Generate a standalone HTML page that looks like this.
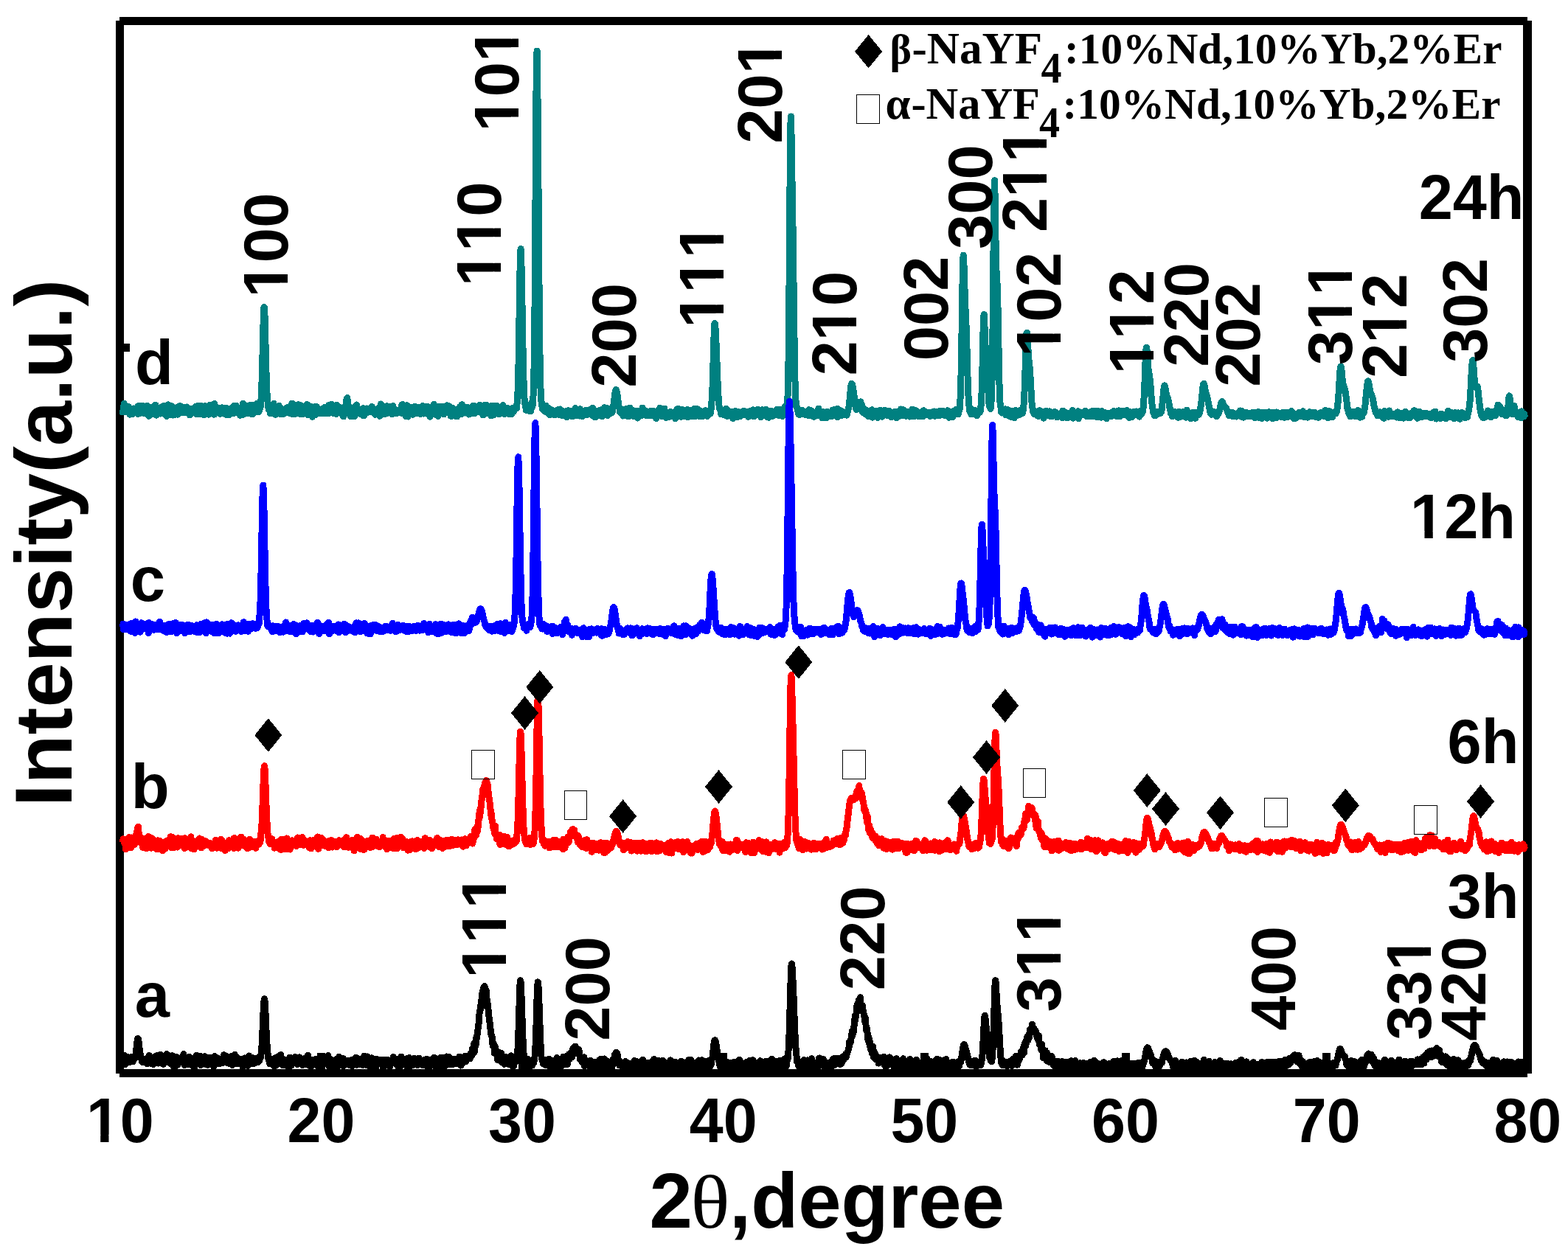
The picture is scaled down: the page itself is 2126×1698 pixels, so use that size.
<!DOCTYPE html>
<html lang="en"><head><meta charset="utf-8"><title>XRD patterns</title>
<style>
html,body{margin:0;padding:0;background:#fff;}
body{width:2126px;height:1698px;overflow:hidden;}
svg{display:block;}
text{font-kerning:none;font-variant-ligatures:none;}
.s{font-family:"Liberation Sans", Arial, Helvetica, sans-serif;font-weight:bold;fill:#000;}
.r{font-family:"Liberation Serif", "Times New Roman", Times, serif;font-weight:bold;fill:#000;}
.c{fill:none;stroke-width:9;stroke-linejoin:round;stroke-linecap:butt;}
</style></head><body>
<svg width="2126" height="1698" viewBox="0 0 2126 1698" role="img" aria-label="XRD patterns">
<rect width="2126" height="1698" fill="#fff"/>
<g id="axes" fill="#000" shape-rendering="crispEdges">
<rect x="157" y="28" width="11" height="1428"/>
<rect x="2065" y="28" width="12" height="1428"/>
<rect x="162" y="23" width="1909" height="11"/>
<rect x="162" y="1450" width="1909" height="11"/>
<rect x="162" y="466" width="14" height="11"/>
<rect x="430.1" y="1428" width="11" height="24"/>
<rect x="702.8" y="1428" width="11" height="24"/>
<rect x="975.4" y="1428" width="11" height="24"/>
<rect x="1248.1" y="1428" width="11" height="24"/>
<rect x="1520.7" y="1428" width="11" height="24"/>
<rect x="1793.4" y="1428" width="11" height="24"/>
</g>
<g id="curves" shape-rendering="crispEdges">
<polyline class="c" stroke="#008080" points="166.5,562.8 167.1,555.2 167.6,554.5 168.2,547.1 168.7,556.3 169.3,555.1 169.8,554.3 170.4,557.5 170.9,557.9 171.5,552.4 172.0,553.0 172.6,554.5 173.1,558.9 173.7,558.4 174.2,551.5 174.8,552.2 175.3,559.0 175.9,562.1 176.4,556.2 177.0,553.8 177.5,560.4 178.1,555.2 178.6,559.0 179.2,562.0 179.7,558.6 180.3,556.6 180.8,559.0 181.4,553.9 181.9,555.7 182.5,554.2 183.0,555.6 183.6,554.5 184.1,555.6 184.7,554.9 185.2,556.6 185.8,556.6 186.3,557.4 186.9,561.5 187.4,550.6 188.0,561.1 188.5,555.4 189.1,551.8 189.6,555.7 190.2,556.7 190.7,560.3 191.3,552.4 191.8,557.1 192.4,556.8 192.9,550.1 193.5,551.9 194.0,558.5 194.6,558.9 195.1,560.4 195.7,558.3 196.2,557.8 196.8,556.8 197.3,560.8 197.9,553.2 198.4,555.8 199.0,557.8 199.5,550.5 200.1,561.2 200.6,553.4 201.2,556.1 201.7,564.3 202.3,553.3 202.8,554.4 203.4,562.1 203.9,552.3 204.5,554.7 205.0,558.2 205.6,558.0 206.1,558.5 206.7,557.7 207.2,561.3 207.8,560.1 208.3,558.5 208.9,553.8 209.4,553.7 210.0,549.3 210.5,558.9 211.1,549.6 211.6,559.6 212.2,563.2 212.7,552.4 213.3,553.8 213.8,554.6 214.4,559.4 214.9,553.2 215.5,555.9 216.0,554.4 216.6,555.4 217.1,561.1 217.7,552.8 218.2,556.6 218.8,557.4 219.3,559.5 219.9,551.7 220.4,560.5 221.0,558.0 221.5,559.6 222.1,556.6 222.6,550.3 223.2,554.0 223.7,559.4 224.3,556.5 224.8,556.2 225.4,563.0 225.9,564.5 226.5,556.2 227.0,563.5 227.6,549.0 228.1,548.8 228.7,559.6 229.2,555.4 229.8,558.5 230.3,558.3 230.9,556.0 231.4,558.9 232.0,556.9 232.5,550.7 233.1,557.2 233.6,557.1 234.2,563.1 234.7,552.2 235.3,556.4 235.8,554.8 236.4,555.9 236.9,562.5 237.5,557.8 238.0,554.7 238.6,556.9 239.1,559.2 239.7,552.7 240.2,555.4 240.8,562.1 241.3,559.5 241.9,556.2 242.4,554.6 243.0,555.8 243.5,550.6 244.1,559.9 244.6,557.6 245.2,556.9 245.7,551.6 246.3,553.7 246.8,558.3 247.4,557.3 247.9,554.5 248.5,558.2 249.0,559.9 249.6,553.9 250.1,554.4 250.7,553.2 251.2,552.1 251.8,559.3 252.3,558.3 252.9,557.6 253.4,552.0 254.0,552.5 254.5,556.1 255.1,554.9 255.6,556.8 256.2,553.8 256.7,558.8 257.3,563.0 257.8,562.1 258.4,562.3 258.9,556.7 259.5,559.8 260.0,555.0 260.6,559.8 261.1,555.0 261.7,554.6 262.2,554.0 262.8,559.0 263.3,557.4 263.9,557.1 264.4,552.2 265.0,556.9 265.5,551.1 266.1,561.9 266.6,555.9 267.2,557.1 267.7,556.0 268.3,550.5 268.8,551.3 269.4,556.3 269.9,561.9 270.5,552.3 271.0,553.8 271.6,556.2 272.1,550.2 272.7,550.1 273.2,554.9 273.8,556.2 274.3,555.0 274.9,562.1 275.4,555.8 276.0,557.7 276.5,562.3 277.1,562.7 277.6,550.5 278.2,555.0 278.7,560.7 279.3,551.3 279.8,553.0 280.4,551.6 280.9,551.4 281.5,552.2 282.0,557.1 282.6,561.1 283.1,562.1 283.7,556.4 284.2,549.1 284.8,556.2 285.3,555.2 285.9,557.7 286.4,555.9 287.0,549.8 287.5,557.9 288.1,548.8 288.6,553.9 289.2,557.6 289.7,557.7 290.3,562.2 290.8,547.7 291.4,557.7 291.9,559.0 292.5,555.2 293.0,558.8 293.6,552.3 294.1,558.8 294.7,558.4 295.2,552.8 295.8,553.9 296.3,555.7 296.9,554.0 297.4,560.3 298.0,557.1 298.5,561.3 299.1,560.8 299.6,556.6 300.2,555.7 300.7,552.9 301.3,553.4 301.8,553.4 302.4,557.7 302.9,553.1 303.5,556.7 304.0,557.1 304.6,554.6 305.1,555.7 305.7,561.8 306.2,562.4 306.8,553.5 307.3,555.7 307.9,555.0 308.4,555.4 309.0,562.1 309.5,558.9 310.1,561.1 310.6,563.0 311.2,554.8 311.7,555.7 312.3,556.6 312.8,560.2 313.4,556.1 313.9,558.8 314.5,560.7 315.0,560.7 315.6,558.1 316.1,553.5 316.7,550.7 317.2,560.5 317.8,558.1 318.3,552.9 318.9,554.5 319.4,554.7 320.0,550.2 320.5,557.3 321.1,553.5 321.6,555.3 322.2,559.1 322.7,556.0 323.3,558.4 323.8,557.9 324.4,556.5 324.9,556.6 325.5,563.3 326.0,555.7 326.6,562.4 327.1,553.0 327.7,559.1 328.2,557.0 328.8,553.7 329.3,547.1 329.9,562.2 330.4,552.1 331.0,552.8 331.5,556.8 332.1,556.5 332.6,557.4 333.2,555.4 333.7,550.8 334.3,559.5 334.8,552.9 335.4,557.1 335.9,558.4 336.5,560.6 337.0,555.5 337.6,555.1 338.1,555.4 338.7,549.4 339.2,553.4 339.8,552.5 340.3,551.9 340.9,556.8 341.4,555.0 342.0,562.0 342.5,561.6 343.1,549.2 343.6,556.5 344.2,552.4 344.7,558.0 345.3,556.5 345.8,559.1 346.4,556.9 346.9,558.3 347.5,554.7 348.0,547.5 348.6,551.8 349.1,552.8 349.7,553.8 350.2,552.3 350.8,558.8 351.3,554.0 351.9,556.4 352.4,551.9 353.0,553.0 353.5,544.8 354.1,540.3 354.6,527.8 355.2,513.8 355.7,494.3 356.3,470.0 356.8,446.9 357.4,427.6 357.9,416.7 358.5,416.9 359.0,428.0 359.6,447.0 360.1,470.4 360.7,493.0 361.2,511.9 361.8,527.6 362.3,540.4 362.9,544.0 363.4,549.2 364.0,553.4 364.5,555.7 365.1,556.2 365.6,551.0 366.2,560.6 366.7,554.7 367.3,555.4 367.8,555.5 368.4,554.8 368.9,552.4 369.5,554.6 370.0,560.4 370.6,551.1 371.1,547.2 371.7,557.9 372.2,557.2 372.8,558.7 373.3,562.4 373.9,553.5 374.4,556.8 375.0,558.0 375.5,560.7 376.1,560.0 376.6,553.1 377.2,551.2 377.7,555.3 378.3,550.3 378.8,560.4 379.4,554.8 379.9,555.0 380.5,553.0 381.0,562.0 381.6,557.4 382.1,554.8 382.7,558.6 383.2,556.1 383.8,558.6 384.3,561.3 384.9,555.4 385.4,558.3 386.0,558.2 386.5,560.6 387.1,558.6 387.6,556.5 388.2,554.0 388.7,557.5 389.3,552.6 389.8,558.9 390.4,556.7 390.9,558.5 391.5,554.5 392.0,553.5 392.6,553.1 393.1,560.5 393.7,555.6 394.2,555.6 394.8,549.8 395.3,556.3 395.9,547.2 396.4,561.5 397.0,555.6 397.5,556.6 398.1,551.2 398.6,552.4 399.2,558.7 399.7,555.7 400.3,558.1 400.8,561.2 401.4,558.9 401.9,549.5 402.5,552.9 403.0,552.3 403.6,553.1 404.1,548.8 404.7,548.9 405.2,553.8 405.8,554.3 406.3,558.4 406.9,555.3 407.4,561.7 408.0,549.8 408.5,551.4 409.1,557.4 409.6,555.5 410.2,552.9 410.7,559.3 411.3,560.5 411.8,561.3 412.4,555.1 412.9,556.5 413.5,557.3 414.0,556.7 414.6,560.2 415.1,554.7 415.7,557.9 416.2,548.5 416.8,559.3 417.3,562.5 417.9,556.4 418.4,560.3 419.0,550.5 419.5,555.3 420.1,550.9 420.6,557.7 421.2,558.4 421.7,551.6 422.3,553.5 422.8,554.4 423.4,565.3 423.9,556.3 424.5,557.0 425.0,557.8 425.6,557.6 426.1,555.7 426.7,551.7 427.2,554.1 427.8,562.5 428.3,557.5 428.9,555.2 429.4,551.7 430.0,556.3 430.5,556.7 431.1,554.2 431.6,559.8 432.2,554.4 432.7,555.9 433.3,559.6 433.8,557.4 434.4,560.6 434.9,555.7 435.5,555.0 436.0,558.2 436.6,557.3 437.1,560.8 437.7,558.0 438.2,556.5 438.8,558.2 439.3,558.9 439.9,552.5 440.4,556.1 441.0,555.4 441.5,560.9 442.1,554.8 442.6,560.4 443.2,552.0 443.7,556.4 444.3,560.4 444.8,555.6 445.4,560.7 445.9,549.3 446.5,556.7 447.0,557.2 447.6,556.1 448.1,551.2 448.7,559.0 449.2,548.2 449.8,560.0 450.3,557.6 450.9,560.1 451.4,555.7 452.0,552.6 452.5,554.7 453.1,554.9 453.6,558.7 454.2,555.5 454.7,558.1 455.3,558.3 455.8,561.6 456.4,549.5 456.9,555.2 457.5,559.0 458.0,559.1 458.6,554.6 459.1,555.7 459.7,556.3 460.2,557.1 460.8,554.6 461.3,554.3 461.9,552.7 462.4,555.3 463.0,561.5 463.5,553.3 464.1,560.0 464.6,563.5 465.2,557.3 465.7,564.9 466.3,556.1 466.8,562.4 467.4,556.0 467.9,550.9 468.5,554.2 469.0,555.9 469.6,543.1 470.1,544.5 470.7,539.6 471.2,542.3 471.8,550.1 472.3,551.0 472.9,556.1 473.4,560.1 474.0,552.2 474.5,554.2 475.1,556.8 475.6,564.9 476.2,555.6 476.7,555.0 477.3,558.3 477.8,564.2 478.4,554.7 478.9,555.7 479.5,557.0 480.0,559.5 480.6,564.5 481.1,552.5 481.7,551.0 482.2,557.4 482.8,558.7 483.3,549.0 483.9,554.7 484.4,560.3 485.0,555.1 485.5,558.6 486.1,557.5 486.6,559.2 487.2,558.4 487.7,557.8 488.3,561.3 488.8,555.0 489.4,557.4 489.9,560.9 490.5,555.0 491.0,555.7 491.6,554.3 492.1,553.7 492.7,564.0 493.2,558.6 493.8,563.5 494.3,559.5 494.9,557.3 495.4,556.0 496.0,557.9 496.5,556.8 497.1,560.2 497.6,554.0 498.2,557.6 498.7,558.6 499.3,556.2 499.8,556.2 500.4,558.9 500.9,558.9 501.5,556.6 502.0,557.0 502.6,555.1 503.1,558.9 503.7,556.6 504.2,551.6 504.8,555.9 505.3,559.1 505.9,557.9 506.4,553.9 507.0,559.5 507.5,559.0 508.1,559.0 508.6,562.2 509.2,555.8 509.7,559.0 510.3,556.0 510.8,560.3 511.4,560.9 511.9,558.6 512.5,559.5 513.0,554.1 513.6,559.0 514.1,552.8 514.7,564.3 515.2,560.8 515.8,551.6 516.3,548.0 516.9,561.3 517.4,553.9 518.0,558.7 518.5,552.3 519.1,557.0 519.6,554.5 520.2,558.8 520.7,555.6 521.3,561.8 521.8,554.1 522.4,561.1 522.9,556.7 523.5,558.5 524.0,551.3 524.6,550.7 525.1,560.3 525.7,552.5 526.2,555.5 526.8,555.6 527.3,553.6 527.9,557.4 528.4,551.9 529.0,552.6 529.5,559.9 530.1,553.9 530.6,559.2 531.2,559.0 531.7,561.9 532.3,558.2 532.8,550.4 533.4,554.5 533.9,555.3 534.5,560.9 535.0,557.9 535.6,555.0 536.1,558.2 536.7,555.5 537.2,558.5 537.8,557.2 538.3,560.5 538.9,557.8 539.4,560.1 540.0,556.6 540.5,559.1 541.1,556.2 541.6,558.9 542.2,557.4 542.7,556.3 543.3,555.3 543.8,555.7 544.4,558.3 544.9,548.9 545.5,560.9 546.0,548.6 546.6,556.0 547.1,555.6 547.7,559.2 548.2,557.5 548.8,556.5 549.3,557.0 549.9,559.9 550.4,564.6 551.0,558.0 551.5,549.7 552.1,555.3 552.6,558.1 553.2,565.1 553.7,554.1 554.3,555.4 554.8,558.6 555.4,557.8 555.9,552.2 556.5,559.9 557.0,552.2 557.6,555.8 558.1,561.2 558.7,552.2 559.2,555.5 559.8,562.3 560.3,555.8 560.9,553.2 561.4,554.7 562.0,559.5 562.5,551.4 563.1,554.6 563.6,551.8 564.2,552.8 564.7,561.0 565.3,556.4 565.8,555.2 566.4,558.1 566.9,554.3 567.5,552.6 568.0,560.6 568.6,559.7 569.1,553.9 569.7,559.1 570.2,561.6 570.8,558.3 571.3,558.4 571.9,552.5 572.4,556.3 573.0,550.4 573.5,560.4 574.1,556.1 574.6,561.1 575.2,554.1 575.7,559.6 576.3,551.4 576.8,555.3 577.4,558.5 577.9,557.9 578.5,556.5 579.0,551.2 579.6,561.1 580.1,558.9 580.7,560.5 581.2,560.5 581.8,555.4 582.3,558.0 582.9,565.1 583.4,553.9 584.0,558.1 584.5,554.8 585.1,562.6 585.6,557.3 586.2,553.2 586.7,554.7 587.3,552.0 587.8,549.0 588.4,548.4 588.9,554.3 589.5,552.9 590.0,557.2 590.6,553.9 591.1,557.5 591.7,562.7 592.2,552.8 592.8,552.6 593.3,560.0 593.9,564.6 594.4,553.8 595.0,551.0 595.5,555.7 596.1,555.3 596.6,559.1 597.2,553.1 597.7,555.8 598.3,555.7 598.8,551.4 599.4,551.4 599.9,558.2 600.5,558.5 601.0,554.0 601.6,562.0 602.1,559.8 602.7,558.3 603.2,558.8 603.8,557.9 604.3,559.1 604.9,559.6 605.4,556.9 606.0,549.8 606.5,556.2 607.1,553.9 607.6,552.7 608.2,558.7 608.7,550.7 609.3,559.5 609.8,554.6 610.4,552.6 610.9,553.8 611.5,564.5 612.0,561.6 612.6,555.7 613.1,560.3 613.7,562.7 614.2,553.8 614.8,555.7 615.3,559.8 615.9,558.0 616.4,555.5 617.0,562.1 617.5,558.4 618.1,559.3 618.6,564.7 619.2,558.3 619.7,564.9 620.3,557.7 620.8,556.2 621.4,557.1 621.9,559.6 622.5,558.9 623.0,557.9 623.6,551.7 624.1,553.1 624.7,555.8 625.2,559.1 625.8,561.5 626.3,548.7 626.9,556.2 627.4,555.2 628.0,556.3 628.5,557.4 629.1,553.8 629.6,552.3 630.2,560.1 630.7,559.2 631.3,555.3 631.8,556.3 632.4,554.4 632.9,552.0 633.5,558.8 634.0,554.4 634.6,552.9 635.1,554.7 635.7,562.1 636.2,558.1 636.8,557.5 637.3,557.0 637.9,559.5 638.4,559.1 639.0,552.3 639.5,555.9 640.1,554.5 640.6,557.4 641.2,556.4 641.7,550.0 642.3,560.5 642.8,557.5 643.4,550.9 643.9,560.4 644.5,557.0 645.0,558.2 645.6,556.7 646.1,557.2 646.7,555.0 647.2,551.1 647.8,554.6 648.3,557.2 648.9,556.7 649.4,558.7 650.0,556.3 650.5,549.2 651.1,559.0 651.6,553.9 652.2,552.1 652.7,555.5 653.3,552.1 653.8,557.7 654.4,553.5 654.9,562.9 655.5,555.7 656.0,554.7 656.6,554.4 657.1,549.4 657.7,553.7 658.2,554.0 658.8,555.4 659.3,549.2 659.9,556.6 660.4,560.7 661.0,555.1 661.5,556.3 662.1,557.9 662.6,553.9 663.2,555.1 663.7,559.7 664.3,557.2 664.8,552.5 665.4,550.7 665.9,564.0 666.5,558.0 667.0,551.4 667.6,557.1 668.1,558.8 668.7,557.0 669.2,550.5 669.8,562.5 670.3,558.6 670.9,556.0 671.4,558.9 672.0,555.9 672.5,555.5 673.1,559.5 673.6,550.2 674.2,559.9 674.7,557.9 675.3,559.1 675.8,559.6 676.4,561.7 676.9,561.3 677.5,559.5 678.0,555.4 678.6,558.9 679.1,555.1 679.7,553.6 680.2,558.1 680.8,557.8 681.3,560.5 681.9,549.7 682.4,558.6 683.0,558.8 683.5,557.0 684.1,561.4 684.6,553.8 685.2,557.7 685.7,555.4 686.3,556.5 686.8,553.4 687.4,556.1 687.9,558.7 688.5,556.9 689.0,557.6 689.6,553.9 690.1,561.5 690.7,554.1 691.2,556.3 691.8,558.1 692.3,555.6 692.9,558.5 693.4,556.6 694.0,561.3 694.5,557.5 695.1,556.9 695.6,553.2 696.2,556.8 696.7,558.1 697.3,556.2 697.8,552.4 698.4,553.2 698.9,553.6 699.5,553.5 700.0,549.8 700.6,553.5 701.1,546.3 701.7,539.2 702.2,525.7 702.8,505.8 703.3,478.1 703.9,441.0 704.4,402.5 705.0,367.7 705.5,344.5 706.1,337.6 706.6,346.5 707.2,367.5 707.7,396.3 708.3,429.7 708.8,462.5 709.4,490.5 709.9,512.9 710.5,530.3 711.0,540.7 711.6,546.2 712.1,548.5 712.7,548.7 713.2,556.3 713.8,549.6 714.3,555.0 714.9,553.1 715.4,551.7 716.0,556.1 716.5,551.6 717.1,557.1 717.6,550.5 718.2,554.6 718.7,556.4 719.3,550.1 719.8,557.5 720.4,553.7 720.9,545.9 721.5,552.5 722.0,551.2 722.6,543.3 723.1,535.5 723.7,520.5 724.2,489.6 724.8,444.8 725.3,377.9 725.9,292.8 726.4,202.7 727.0,124.1 727.5,76.3 728.1,69.1 728.6,97.0 729.2,149.6 729.7,217.7 730.3,292.1 730.8,363.8 731.4,425.6 731.9,475.2 732.5,505.5 733.0,526.6 733.6,541.0 734.1,545.3 734.7,547.0 735.2,554.1 735.8,552.8 736.3,551.0 736.9,552.4 737.4,556.5 738.0,553.3 738.5,555.5 739.1,557.7 739.6,558.4 740.2,550.1 740.7,554.4 741.3,555.1 741.8,556.6 742.4,558.9 742.9,560.3 743.5,555.4 744.0,553.5 744.6,557.7 745.1,555.4 745.7,562.8 746.2,558.6 746.8,557.8 747.3,560.8 747.9,555.8 748.4,556.9 749.0,557.5 749.5,560.2 750.1,562.3 750.6,560.8 751.2,560.8 751.7,557.8 752.3,559.7 752.8,557.9 753.4,562.3 753.9,556.9 754.5,558.7 755.0,559.7 755.6,561.5 756.1,556.9 756.7,558.5 757.2,556.7 757.8,555.2 758.3,562.7 758.9,560.9 759.4,554.9 760.0,556.6 760.5,561.4 761.1,557.8 761.6,556.5 762.2,563.7 762.7,558.4 763.3,558.8 763.8,561.8 764.4,557.9 764.9,560.2 765.5,560.7 766.0,562.5 766.6,557.9 767.1,563.5 767.7,561.2 768.2,565.7 768.8,560.9 769.3,558.6 769.9,558.6 770.4,556.7 771.0,560.2 771.5,560.0 772.1,563.0 772.6,560.5 773.2,557.6 773.7,563.4 774.3,558.9 774.8,561.0 775.4,564.7 775.9,564.1 776.5,558.0 777.0,559.9 777.6,564.3 778.1,563.2 778.7,561.9 779.2,562.9 779.8,553.6 780.3,559.3 780.9,555.8 781.4,558.3 782.0,559.0 782.5,561.6 783.1,563.8 783.6,562.6 784.2,561.0 784.7,559.1 785.3,564.1 785.8,561.0 786.4,554.7 786.9,559.9 787.5,561.6 788.0,557.2 788.6,560.8 789.1,564.7 789.7,559.3 790.2,559.9 790.8,560.0 791.3,557.1 791.9,558.6 792.4,557.0 793.0,559.2 793.5,557.6 794.1,563.0 794.6,559.7 795.2,562.6 795.7,556.2 796.3,560.0 796.8,561.8 797.4,562.1 797.9,558.1 798.5,559.7 799.0,560.4 799.6,559.0 800.1,558.8 800.7,561.6 801.2,556.4 801.8,554.5 802.3,558.6 802.9,560.9 803.4,553.1 804.0,564.2 804.5,560.3 805.1,561.8 805.6,557.5 806.2,559.9 806.7,565.6 807.3,565.7 807.8,562.0 808.4,559.2 808.9,559.8 809.5,564.1 810.0,557.9 810.6,557.3 811.1,559.7 811.7,562.8 812.2,556.8 812.8,561.1 813.3,561.2 813.9,560.5 814.4,559.6 815.0,562.9 815.5,561.8 816.1,555.6 816.6,564.9 817.2,561.4 817.7,560.9 818.3,558.9 818.8,559.1 819.4,552.8 819.9,559.2 820.5,561.7 821.0,561.7 821.6,557.9 822.1,553.0 822.7,556.6 823.2,559.0 823.8,563.4 824.3,555.5 824.9,559.9 825.4,561.3 826.0,561.3 826.5,559.6 827.1,554.7 827.6,560.9 828.2,559.8 828.7,560.2 829.3,557.5 829.8,557.6 830.4,558.6 830.9,555.0 831.5,552.3 832.0,548.3 832.6,544.8 833.1,539.2 833.7,535.0 834.2,531.4 834.8,529.1 835.3,528.5 835.9,529.6 836.4,532.1 837.0,535.4 837.5,539.3 838.1,543.6 838.6,546.5 839.2,551.9 839.7,552.9 840.3,557.1 840.8,559.3 841.4,560.0 841.9,559.5 842.5,558.4 843.0,555.6 843.6,561.1 844.1,559.4 844.7,564.1 845.2,559.3 845.8,561.7 846.3,559.0 846.9,561.3 847.4,559.2 848.0,559.7 848.5,554.8 849.1,558.1 849.6,559.8 850.2,564.0 850.7,561.0 851.3,556.6 851.8,565.0 852.4,561.3 852.9,563.6 853.5,557.6 854.0,553.0 854.6,558.0 855.1,557.2 855.7,561.1 856.2,555.7 856.8,557.6 857.3,556.2 857.9,560.7 858.4,557.5 859.0,564.4 859.5,562.7 860.1,562.8 860.6,559.7 861.2,561.1 861.7,562.9 862.3,557.8 862.8,564.1 863.4,560.2 863.9,564.2 864.5,567.1 865.0,565.1 865.6,557.2 866.1,564.0 866.7,559.5 867.2,559.1 867.8,559.7 868.3,556.9 868.9,561.1 869.4,558.3 870.0,563.7 870.5,561.4 871.1,553.1 871.6,557.6 872.2,557.4 872.7,558.4 873.3,558.4 873.8,561.0 874.4,559.9 874.9,557.2 875.5,561.7 876.0,563.1 876.6,560.4 877.1,563.9 877.7,561.7 878.2,558.8 878.8,559.3 879.3,560.4 879.9,562.0 880.4,560.9 881.0,563.3 881.5,563.8 882.1,557.5 882.6,557.0 883.2,560.1 883.7,561.8 884.3,563.1 884.8,562.3 885.4,562.3 885.9,557.7 886.5,561.5 887.0,558.6 887.6,561.7 888.1,563.1 888.7,558.5 889.2,559.7 889.8,567.7 890.3,558.2 890.9,559.0 891.4,557.3 892.0,556.3 892.5,563.4 893.1,558.5 893.6,558.6 894.2,558.1 894.7,553.3 895.3,562.7 895.8,558.8 896.4,560.3 896.9,564.5 897.5,560.0 898.0,560.8 898.6,561.0 899.1,564.2 899.7,556.5 900.2,558.8 900.8,554.1 901.3,560.6 901.9,562.3 902.4,559.2 903.0,566.3 903.5,563.4 904.1,566.2 904.6,561.0 905.2,565.8 905.7,559.1 906.3,561.8 906.8,560.9 907.4,559.4 907.9,565.4 908.5,564.5 909.0,558.6 909.6,562.7 910.1,560.9 910.7,561.1 911.2,562.4 911.8,559.2 912.3,561.3 912.9,561.6 913.4,559.0 914.0,559.2 914.5,563.2 915.1,560.8 915.6,567.6 916.2,566.9 916.7,558.6 917.3,561.6 917.8,554.8 918.4,558.7 918.9,558.0 919.5,558.4 920.0,554.4 920.6,561.3 921.1,561.0 921.7,558.2 922.2,560.3 922.8,563.2 923.3,565.2 923.9,556.7 924.4,565.1 925.0,555.6 925.5,558.1 926.1,559.4 926.6,565.0 927.2,562.2 927.7,562.2 928.3,565.0 928.8,561.2 929.4,559.2 929.9,564.7 930.5,559.9 931.0,556.8 931.6,555.5 932.1,561.0 932.7,565.9 933.2,562.6 933.8,560.6 934.3,564.0 934.9,556.2 935.4,561.7 936.0,558.9 936.5,564.4 937.1,558.1 937.6,562.8 938.2,561.1 938.7,560.5 939.3,562.5 939.8,560.1 940.4,564.6 940.9,559.9 941.5,554.2 942.0,564.6 942.6,564.3 943.1,561.9 943.7,564.4 944.2,562.4 944.8,558.1 945.3,554.6 945.9,557.4 946.4,559.6 947.0,561.9 947.5,556.3 948.1,557.8 948.6,564.7 949.2,558.4 949.7,558.3 950.3,557.6 950.8,564.9 951.4,562.6 951.9,562.8 952.5,565.0 953.0,563.0 953.6,564.0 954.1,561.2 954.7,562.6 955.2,561.9 955.8,562.1 956.3,556.8 956.9,559.4 957.4,559.0 958.0,558.2 958.5,559.7 959.1,564.4 959.6,562.0 960.2,559.8 960.7,560.2 961.3,562.3 961.8,556.5 962.4,559.4 962.9,561.0 963.5,559.8 964.0,556.2 964.6,551.9 965.1,542.9 965.7,533.9 966.2,519.8 966.8,501.5 967.3,480.8 967.9,460.6 968.4,445.8 969.0,438.5 969.5,439.3 970.1,446.1 970.6,456.5 971.2,468.9 971.7,482.7 972.3,497.7 972.8,512.7 973.4,525.1 973.9,535.4 974.5,544.1 975.0,550.1 975.6,554.4 976.1,554.2 976.7,556.6 977.2,558.2 977.8,562.0 978.3,560.5 978.9,559.1 979.4,561.8 980.0,560.2 980.5,560.4 981.1,562.7 981.6,560.9 982.2,560.4 982.7,562.0 983.3,558.6 983.8,560.3 984.4,554.4 984.9,559.1 985.5,564.5 986.0,559.3 986.6,560.3 987.1,559.2 987.7,557.5 988.2,561.7 988.8,560.3 989.3,563.4 989.9,558.0 990.4,560.5 991.0,559.5 991.5,558.8 992.1,563.5 992.6,558.5 993.2,558.5 993.7,567.4 994.3,560.3 994.8,560.0 995.4,561.8 995.9,557.8 996.5,561.5 997.0,557.3 997.6,559.2 998.1,559.0 998.7,564.3 999.2,562.3 999.8,565.7 1000.3,565.2 1000.9,558.7 1001.4,562.1 1002.0,559.4 1002.5,558.9 1003.1,563.9 1003.6,564.6 1004.2,561.0 1004.7,561.5 1005.3,561.4 1005.8,561.5 1006.4,561.6 1006.9,557.8 1007.5,562.3 1008.0,558.7 1008.6,557.4 1009.1,560.2 1009.7,561.4 1010.2,562.9 1010.8,561.7 1011.3,561.4 1011.9,558.8 1012.4,561.7 1013.0,561.2 1013.5,561.4 1014.1,558.6 1014.6,565.3 1015.2,562.7 1015.7,562.5 1016.3,560.9 1016.8,559.9 1017.4,563.2 1017.9,557.0 1018.5,559.4 1019.0,559.8 1019.6,562.2 1020.1,559.8 1020.7,564.5 1021.2,555.8 1021.8,564.9 1022.3,561.5 1022.9,563.2 1023.4,559.2 1024.0,563.4 1024.5,559.7 1025.1,561.3 1025.6,556.6 1026.2,562.1 1026.7,560.9 1027.3,555.4 1027.8,560.3 1028.4,559.7 1028.9,562.8 1029.5,558.7 1030.0,561.1 1030.6,564.1 1031.1,558.2 1031.7,565.7 1032.2,561.2 1032.8,559.9 1033.3,556.8 1033.9,555.7 1034.4,563.2 1035.0,559.3 1035.5,558.9 1036.1,563.4 1036.6,562.4 1037.2,560.9 1037.7,556.5 1038.3,555.2 1038.8,563.1 1039.4,560.4 1039.9,559.8 1040.5,565.7 1041.0,559.3 1041.6,561.5 1042.1,566.3 1042.7,562.1 1043.2,559.0 1043.8,558.2 1044.3,563.8 1044.9,557.1 1045.4,562.7 1046.0,564.8 1046.5,560.1 1047.1,562.6 1047.6,560.6 1048.2,564.2 1048.7,561.1 1049.3,558.4 1049.8,561.3 1050.4,560.7 1050.9,558.6 1051.5,559.6 1052.0,556.9 1052.6,557.9 1053.1,561.9 1053.7,555.1 1054.2,560.8 1054.8,560.0 1055.3,558.4 1055.9,563.7 1056.4,561.7 1057.0,558.2 1057.5,560.2 1058.1,562.1 1058.6,555.3 1059.2,560.0 1059.7,558.6 1060.3,560.2 1060.8,564.5 1061.4,557.1 1061.9,557.7 1062.5,555.3 1063.0,558.6 1063.6,559.2 1064.1,551.6 1064.7,560.0 1065.2,559.5 1065.8,550.5 1066.3,551.3 1066.9,552.2 1067.4,546.6 1068.0,537.8 1068.5,516.9 1069.1,485.2 1069.6,432.8 1070.2,366.7 1070.7,290.2 1071.3,219.3 1071.8,171.2 1072.4,157.9 1072.9,175.4 1073.5,209.1 1074.0,245.5 1074.6,279.4 1075.1,313.7 1075.7,354.0 1076.2,398.8 1076.8,442.5 1077.3,479.5 1077.9,512.9 1078.4,531.3 1079.0,543.4 1079.5,549.7 1080.1,552.5 1080.6,552.0 1081.2,556.3 1081.7,557.4 1082.3,559.9 1082.8,562.0 1083.4,556.5 1083.9,562.7 1084.5,559.0 1085.0,560.5 1085.6,556.5 1086.1,560.3 1086.7,557.0 1087.2,561.4 1087.8,556.4 1088.3,559.9 1088.9,558.8 1089.4,560.9 1090.0,560.7 1090.5,560.5 1091.1,558.8 1091.6,562.5 1092.2,561.8 1092.7,558.2 1093.3,562.4 1093.8,558.7 1094.4,560.7 1094.9,560.2 1095.5,560.3 1096.0,562.7 1096.6,555.8 1097.1,564.0 1097.7,555.9 1098.2,564.0 1098.8,562.2 1099.3,556.8 1099.9,561.7 1100.4,559.9 1101.0,557.6 1101.5,564.0 1102.1,563.8 1102.6,561.9 1103.2,565.3 1103.7,561.3 1104.3,560.2 1104.8,564.4 1105.4,559.0 1105.9,563.1 1106.5,563.9 1107.0,561.6 1107.6,561.3 1108.1,562.3 1108.7,561.7 1109.2,559.2 1109.8,554.1 1110.3,559.7 1110.9,557.2 1111.4,563.6 1112.0,559.9 1112.5,561.7 1113.1,563.1 1113.6,563.8 1114.2,558.6 1114.7,566.8 1115.3,563.5 1115.8,562.8 1116.4,558.7 1116.9,566.5 1117.5,562.9 1118.0,564.1 1118.6,560.3 1119.1,566.2 1119.7,565.0 1120.2,560.9 1120.8,566.4 1121.3,558.3 1121.9,563.4 1122.4,562.8 1123.0,563.0 1123.5,559.3 1124.1,560.1 1124.6,563.6 1125.2,563.9 1125.7,560.9 1126.3,560.4 1126.8,559.7 1127.4,564.5 1127.9,560.6 1128.5,559.6 1129.0,556.0 1129.6,556.3 1130.1,558.0 1130.7,555.6 1131.2,559.8 1131.8,560.1 1132.3,558.2 1132.9,559.7 1133.4,560.6 1134.0,556.2 1134.5,562.7 1135.1,554.3 1135.6,565.9 1136.2,556.9 1136.7,560.9 1137.3,559.8 1137.8,561.8 1138.4,558.8 1138.9,562.2 1139.5,556.7 1140.0,562.7 1140.6,560.0 1141.1,561.7 1141.7,563.3 1142.2,557.7 1142.8,559.2 1143.3,558.8 1143.9,560.4 1144.4,561.0 1145.0,562.2 1145.5,561.0 1146.1,560.2 1146.6,561.5 1147.2,562.2 1147.7,561.8 1148.3,563.1 1148.8,558.5 1149.4,558.7 1149.9,555.5 1150.5,553.9 1151.0,551.5 1151.6,547.2 1152.1,540.7 1152.7,534.9 1153.2,528.9 1153.8,524.1 1154.3,521.1 1154.9,520.2 1155.4,521.2 1156.0,523.5 1156.5,526.6 1157.1,530.0 1157.6,534.1 1158.2,537.6 1158.7,542.0 1159.3,544.7 1159.8,547.8 1160.4,551.8 1160.9,555.4 1161.5,555.0 1162.0,554.2 1162.6,554.8 1163.1,554.1 1163.7,552.6 1164.2,550.4 1164.8,546.8 1165.3,545.6 1165.9,546.4 1166.4,547.2 1167.0,544.8 1167.5,552.5 1168.1,551.1 1168.6,549.4 1169.2,553.9 1169.7,559.4 1170.3,555.2 1170.8,556.4 1171.4,559.6 1171.9,554.5 1172.5,557.3 1173.0,557.4 1173.6,561.8 1174.1,555.9 1174.7,561.3 1175.2,559.3 1175.8,560.0 1176.3,559.3 1176.9,564.6 1177.4,558.6 1178.0,557.8 1178.5,561.7 1179.1,559.4 1179.6,562.2 1180.2,560.7 1180.7,561.0 1181.3,561.1 1181.8,556.6 1182.4,555.8 1182.9,566.1 1183.5,557.9 1184.0,562.3 1184.6,558.1 1185.1,560.7 1185.7,560.3 1186.2,564.7 1186.8,560.4 1187.3,557.1 1187.9,557.4 1188.4,561.7 1189.0,563.2 1189.5,566.1 1190.1,566.4 1190.6,557.4 1191.2,560.7 1191.7,557.9 1192.3,561.7 1192.8,563.0 1193.4,556.4 1193.9,563.2 1194.5,562.8 1195.0,560.4 1195.6,559.5 1196.1,565.2 1196.7,560.6 1197.2,558.3 1197.8,561.3 1198.3,563.6 1198.9,562.8 1199.4,556.1 1200.0,557.6 1200.5,560.0 1201.1,561.4 1201.6,561.4 1202.2,557.9 1202.7,563.3 1203.3,562.2 1203.8,557.1 1204.4,558.6 1204.9,560.8 1205.5,557.2 1206.0,561.1 1206.6,561.5 1207.1,559.9 1207.7,562.5 1208.2,565.6 1208.8,559.4 1209.3,562.3 1209.9,559.9 1210.4,564.9 1211.0,564.2 1211.5,561.1 1212.1,559.5 1212.6,563.0 1213.2,560.9 1213.7,558.0 1214.3,558.6 1214.8,560.7 1215.4,566.5 1215.9,563.8 1216.5,564.6 1217.0,563.5 1217.6,564.5 1218.1,564.9 1218.7,558.3 1219.2,562.6 1219.8,562.7 1220.3,562.3 1220.9,562.1 1221.4,554.9 1222.0,561.6 1222.5,557.7 1223.1,563.5 1223.6,559.8 1224.2,560.4 1224.7,561.0 1225.3,556.0 1225.8,560.7 1226.4,557.9 1226.9,563.5 1227.5,559.8 1228.0,558.3 1228.6,564.2 1229.1,560.3 1229.7,558.7 1230.2,560.8 1230.8,560.6 1231.3,561.7 1231.9,558.6 1232.4,563.7 1233.0,561.9 1233.5,565.1 1234.1,562.5 1234.6,558.7 1235.2,563.7 1235.7,560.5 1236.3,561.4 1236.8,555.0 1237.4,558.0 1237.9,564.5 1238.5,563.8 1239.0,556.8 1239.6,561.9 1240.1,562.0 1240.7,564.2 1241.2,558.4 1241.8,556.8 1242.3,561.9 1242.9,559.5 1243.4,559.7 1244.0,558.9 1244.5,564.2 1245.1,559.0 1245.6,563.5 1246.2,562.7 1246.7,559.5 1247.3,563.6 1247.8,564.3 1248.4,562.0 1248.9,560.6 1249.5,563.0 1250.0,559.3 1250.6,562.4 1251.1,564.9 1251.7,557.8 1252.2,556.7 1252.8,562.9 1253.3,559.0 1253.9,560.0 1254.4,561.5 1255.0,559.6 1255.5,561.5 1256.1,558.7 1256.6,559.8 1257.2,560.9 1257.7,562.5 1258.3,560.1 1258.8,562.0 1259.4,562.6 1259.9,562.4 1260.5,560.9 1261.0,564.3 1261.6,559.2 1262.1,563.7 1262.7,563.6 1263.2,563.3 1263.8,559.9 1264.3,563.5 1264.9,562.3 1265.4,558.4 1266.0,560.4 1266.5,557.9 1267.1,562.1 1267.6,564.5 1268.2,563.4 1268.7,558.7 1269.3,558.7 1269.8,560.7 1270.4,560.8 1270.9,562.9 1271.5,560.3 1272.0,563.9 1272.6,559.8 1273.1,563.6 1273.7,557.6 1274.2,559.8 1274.8,561.2 1275.3,563.1 1275.9,562.4 1276.4,559.0 1277.0,557.9 1277.5,561.0 1278.1,560.9 1278.6,560.1 1279.2,561.0 1279.7,557.8 1280.3,562.3 1280.8,563.4 1281.4,558.9 1281.9,559.0 1282.5,564.0 1283.0,563.6 1283.6,559.1 1284.1,559.3 1284.7,556.7 1285.2,562.1 1285.8,561.4 1286.3,561.0 1286.9,566.3 1287.4,560.4 1288.0,560.6 1288.5,561.4 1289.1,560.3 1289.6,563.4 1290.2,560.3 1290.7,561.0 1291.3,566.0 1291.8,559.2 1292.4,557.7 1292.9,560.9 1293.5,559.0 1294.0,558.9 1294.6,560.8 1295.1,562.1 1295.7,556.6 1296.2,559.5 1296.8,555.2 1297.3,561.5 1297.9,557.3 1298.4,560.3 1299.0,562.0 1299.5,560.5 1300.1,558.0 1300.6,552.8 1301.2,554.9 1301.7,545.8 1302.3,536.2 1302.8,517.4 1303.4,492.1 1303.9,459.8 1304.5,420.9 1305.0,385.1 1305.6,358.1 1306.1,346.1 1306.7,350.2 1307.2,365.7 1307.8,385.0 1308.3,402.5 1308.9,416.4 1309.4,427.5 1310.0,440.7 1310.5,457.6 1311.1,476.5 1311.6,497.5 1312.2,516.2 1312.7,531.9 1313.3,542.3 1313.8,549.2 1314.4,553.3 1314.9,557.9 1315.5,555.4 1316.0,558.7 1316.6,561.7 1317.1,556.2 1317.7,555.5 1318.2,561.0 1318.8,557.8 1319.3,558.0 1319.9,561.2 1320.4,560.5 1321.0,558.3 1321.5,559.1 1322.1,556.4 1322.6,558.5 1323.2,559.7 1323.7,561.1 1324.3,561.2 1324.8,563.7 1325.4,559.6 1325.9,561.8 1326.5,560.1 1327.0,557.5 1327.6,559.8 1328.1,559.4 1328.7,559.2 1329.2,557.4 1329.8,553.8 1330.3,546.7 1330.9,536.7 1331.4,520.3 1332.0,497.7 1332.5,471.5 1333.1,446.7 1333.6,430.3 1334.2,426.6 1334.7,435.0 1335.3,450.0 1335.8,464.6 1336.4,474.7 1336.9,480.0 1337.5,483.1 1338.0,489.5 1338.6,498.1 1339.1,511.2 1339.7,524.9 1340.2,535.4 1340.8,546.3 1341.3,549.7 1341.9,551.9 1342.4,552.0 1343.0,554.7 1343.5,552.4 1344.1,543.7 1344.6,530.9 1345.2,509.1 1345.7,473.0 1346.3,421.8 1346.8,361.6 1347.4,301.7 1347.9,259.0 1348.5,244.7 1349.0,261.1 1349.6,295.9 1350.1,332.4 1350.7,358.7 1351.2,371.9 1351.8,379.1 1352.3,390.0 1352.9,410.3 1353.4,438.7 1354.0,471.3 1354.5,501.9 1355.1,524.6 1355.6,538.6 1356.2,549.3 1356.7,549.9 1357.3,556.4 1357.8,559.4 1358.4,560.1 1358.9,557.7 1359.5,559.5 1360.0,559.7 1360.6,559.1 1361.1,557.7 1361.7,556.3 1362.2,558.3 1362.8,556.9 1363.3,554.9 1363.9,562.8 1364.4,556.4 1365.0,558.4 1365.5,558.4 1366.1,555.8 1366.6,560.7 1367.2,555.8 1367.7,564.2 1368.3,556.6 1368.8,558.1 1369.4,559.6 1369.9,559.7 1370.5,560.0 1371.0,562.8 1371.6,563.4 1372.1,566.0 1372.7,557.8 1373.2,563.3 1373.8,562.5 1374.3,560.2 1374.9,557.7 1375.4,566.7 1376.0,563.9 1376.5,556.6 1377.1,564.6 1377.6,562.1 1378.2,561.5 1378.7,562.8 1379.3,559.4 1379.8,560.5 1380.4,563.0 1380.9,558.1 1381.5,557.6 1382.0,556.9 1382.6,562.2 1383.1,558.2 1383.7,559.6 1384.2,559.2 1384.8,561.1 1385.3,560.4 1385.9,557.9 1386.4,560.5 1387.0,557.3 1387.5,554.1 1388.1,548.0 1388.6,539.7 1389.2,527.6 1389.7,512.0 1390.3,493.8 1390.8,475.5 1391.4,460.4 1391.9,451.9 1392.5,451.4 1393.0,457.5 1393.6,466.9 1394.1,476.4 1394.7,484.0 1395.2,489.8 1395.8,494.8 1396.3,500.9 1396.9,509.2 1397.4,518.2 1398.0,528.7 1398.5,535.5 1399.1,547.8 1399.6,551.4 1400.2,554.7 1400.7,558.4 1401.3,558.5 1401.8,558.3 1402.4,561.7 1402.9,560.4 1403.5,559.0 1404.0,562.1 1404.6,561.7 1405.1,561.6 1405.7,560.1 1406.2,563.4 1406.8,558.8 1407.3,563.0 1407.9,564.6 1408.4,558.8 1409.0,561.6 1409.5,556.8 1410.1,561.2 1410.6,557.0 1411.2,557.9 1411.7,561.7 1412.3,563.8 1412.8,562.4 1413.4,560.7 1413.9,559.3 1414.5,561.3 1415.0,567.1 1415.6,564.7 1416.1,558.0 1416.7,559.6 1417.2,557.8 1417.8,562.7 1418.3,560.6 1418.9,557.6 1419.4,560.9 1420.0,560.2 1420.5,558.8 1421.1,560.5 1421.6,563.5 1422.2,559.1 1422.7,560.5 1423.3,557.9 1423.8,560.4 1424.4,564.7 1424.9,562.7 1425.5,559.7 1426.0,559.9 1426.6,564.5 1427.1,561.1 1427.7,560.2 1428.2,564.2 1428.8,560.5 1429.3,559.7 1429.9,562.5 1430.4,558.4 1431.0,560.5 1431.5,559.7 1432.1,561.9 1432.6,561.3 1433.2,566.0 1433.7,563.3 1434.3,561.7 1434.8,563.0 1435.4,561.1 1435.9,562.3 1436.5,563.1 1437.0,562.8 1437.6,565.1 1438.1,563.1 1438.7,560.0 1439.2,562.4 1439.8,559.0 1440.3,566.6 1440.9,557.2 1441.4,561.4 1442.0,562.9 1442.5,559.5 1443.1,560.7 1443.6,564.2 1444.2,558.8 1444.7,563.9 1445.3,561.1 1445.8,560.8 1446.4,566.5 1446.9,563.6 1447.5,562.6 1448.0,561.1 1448.6,562.1 1449.1,561.3 1449.7,566.1 1450.2,562.2 1450.8,560.0 1451.3,560.5 1451.9,562.7 1452.4,559.1 1453.0,559.9 1453.5,557.9 1454.1,556.2 1454.6,567.2 1455.2,561.2 1455.7,566.1 1456.3,563.1 1456.8,562.5 1457.4,559.1 1457.9,561.7 1458.5,562.2 1459.0,559.6 1459.6,563.5 1460.1,564.8 1460.7,563.0 1461.2,562.3 1461.8,557.7 1462.3,567.6 1462.9,563.7 1463.4,559.0 1464.0,559.0 1464.5,560.2 1465.1,559.4 1465.6,561.9 1466.2,559.8 1466.7,562.1 1467.3,560.7 1467.8,561.2 1468.4,559.0 1468.9,562.3 1469.5,562.5 1470.0,559.9 1470.6,557.8 1471.1,562.0 1471.7,557.5 1472.2,559.9 1472.8,562.9 1473.3,564.8 1473.9,561.1 1474.4,562.6 1475.0,564.9 1475.5,559.2 1476.1,560.7 1476.6,562.5 1477.2,565.0 1477.7,558.9 1478.3,558.8 1478.8,564.1 1479.4,564.7 1479.9,560.3 1480.5,561.9 1481.0,564.1 1481.6,561.2 1482.1,557.1 1482.7,562.3 1483.2,564.0 1483.8,558.7 1484.3,564.9 1484.9,561.0 1485.4,557.4 1486.0,562.2 1486.5,558.0 1487.1,565.0 1487.6,562.9 1488.2,566.0 1488.7,557.7 1489.3,562.0 1489.8,565.2 1490.4,564.6 1490.9,563.3 1491.5,562.6 1492.0,563.3 1492.6,564.2 1493.1,566.1 1493.7,557.5 1494.2,559.3 1494.8,560.3 1495.3,562.2 1495.9,562.7 1496.4,560.9 1497.0,561.5 1497.5,563.6 1498.1,564.7 1498.6,559.8 1499.2,561.1 1499.7,561.9 1500.3,567.7 1500.8,560.1 1501.4,562.5 1501.9,561.8 1502.5,560.7 1503.0,564.0 1503.6,561.5 1504.1,560.5 1504.7,561.9 1505.2,562.4 1505.8,560.2 1506.3,559.9 1506.9,564.4 1507.4,560.3 1508.0,563.9 1508.5,561.3 1509.1,559.6 1509.6,558.9 1510.2,557.5 1510.7,563.3 1511.3,563.2 1511.8,560.6 1512.4,559.0 1512.9,560.2 1513.5,561.9 1514.0,564.6 1514.6,559.9 1515.1,557.4 1515.7,562.0 1516.2,560.6 1516.8,559.5 1517.3,556.9 1517.9,562.9 1518.4,564.9 1519.0,559.0 1519.5,557.8 1520.1,560.1 1520.6,560.7 1521.2,562.7 1521.7,561.6 1522.3,557.2 1522.8,562.0 1523.4,562.1 1523.9,560.0 1524.5,562.0 1525.0,558.0 1525.6,560.5 1526.1,558.0 1526.7,561.3 1527.2,563.2 1527.8,556.5 1528.3,561.4 1528.9,563.1 1529.4,561.9 1530.0,565.2 1530.5,561.1 1531.1,566.6 1531.6,561.6 1532.2,558.4 1532.7,561.0 1533.3,559.7 1533.8,564.3 1534.4,565.3 1534.9,565.5 1535.5,563.2 1536.0,561.0 1536.6,559.9 1537.1,558.6 1537.7,563.0 1538.2,558.3 1538.8,560.7 1539.3,561.8 1539.9,562.3 1540.4,557.9 1541.0,558.2 1541.5,558.4 1542.1,563.2 1542.6,558.5 1543.2,559.0 1543.7,562.4 1544.3,563.1 1544.8,565.1 1545.4,560.9 1545.9,562.7 1546.5,557.2 1547.0,561.7 1547.6,561.8 1548.1,561.4 1548.7,558.3 1549.2,559.3 1549.8,556.4 1550.3,549.8 1550.9,542.5 1551.4,531.9 1552.0,519.0 1552.5,504.5 1553.1,489.6 1553.6,477.9 1554.2,471.4 1554.7,471.1 1555.3,476.3 1555.8,484.5 1556.4,493.1 1556.9,499.9 1557.5,504.4 1558.0,506.8 1558.6,508.7 1559.1,513.7 1559.7,516.9 1560.2,526.5 1560.8,535.4 1561.3,540.7 1561.9,546.5 1562.4,553.0 1563.0,554.2 1563.5,558.2 1564.1,560.7 1564.6,557.7 1565.2,563.5 1565.7,560.9 1566.3,561.5 1566.8,563.8 1567.4,558.1 1567.9,558.4 1568.5,561.8 1569.0,561.9 1569.6,560.7 1570.1,560.9 1570.7,560.7 1571.2,559.3 1571.8,558.7 1572.3,559.6 1572.9,560.7 1573.4,560.5 1574.0,557.3 1574.5,559.0 1575.1,556.6 1575.6,550.8 1576.2,545.2 1576.7,539.8 1577.3,534.1 1577.8,528.4 1578.4,524.8 1578.9,522.9 1579.5,523.8 1580.0,526.4 1580.6,529.8 1581.1,533.1 1581.7,535.6 1582.2,537.1 1582.8,538.4 1583.3,539.1 1583.9,542.7 1584.4,543.9 1585.0,546.8 1585.5,550.2 1586.1,553.7 1586.6,556.5 1587.2,555.3 1587.7,561.3 1588.3,560.3 1588.8,560.7 1589.4,564.6 1589.9,561.9 1590.5,559.9 1591.0,559.7 1591.6,563.3 1592.1,561.8 1592.7,562.0 1593.2,558.7 1593.8,562.1 1594.3,560.2 1594.9,559.9 1595.4,564.9 1596.0,562.5 1596.5,561.1 1597.1,564.2 1597.6,566.4 1598.2,558.2 1598.7,564.1 1599.3,562.5 1599.8,561.7 1600.4,565.3 1600.9,564.0 1601.5,560.8 1602.0,565.0 1602.6,561.4 1603.1,561.9 1603.7,558.7 1604.2,562.0 1604.8,563.4 1605.3,561.1 1605.9,562.0 1606.4,565.0 1607.0,561.6 1607.5,560.4 1608.1,566.1 1608.6,560.2 1609.2,556.1 1609.7,558.8 1610.3,561.3 1610.8,559.0 1611.4,559.1 1611.9,560.7 1612.5,561.5 1613.0,561.3 1613.6,561.9 1614.1,564.5 1614.7,567.8 1615.2,564.8 1615.8,563.5 1616.3,560.2 1616.9,562.1 1617.4,559.3 1618.0,561.8 1618.5,559.3 1619.1,564.3 1619.6,566.6 1620.2,564.0 1620.7,567.2 1621.3,559.3 1621.8,563.6 1622.4,561.4 1622.9,562.0 1623.5,559.5 1624.0,561.3 1624.6,561.1 1625.1,559.9 1625.7,562.1 1626.2,560.6 1626.8,559.7 1627.3,555.7 1627.9,552.7 1628.4,548.4 1629.0,544.9 1629.5,539.2 1630.1,532.8 1630.6,527.1 1631.2,523.1 1631.7,520.7 1632.3,520.3 1632.8,521.9 1633.4,524.6 1633.9,527.7 1634.5,530.6 1635.0,533.0 1635.6,534.8 1636.1,535.9 1636.7,537.8 1637.2,540.4 1637.8,543.8 1638.3,545.6 1638.9,549.0 1639.4,552.1 1640.0,554.5 1640.5,555.2 1641.1,560.0 1641.6,559.5 1642.2,561.4 1642.7,562.3 1643.3,560.5 1643.8,559.6 1644.4,560.2 1644.9,560.6 1645.5,560.0 1646.0,561.1 1646.6,558.8 1647.1,560.8 1647.7,560.5 1648.2,562.2 1648.8,562.7 1649.3,565.0 1649.9,563.7 1650.4,562.7 1651.0,561.4 1651.5,561.2 1652.1,561.0 1652.6,559.4 1653.2,558.2 1653.7,555.6 1654.3,554.1 1654.8,550.7 1655.4,548.3 1655.9,546.0 1656.5,545.1 1657.0,544.6 1657.6,545.4 1658.1,546.9 1658.7,548.6 1659.2,550.1 1659.8,551.2 1660.3,551.6 1660.9,551.6 1661.4,552.6 1662.0,553.0 1662.5,553.0 1663.1,555.2 1663.6,555.8 1664.2,558.9 1664.7,559.4 1665.3,560.8 1665.8,559.5 1666.4,563.7 1666.9,560.7 1667.5,562.5 1668.0,561.6 1668.6,562.3 1669.1,559.5 1669.7,562.3 1670.2,563.1 1670.8,559.3 1671.3,564.6 1671.9,559.9 1672.4,560.9 1673.0,560.8 1673.5,565.0 1674.1,561.1 1674.6,561.3 1675.2,563.1 1675.7,562.7 1676.3,565.1 1676.8,561.3 1677.4,560.9 1677.9,560.4 1678.5,560.4 1679.0,564.0 1679.6,563.6 1680.1,561.5 1680.7,562.0 1681.2,557.0 1681.8,564.3 1682.3,563.4 1682.9,557.2 1683.4,561.0 1684.0,562.1 1684.5,565.8 1685.1,563.0 1685.6,565.4 1686.2,566.2 1686.7,564.1 1687.3,560.1 1687.8,559.2 1688.4,561.7 1688.9,564.3 1689.5,563.4 1690.0,559.3 1690.6,564.2 1691.1,560.2 1691.7,561.5 1692.2,564.9 1692.8,562.7 1693.3,561.1 1693.9,560.6 1694.4,562.6 1695.0,563.1 1695.5,562.1 1696.1,560.6 1696.6,563.6 1697.2,564.5 1697.7,559.7 1698.3,564.0 1698.8,561.0 1699.4,561.8 1699.9,564.8 1700.5,559.5 1701.0,562.2 1701.6,566.6 1702.1,566.0 1702.7,561.1 1703.2,559.9 1703.8,565.5 1704.3,563.1 1704.9,563.2 1705.4,558.8 1706.0,562.7 1706.5,558.8 1707.1,561.9 1707.6,566.9 1708.2,565.5 1708.7,566.3 1709.3,562.6 1709.8,563.4 1710.4,561.6 1710.9,567.4 1711.5,561.3 1712.0,559.1 1712.6,561.4 1713.1,565.1 1713.7,561.2 1714.2,563.0 1714.8,559.0 1715.3,560.9 1715.9,559.3 1716.4,559.7 1717.0,561.8 1717.5,563.9 1718.1,567.1 1718.6,563.8 1719.2,559.8 1719.7,559.8 1720.3,558.7 1720.8,562.1 1721.4,560.1 1721.9,561.9 1722.5,559.7 1723.0,566.2 1723.6,561.7 1724.1,564.2 1724.7,561.7 1725.2,567.9 1725.8,559.0 1726.3,563.8 1726.9,565.9 1727.4,562.5 1728.0,564.9 1728.5,562.5 1729.1,565.4 1729.6,562.6 1730.2,566.9 1730.7,558.9 1731.3,564.6 1731.8,561.5 1732.4,561.7 1732.9,564.1 1733.5,561.2 1734.0,561.1 1734.6,564.1 1735.1,560.0 1735.7,562.1 1736.2,565.2 1736.8,560.7 1737.3,565.7 1737.9,560.1 1738.4,563.3 1739.0,562.9 1739.5,559.3 1740.1,564.5 1740.6,559.2 1741.2,566.0 1741.7,566.4 1742.3,561.1 1742.8,562.8 1743.4,562.2 1743.9,559.1 1744.5,560.5 1745.0,562.4 1745.6,562.6 1746.1,565.6 1746.7,561.4 1747.2,561.2 1747.8,564.2 1748.3,564.5 1748.9,562.0 1749.4,563.1 1750.0,561.2 1750.5,562.2 1751.1,557.5 1751.6,558.3 1752.2,564.7 1752.7,561.1 1753.3,559.9 1753.8,563.9 1754.4,567.7 1754.9,565.2 1755.5,563.7 1756.0,562.7 1756.6,567.2 1757.1,567.0 1757.7,563.3 1758.2,561.9 1758.8,563.1 1759.3,564.1 1759.9,562.4 1760.4,561.6 1761.0,561.3 1761.5,559.2 1762.1,562.1 1762.6,563.4 1763.2,559.5 1763.7,560.6 1764.3,565.0 1764.8,560.6 1765.4,563.5 1765.9,559.9 1766.5,557.8 1767.0,563.4 1767.6,564.0 1768.1,563.1 1768.7,562.4 1769.2,566.0 1769.8,561.8 1770.3,560.6 1770.9,563.1 1771.4,565.0 1772.0,563.3 1772.5,565.0 1773.1,566.2 1773.6,560.6 1774.2,562.2 1774.7,561.8 1775.3,563.9 1775.8,558.6 1776.4,564.8 1776.9,559.1 1777.5,563.4 1778.0,561.6 1778.6,561.3 1779.1,563.8 1779.7,559.4 1780.2,563.8 1780.8,561.6 1781.3,559.1 1781.9,564.8 1782.4,559.5 1783.0,563.9 1783.5,561.4 1784.1,561.5 1784.6,565.7 1785.2,563.1 1785.7,561.9 1786.3,564.5 1786.8,561.3 1787.4,566.2 1787.9,560.9 1788.5,563.7 1789.0,561.0 1789.6,564.1 1790.1,560.3 1790.7,562.2 1791.2,564.1 1791.8,559.2 1792.3,561.9 1792.9,563.3 1793.4,561.1 1794.0,561.5 1794.5,563.9 1795.1,564.4 1795.6,558.5 1796.2,560.1 1796.7,556.4 1797.3,562.1 1797.8,563.6 1798.4,560.1 1798.9,559.2 1799.5,563.2 1800.0,560.8 1800.6,567.0 1801.1,565.6 1801.7,557.6 1802.2,563.7 1802.8,563.6 1803.3,563.7 1803.9,561.9 1804.4,558.6 1805.0,562.2 1805.5,560.7 1806.1,565.9 1806.6,563.1 1807.2,564.6 1807.7,559.5 1808.3,561.7 1808.8,561.1 1809.4,559.8 1809.9,560.5 1810.5,558.4 1811.0,560.9 1811.6,558.6 1812.1,558.9 1812.7,557.2 1813.2,553.4 1813.8,548.6 1814.3,543.9 1814.9,536.1 1815.4,526.3 1816.0,517.6 1816.5,507.6 1817.1,501.4 1817.6,497.4 1818.2,496.9 1818.7,499.8 1819.3,505.0 1819.8,510.9 1820.4,516.4 1820.9,520.5 1821.5,523.1 1822.0,524.8 1822.6,525.5 1823.1,526.7 1823.7,528.0 1824.2,531.8 1824.8,535.5 1825.3,540.2 1825.9,543.9 1826.4,549.6 1827.0,554.7 1827.5,556.4 1828.1,555.2 1828.6,560.7 1829.2,558.5 1829.7,562.1 1830.3,559.8 1830.8,564.9 1831.4,561.3 1831.9,564.1 1832.5,558.7 1833.0,561.5 1833.6,562.3 1834.1,558.7 1834.7,560.7 1835.2,560.8 1835.8,562.3 1836.3,562.2 1836.9,558.1 1837.4,564.9 1838.0,563.6 1838.5,560.7 1839.1,564.4 1839.6,561.5 1840.2,560.7 1840.7,559.0 1841.3,556.5 1841.8,562.7 1842.4,564.6 1842.9,563.4 1843.5,563.4 1844.0,566.1 1844.6,558.9 1845.1,563.4 1845.7,565.7 1846.2,561.6 1846.8,565.0 1847.3,560.9 1847.9,560.1 1848.4,557.6 1849.0,559.9 1849.5,558.4 1850.1,555.5 1850.6,551.7 1851.2,547.8 1851.7,541.9 1852.3,535.3 1852.8,530.3 1853.4,524.8 1853.9,520.8 1854.5,517.5 1855.0,516.9 1855.6,518.1 1856.1,520.8 1856.7,524.2 1857.2,527.6 1857.8,530.5 1858.3,532.7 1858.9,534.0 1859.4,535.2 1860.0,536.5 1860.5,537.9 1861.1,539.6 1861.6,542.3 1862.2,545.6 1862.7,549.1 1863.3,551.9 1863.8,553.8 1864.4,554.5 1864.9,558.5 1865.5,559.7 1866.0,560.4 1866.6,560.5 1867.1,559.5 1867.7,564.0 1868.2,560.7 1868.8,562.0 1869.3,561.2 1869.9,559.4 1870.4,563.8 1871.0,558.8 1871.5,562.3 1872.1,561.3 1872.6,562.4 1873.2,560.0 1873.7,564.8 1874.3,565.5 1874.8,564.1 1875.4,561.2 1875.9,559.2 1876.5,567.3 1877.0,557.7 1877.6,559.6 1878.1,563.3 1878.7,563.7 1879.2,559.7 1879.8,563.6 1880.3,559.1 1880.9,564.2 1881.4,563.5 1882.0,562.5 1882.5,565.2 1883.1,563.4 1883.6,557.0 1884.2,564.5 1884.7,563.3 1885.3,565.0 1885.8,562.1 1886.4,564.5 1886.9,561.9 1887.5,563.8 1888.0,564.9 1888.6,561.4 1889.1,561.3 1889.7,562.9 1890.2,564.7 1890.8,563.7 1891.3,563.2 1891.9,564.5 1892.4,563.7 1893.0,560.4 1893.5,566.1 1894.1,565.9 1894.6,565.4 1895.2,558.8 1895.7,565.8 1896.3,560.3 1896.8,562.9 1897.4,562.4 1897.9,566.8 1898.5,565.2 1899.0,562.8 1899.6,564.0 1900.1,561.4 1900.7,560.3 1901.2,564.4 1901.8,564.7 1902.3,563.0 1902.9,566.7 1903.4,567.2 1904.0,561.9 1904.5,563.6 1905.1,564.2 1905.6,558.4 1906.2,565.8 1906.7,565.4 1907.3,564.0 1907.8,563.0 1908.4,562.2 1908.9,566.4 1909.5,561.6 1910.0,564.1 1910.6,562.9 1911.1,566.2 1911.7,566.6 1912.2,563.4 1912.8,563.1 1913.3,560.2 1913.9,560.6 1914.4,563.9 1915.0,564.1 1915.5,563.1 1916.1,560.2 1916.6,560.7 1917.2,556.8 1917.7,562.5 1918.3,556.8 1918.8,558.2 1919.4,560.4 1919.9,565.0 1920.5,559.8 1921.0,564.1 1921.6,567.2 1922.1,564.3 1922.7,563.9 1923.2,559.7 1923.8,561.7 1924.3,558.5 1924.9,564.0 1925.4,563.8 1926.0,565.9 1926.5,562.7 1927.1,563.4 1927.6,560.5 1928.2,563.6 1928.7,565.5 1929.3,563.8 1929.8,564.6 1930.4,562.9 1930.9,563.9 1931.5,563.0 1932.0,560.7 1932.6,562.6 1933.1,564.6 1933.7,563.6 1934.2,562.5 1934.8,560.7 1935.3,564.1 1935.9,561.6 1936.4,562.3 1937.0,564.3 1937.5,565.4 1938.1,561.5 1938.6,561.9 1939.2,564.6 1939.7,562.2 1940.3,566.9 1940.8,565.2 1941.4,563.1 1941.9,560.3 1942.5,564.8 1943.0,563.3 1943.6,559.3 1944.1,560.7 1944.7,562.4 1945.2,564.4 1945.8,558.1 1946.3,562.5 1946.9,563.1 1947.4,568.1 1948.0,563.4 1948.5,563.3 1949.1,562.7 1949.6,563.5 1950.2,564.2 1950.7,562.2 1951.3,563.9 1951.8,567.2 1952.4,562.2 1952.9,564.2 1953.5,567.3 1954.0,561.0 1954.6,562.7 1955.1,561.2 1955.7,564.8 1956.2,565.4 1956.8,563.9 1957.3,562.7 1957.9,562.6 1958.4,563.3 1959.0,565.5 1959.5,563.8 1960.1,566.4 1960.6,567.6 1961.2,562.2 1961.7,566.9 1962.3,566.1 1962.8,562.8 1963.4,557.4 1963.9,560.6 1964.5,564.7 1965.0,558.4 1965.6,566.0 1966.1,560.8 1966.7,563.5 1967.2,561.2 1967.8,561.8 1968.3,563.3 1968.9,559.9 1969.4,562.2 1970.0,561.5 1970.5,564.5 1971.1,560.3 1971.6,567.7 1972.2,566.9 1972.7,559.8 1973.3,559.7 1973.8,561.5 1974.4,563.5 1974.9,564.2 1975.5,564.3 1976.0,564.7 1976.6,562.6 1977.1,559.9 1977.7,560.5 1978.2,561.8 1978.8,560.8 1979.3,568.4 1979.9,561.6 1980.4,565.6 1981.0,564.5 1981.5,560.7 1982.1,559.5 1982.6,561.9 1983.2,563.3 1983.7,561.8 1984.3,565.0 1984.8,561.1 1985.4,561.0 1985.9,563.0 1986.5,566.7 1987.0,564.0 1987.6,566.0 1988.1,561.3 1988.7,564.1 1989.2,562.6 1989.8,565.5 1990.3,560.1 1990.9,559.8 1991.4,556.4 1992.0,553.0 1992.5,550.5 1993.1,543.7 1993.6,534.1 1994.2,525.5 1994.7,514.0 1995.3,503.7 1995.8,495.5 1996.4,489.8 1996.9,488.6 1997.5,491.6 1998.0,497.8 1998.6,505.7 1999.1,513.5 1999.7,519.8 2000.2,523.7 2000.8,525.4 2001.3,525.2 2001.9,524.0 2002.4,524.2 2003.0,523.8 2003.5,526.0 2004.1,530.3 2004.6,535.8 2005.2,540.7 2005.7,546.6 2006.3,548.8 2006.8,554.8 2007.4,556.2 2007.9,559.5 2008.5,563.3 2009.0,562.5 2009.6,562.1 2010.1,565.3 2010.7,566.6 2011.2,564.2 2011.8,561.4 2012.3,566.4 2012.9,563.2 2013.4,561.0 2014.0,564.3 2014.5,561.5 2015.1,561.6 2015.6,560.2 2016.2,560.5 2016.7,564.4 2017.3,556.9 2017.8,564.2 2018.4,564.8 2018.9,564.5 2019.5,562.7 2020.0,560.0 2020.6,562.7 2021.1,564.3 2021.7,566.0 2022.2,563.0 2022.8,558.1 2023.3,561.0 2023.9,560.1 2024.4,564.2 2025.0,563.5 2025.5,562.9 2026.1,561.9 2026.6,557.9 2027.2,561.3 2027.7,563.9 2028.3,558.3 2028.8,557.5 2029.4,554.9 2029.9,555.5 2030.5,555.6 2031.0,549.0 2031.6,553.3 2032.1,549.7 2032.7,557.9 2033.2,552.8 2033.8,556.0 2034.3,552.3 2034.9,559.9 2035.4,558.5 2036.0,557.6 2036.5,561.8 2037.1,557.7 2037.6,556.6 2038.2,560.8 2038.7,556.5 2039.3,559.4 2039.8,557.3 2040.4,557.2 2040.9,563.6 2041.5,561.9 2042.0,563.5 2042.6,563.5 2043.1,561.8 2043.7,561.2 2044.2,557.2 2044.8,552.1 2045.3,546.0 2045.9,538.5 2046.4,536.9 2047.0,539.4 2047.5,545.8 2048.1,552.6 2048.6,557.8 2049.2,560.7 2049.7,561.5 2050.3,561.4 2050.8,558.6 2051.4,555.7 2051.9,553.7 2052.5,552.3 2053.0,550.1 2053.6,553.4 2054.1,556.0 2054.7,561.9 2055.2,560.1 2055.8,559.0 2056.3,561.1 2056.9,563.1 2057.4,564.3 2058.0,561.5 2058.5,565.7 2059.1,559.5 2059.6,563.6 2060.2,560.7 2060.7,562.1 2061.3,561.7 2061.8,565.7 2062.4,566.9 2062.9,557.9 2063.5,562.3 2064.0,563.9 2064.6,561.0 2065.1,562.8 2065.7,563.0 2066.2,565.0 2066.8,561.3 2067.3,565.1"/>
<polyline class="c" stroke="#0000ff" points="166.5,850.2 167.1,846.0 167.6,853.9 168.2,849.8 168.7,849.0 169.3,847.4 169.8,853.4 170.4,847.1 170.9,852.5 171.5,848.8 172.0,850.6 172.6,849.8 173.1,852.4 173.7,852.9 174.2,847.3 174.8,853.8 175.3,852.9 175.9,853.9 176.4,855.3 177.0,846.0 177.5,856.4 178.1,845.6 178.6,848.6 179.2,851.6 179.7,853.8 180.3,852.6 180.8,851.7 181.4,852.3 181.9,847.2 182.5,850.7 183.0,858.4 183.6,842.9 184.1,849.9 184.7,850.3 185.2,847.9 185.8,850.2 186.3,851.0 186.9,849.9 187.4,850.4 188.0,847.3 188.5,852.5 189.1,848.7 189.6,847.2 190.2,857.2 190.7,848.9 191.3,849.2 191.8,844.7 192.4,851.9 192.9,847.4 193.5,848.5 194.0,853.0 194.6,852.4 195.1,848.4 195.7,852.4 196.2,852.0 196.8,850.3 197.3,847.8 197.9,852.2 198.4,846.0 199.0,852.0 199.5,850.8 200.1,846.9 200.6,847.5 201.2,858.5 201.7,844.4 202.3,851.0 202.8,849.8 203.4,852.3 203.9,851.9 204.5,853.7 205.0,853.1 205.6,850.8 206.1,846.5 206.7,849.9 207.2,852.5 207.8,852.4 208.3,854.4 208.9,850.3 209.4,847.1 210.0,849.1 210.5,851.6 211.1,853.8 211.6,853.9 212.2,853.2 212.7,846.9 213.3,849.5 213.8,852.5 214.4,851.8 214.9,853.5 215.5,847.0 216.0,852.8 216.6,843.1 217.1,849.3 217.7,851.1 218.2,849.8 218.8,853.5 219.3,850.2 219.9,850.9 220.4,853.0 221.0,848.1 221.5,855.5 222.1,848.9 222.6,852.7 223.2,851.5 223.7,849.6 224.3,851.2 224.8,851.8 225.4,849.4 225.9,857.7 226.5,847.8 227.0,850.9 227.6,854.4 228.1,852.5 228.7,854.3 229.2,846.2 229.8,850.2 230.3,851.0 230.9,854.8 231.4,848.4 232.0,850.8 232.5,856.8 233.1,852.1 233.6,852.3 234.2,850.7 234.7,854.6 235.3,845.1 235.8,848.4 236.4,849.2 236.9,851.4 237.5,851.0 238.0,844.4 238.6,851.3 239.1,848.3 239.7,858.7 240.2,850.1 240.8,854.3 241.3,849.3 241.9,850.2 242.4,848.3 243.0,853.6 243.5,855.1 244.1,847.1 244.6,852.6 245.2,853.4 245.7,855.3 246.3,849.5 246.8,855.9 247.4,847.7 247.9,852.1 248.5,850.0 249.0,850.6 249.6,854.9 250.1,853.2 250.7,858.8 251.2,851.3 251.8,849.2 252.3,855.2 252.9,852.4 253.4,850.2 254.0,855.7 254.5,856.1 255.1,847.0 255.6,850.4 256.2,855.3 256.7,849.2 257.3,856.9 257.8,851.2 258.4,852.9 258.9,852.2 259.5,848.2 260.0,851.1 260.6,849.5 261.1,850.3 261.7,855.0 262.2,853.7 262.8,850.9 263.3,852.5 263.9,856.4 264.4,851.5 265.0,850.4 265.5,853.9 266.1,849.9 266.6,847.8 267.2,857.5 267.7,848.2 268.3,852.1 268.8,853.0 269.4,850.7 269.9,857.6 270.5,857.7 271.0,853.0 271.6,846.9 272.1,852.9 272.7,846.2 273.2,853.4 273.8,854.3 274.3,852.7 274.9,855.7 275.4,852.3 276.0,848.8 276.5,850.2 277.1,855.1 277.6,844.6 278.2,852.3 278.7,847.4 279.3,858.6 279.8,846.5 280.4,843.9 280.9,854.1 281.5,853.8 282.0,848.7 282.6,850.4 283.1,846.5 283.7,850.2 284.2,853.4 284.8,851.7 285.3,850.6 285.9,848.9 286.4,854.5 287.0,856.8 287.5,855.7 288.1,847.0 288.6,851.9 289.2,848.7 289.7,850.3 290.3,852.8 290.8,859.0 291.4,852.5 291.9,851.6 292.5,849.9 293.0,853.5 293.6,846.3 294.1,853.9 294.7,854.4 295.2,848.6 295.8,856.8 296.3,859.0 296.9,849.1 297.4,854.2 298.0,850.1 298.5,849.4 299.1,854.3 299.6,852.8 300.2,847.5 300.7,846.8 301.3,852.3 301.8,847.0 302.4,847.5 302.9,850.8 303.5,850.1 304.0,852.9 304.6,858.1 305.1,847.6 305.7,856.4 306.2,847.2 306.8,851.8 307.3,855.1 307.9,859.1 308.4,846.3 309.0,857.2 309.5,851.4 310.1,852.2 310.6,853.5 311.2,857.8 311.7,859.1 312.3,853.1 312.8,849.8 313.4,849.2 313.9,844.6 314.5,846.6 315.0,855.1 315.6,846.1 316.1,847.6 316.7,849.7 317.2,849.3 317.8,848.7 318.3,848.2 318.9,849.6 319.4,856.2 320.0,853.9 320.5,852.0 321.1,849.3 321.6,852.0 322.2,852.5 322.7,848.8 323.3,847.9 323.8,852.4 324.4,849.2 324.9,849.0 325.5,851.4 326.0,851.2 326.6,848.3 327.1,856.6 327.7,852.4 328.2,850.9 328.8,853.8 329.3,855.9 329.9,851.5 330.4,843.6 331.0,847.5 331.5,851.2 332.1,851.8 332.6,855.9 333.2,853.0 333.7,850.5 334.3,854.1 334.8,849.4 335.4,854.5 335.9,846.3 336.5,856.3 337.0,850.8 337.6,854.1 338.1,850.5 338.7,846.8 339.2,850.6 339.8,851.4 340.3,851.9 340.9,851.5 341.4,852.4 342.0,849.3 342.5,845.7 343.1,849.6 343.6,846.6 344.2,850.2 344.7,849.9 345.3,850.8 345.8,849.0 346.4,852.2 346.9,851.9 347.5,851.9 348.0,850.9 348.6,851.4 349.1,851.4 349.7,849.0 350.2,844.0 350.8,845.4 351.3,845.8 351.9,836.1 352.4,830.3 353.0,816.7 353.5,799.0 354.1,773.4 354.6,743.5 355.2,712.2 355.7,683.9 356.3,664.6 356.8,658.1 357.4,666.1 357.9,686.5 358.5,714.9 359.0,745.6 359.6,774.4 360.1,799.6 360.7,817.4 361.2,830.8 361.8,839.8 362.3,842.5 362.9,849.0 363.4,849.8 364.0,846.9 364.5,846.8 365.1,850.2 365.6,851.0 366.2,848.6 366.7,849.9 367.3,850.2 367.8,849.9 368.4,852.2 368.9,855.8 369.5,857.0 370.0,848.9 370.6,851.3 371.1,849.7 371.7,851.3 372.2,850.3 372.8,855.9 373.3,854.7 373.9,849.9 374.4,856.0 375.0,849.6 375.5,852.3 376.1,853.7 376.6,850.8 377.2,849.6 377.7,853.0 378.3,854.5 378.8,851.5 379.4,857.6 379.9,854.3 380.5,850.4 381.0,854.4 381.6,851.1 382.1,853.5 382.7,854.2 383.2,853.8 383.8,857.1 384.3,852.8 384.9,853.7 385.4,851.3 386.0,847.5 386.5,850.4 387.1,852.5 387.6,844.0 388.2,853.1 388.7,853.4 389.3,855.6 389.8,853.3 390.4,855.6 390.9,852.1 391.5,850.7 392.0,853.8 392.6,848.8 393.1,856.3 393.7,848.4 394.2,856.7 394.8,850.3 395.3,850.6 395.9,848.7 396.4,851.4 397.0,852.4 397.5,847.3 398.1,846.5 398.6,851.9 399.2,847.3 399.7,854.0 400.3,855.7 400.8,850.3 401.4,859.7 401.9,851.9 402.5,848.6 403.0,857.8 403.6,853.4 404.1,850.3 404.7,851.8 405.2,856.4 405.8,857.1 406.3,851.9 406.9,848.6 407.4,850.3 408.0,854.2 408.5,852.1 409.1,853.1 409.6,853.1 410.2,857.0 410.7,851.0 411.3,851.6 411.8,845.4 412.4,851.5 412.9,846.5 413.5,849.6 414.0,852.2 414.6,850.1 415.1,851.6 415.7,844.9 416.2,850.7 416.8,852.5 417.3,852.0 417.9,853.3 418.4,849.8 419.0,854.1 419.5,850.2 420.1,851.2 420.6,855.1 421.2,856.5 421.7,854.7 422.3,848.6 422.8,851.0 423.4,850.5 423.9,852.3 424.5,857.1 425.0,855.7 425.6,848.3 426.1,853.2 426.7,852.9 427.2,850.0 427.8,850.9 428.3,855.8 428.9,851.6 429.4,851.6 430.0,850.7 430.5,844.3 431.1,852.5 431.6,855.0 432.2,858.6 432.7,859.6 433.3,849.1 433.8,852.2 434.4,850.5 434.9,853.1 435.5,848.9 436.0,853.1 436.6,854.3 437.1,854.2 437.7,853.5 438.2,855.4 438.8,851.5 439.3,850.9 439.9,852.0 440.4,851.3 441.0,853.4 441.5,855.5 442.1,851.9 442.6,846.8 443.2,847.0 443.7,853.5 444.3,854.1 444.8,853.9 445.4,844.4 445.9,854.6 446.5,859.8 447.0,852.1 447.6,851.5 448.1,855.7 448.7,850.0 449.2,848.9 449.8,856.0 450.3,849.3 450.9,854.4 451.4,850.6 452.0,851.3 452.5,849.4 453.1,853.8 453.6,852.0 454.2,851.7 454.7,850.9 455.3,850.4 455.8,855.7 456.4,854.8 456.9,855.3 457.5,848.6 458.0,853.6 458.6,847.0 459.1,857.1 459.7,857.8 460.2,856.6 460.8,853.7 461.3,854.0 461.9,851.7 462.4,849.7 463.0,855.0 463.5,855.4 464.1,850.9 464.6,847.8 465.2,850.5 465.7,850.8 466.3,850.0 466.8,846.3 467.4,847.4 467.9,852.1 468.5,857.8 469.0,847.5 469.6,852.5 470.1,851.0 470.7,853.0 471.2,852.2 471.8,855.5 472.3,852.2 472.9,849.9 473.4,852.6 474.0,852.3 474.5,854.6 475.1,853.8 475.6,853.9 476.2,852.1 476.7,851.5 477.3,851.2 477.8,852.7 478.4,855.8 478.9,856.7 479.5,850.2 480.0,851.5 480.6,852.0 481.1,857.8 481.7,849.4 482.2,852.4 482.8,844.8 483.3,853.2 483.9,849.2 484.4,852.1 485.0,855.0 485.5,847.9 486.1,844.9 486.6,853.4 487.2,850.2 487.7,853.8 488.3,856.8 488.8,849.1 489.4,848.0 489.9,849.4 490.5,846.7 491.0,849.6 491.6,855.5 492.1,849.5 492.7,847.4 493.2,853.4 493.8,853.8 494.3,845.6 494.9,852.4 495.4,850.5 496.0,853.4 496.5,849.7 497.1,850.7 497.6,848.6 498.2,859.1 498.7,854.0 499.3,854.6 499.8,854.6 500.4,852.7 500.9,856.4 501.5,854.1 502.0,859.9 502.6,855.2 503.1,857.5 503.7,848.3 504.2,850.7 504.8,851.0 505.3,847.8 505.9,850.8 506.4,850.9 507.0,848.9 507.5,854.9 508.1,850.6 508.6,852.7 509.2,847.6 509.7,851.7 510.3,850.0 510.8,850.0 511.4,855.6 511.9,853.6 512.5,849.2 513.0,849.5 513.6,854.8 514.1,850.0 514.7,851.8 515.2,856.7 515.8,856.3 516.3,852.5 516.9,852.3 517.4,853.2 518.0,851.8 518.5,852.5 519.1,856.3 519.6,853.7 520.2,853.2 520.7,851.9 521.3,855.4 521.8,851.0 522.4,854.0 522.9,849.1 523.5,851.4 524.0,853.4 524.6,850.5 525.1,853.2 525.7,852.7 526.2,851.0 526.8,854.4 527.3,853.2 527.9,851.1 528.4,852.9 529.0,855.1 529.5,849.3 530.1,848.6 530.6,855.1 531.2,849.3 531.7,850.5 532.3,845.3 532.8,851.3 533.4,852.8 533.9,847.7 534.5,853.2 535.0,848.1 535.6,850.7 536.1,855.6 536.7,856.9 537.2,851.6 537.8,856.0 538.3,850.1 538.9,854.9 539.4,847.2 540.0,853.5 540.5,851.2 541.1,848.9 541.6,851.4 542.2,851.0 542.7,851.6 543.3,854.1 543.8,849.7 544.4,849.7 544.9,851.9 545.5,850.4 546.0,851.8 546.6,848.2 547.1,854.4 547.7,849.0 548.2,854.8 548.8,854.6 549.3,849.8 549.9,854.1 550.4,856.2 551.0,851.3 551.5,853.4 552.1,849.3 552.6,855.4 553.2,852.8 553.7,856.9 554.3,855.1 554.8,852.2 555.4,849.5 555.9,854.9 556.5,855.7 557.0,851.3 557.6,855.1 558.1,853.6 558.7,851.4 559.2,850.0 559.8,852.0 560.3,855.2 560.9,849.4 561.4,851.9 562.0,851.9 562.5,850.0 563.1,849.3 563.6,853.5 564.2,855.4 564.7,851.4 565.3,848.7 565.8,852.2 566.4,851.1 566.9,852.8 567.5,848.7 568.0,854.4 568.6,850.4 569.1,855.2 569.7,851.7 570.2,850.4 570.8,851.2 571.3,853.5 571.9,853.4 572.4,854.9 573.0,848.0 573.5,849.9 574.1,851.3 574.6,845.6 575.2,850.8 575.7,853.5 576.3,850.0 576.8,852.0 577.4,850.3 577.9,851.9 578.5,848.9 579.0,855.2 579.6,854.7 580.1,852.9 580.7,857.7 581.2,853.7 581.8,851.9 582.3,846.2 582.9,849.2 583.4,854.3 584.0,857.0 584.5,850.8 585.1,854.9 585.6,850.2 586.2,851.5 586.7,850.4 587.3,851.2 587.8,850.9 588.4,853.2 588.9,848.7 589.5,857.3 590.0,854.4 590.6,846.6 591.1,847.8 591.7,859.1 592.2,849.2 592.8,854.1 593.3,849.3 593.9,860.0 594.4,847.6 595.0,857.6 595.5,853.8 596.1,851.3 596.6,851.4 597.2,849.5 597.7,846.0 598.3,854.1 598.8,858.3 599.4,851.6 599.9,853.9 600.5,855.2 601.0,848.1 601.6,851.0 602.1,847.7 602.7,854.4 603.2,849.3 603.8,857.0 604.3,855.4 604.9,849.7 605.4,853.9 606.0,853.2 606.5,850.7 607.1,852.0 607.6,852.8 608.2,846.9 608.7,856.1 609.3,850.6 609.8,850.0 610.4,854.4 610.9,849.5 611.5,857.5 612.0,856.0 612.6,852.7 613.1,856.9 613.7,857.5 614.2,851.5 614.8,847.0 615.3,847.9 615.9,850.6 616.4,855.2 617.0,854.7 617.5,852.7 618.1,859.0 618.6,852.2 619.2,855.0 619.7,849.4 620.3,850.9 620.8,853.0 621.4,856.0 621.9,845.8 622.5,856.8 623.0,849.5 623.6,855.9 624.1,852.2 624.7,848.5 625.2,850.1 625.8,859.0 626.3,852.2 626.9,851.2 627.4,848.1 628.0,849.3 628.5,856.4 629.1,857.2 629.6,858.6 630.2,854.1 630.7,851.2 631.3,849.1 631.8,856.7 632.4,851.0 632.9,848.4 633.5,851.3 634.0,851.9 634.6,855.3 635.1,851.6 635.7,855.6 636.2,853.7 636.8,851.4 637.3,844.1 637.9,843.3 638.4,847.3 639.0,846.7 639.5,846.8 640.1,837.2 640.6,840.4 641.2,839.0 641.7,839.3 642.3,838.3 642.8,838.7 643.4,840.3 643.9,842.2 644.5,844.2 645.0,842.8 645.6,843.3 646.1,842.6 646.7,842.1 647.2,839.1 647.8,838.8 648.3,835.9 648.9,833.2 649.4,831.0 650.0,828.8 650.5,827.2 651.1,826.1 651.6,825.8 652.2,826.2 652.7,827.1 653.3,828.9 653.8,831.0 654.4,833.1 654.9,835.8 655.5,838.3 656.0,840.8 656.6,842.0 657.1,844.0 657.7,847.3 658.2,848.5 658.8,849.8 659.3,850.7 659.9,848.9 660.4,851.8 661.0,850.6 661.5,853.1 662.1,851.1 662.6,852.9 663.2,850.0 663.7,854.9 664.3,851.6 664.8,852.6 665.4,849.7 665.9,855.5 666.5,854.4 667.0,856.1 667.6,849.4 668.1,853.6 668.7,851.7 669.2,851.1 669.8,853.1 670.3,850.7 670.9,855.6 671.4,848.4 672.0,849.2 672.5,849.4 673.1,853.9 673.6,848.8 674.2,846.6 674.7,852.6 675.3,855.2 675.8,849.5 676.4,852.5 676.9,850.1 677.5,852.3 678.0,852.9 678.6,845.7 679.1,856.8 679.7,851.1 680.2,854.5 680.8,854.2 681.3,848.2 681.9,856.4 682.4,850.2 683.0,848.6 683.5,853.0 684.1,858.3 684.6,856.2 685.2,844.4 685.7,850.2 686.3,851.7 686.8,849.7 687.4,848.4 687.9,849.4 688.5,847.8 689.0,855.7 689.6,851.6 690.1,847.8 690.7,851.4 691.2,855.1 691.8,849.6 692.3,853.8 692.9,847.0 693.4,849.3 694.0,856.5 694.5,850.0 695.1,846.6 695.6,852.1 696.2,847.7 696.7,848.4 697.3,843.5 697.8,836.0 698.4,829.8 698.9,811.7 699.5,786.6 700.0,756.1 700.6,717.6 701.1,678.9 701.7,645.1 702.2,624.2 702.8,619.8 703.3,630.8 703.9,653.9 704.4,684.7 705.0,719.7 705.5,753.9 706.1,783.1 706.6,807.2 707.2,823.8 707.7,834.6 708.3,840.4 708.8,843.6 709.4,846.5 709.9,848.3 710.5,851.8 711.0,848.6 711.6,847.2 712.1,847.0 712.7,846.9 713.2,847.4 713.8,855.3 714.3,853.1 714.9,850.5 715.4,851.4 716.0,849.0 716.5,847.0 717.1,846.0 717.6,849.6 718.2,850.6 718.7,850.9 719.3,846.4 719.8,847.1 720.4,841.5 720.9,838.0 721.5,826.8 722.0,809.5 722.6,780.1 723.1,742.7 723.7,695.8 724.2,646.6 724.8,604.5 725.3,578.4 725.9,573.6 726.4,588.0 727.0,616.3 727.5,654.3 728.1,695.5 728.6,736.8 729.2,771.3 729.7,799.2 730.3,820.3 730.8,834.1 731.4,841.5 731.9,846.7 732.5,849.0 733.0,848.3 733.6,850.6 734.1,849.2 734.7,847.6 735.2,853.1 735.8,849.7 736.3,846.1 736.9,846.5 737.4,852.3 738.0,851.3 738.5,850.6 739.1,852.7 739.6,850.8 740.2,850.7 740.7,848.7 741.3,853.5 741.8,856.6 742.4,849.8 742.9,850.3 743.5,854.5 744.0,854.7 744.6,855.2 745.1,851.3 745.7,853.6 746.2,851.4 746.8,854.2 747.3,849.7 747.9,854.3 748.4,849.2 749.0,859.6 749.5,849.1 750.1,854.1 750.6,857.7 751.2,853.5 751.7,855.8 752.3,850.9 752.8,857.0 753.4,858.1 753.9,858.0 754.5,853.4 755.0,858.9 755.6,855.8 756.1,854.9 756.7,852.8 757.2,857.2 757.8,856.5 758.3,853.3 758.9,852.6 759.4,855.1 760.0,850.7 760.5,857.8 761.1,857.4 761.6,857.8 762.2,852.8 762.7,860.8 763.3,853.3 763.8,855.1 764.4,851.2 764.9,850.6 765.5,843.5 766.0,849.0 766.6,843.1 767.1,840.2 767.7,845.1 768.2,851.3 768.8,850.7 769.3,850.9 769.9,848.1 770.4,856.1 771.0,854.8 771.5,852.1 772.1,857.1 772.6,853.8 773.2,852.7 773.7,856.3 774.3,856.8 774.8,852.5 775.4,861.3 775.9,854.1 776.5,857.3 777.0,854.3 777.6,854.0 778.1,854.9 778.7,853.4 779.2,855.3 779.8,856.9 780.3,852.2 780.9,857.7 781.4,858.1 782.0,855.2 782.5,857.8 783.1,857.5 783.6,858.8 784.2,856.6 784.7,854.8 785.3,854.1 785.8,855.4 786.4,855.7 786.9,858.2 787.5,853.9 788.0,854.4 788.6,854.9 789.1,860.5 789.7,863.7 790.2,853.2 790.8,852.2 791.3,851.7 791.9,856.2 792.4,856.8 793.0,856.9 793.5,855.3 794.1,856.6 794.6,857.4 795.2,863.7 795.7,856.2 796.3,858.1 796.8,854.9 797.4,856.7 797.9,856.9 798.5,863.7 799.0,853.6 799.6,855.3 800.1,853.7 800.7,857.2 801.2,856.4 801.8,852.9 802.3,856.7 802.9,856.7 803.4,856.2 804.0,855.0 804.5,858.3 805.1,856.5 805.6,856.5 806.2,856.5 806.7,854.5 807.3,855.6 807.8,856.2 808.4,854.2 808.9,858.2 809.5,852.6 810.0,858.0 810.6,854.4 811.1,853.8 811.7,855.9 812.2,855.3 812.8,858.3 813.3,853.4 813.9,853.0 814.4,856.4 815.0,861.1 815.5,852.8 816.1,859.4 816.6,862.4 817.2,854.7 817.7,859.6 818.3,855.9 818.8,854.8 819.4,855.1 819.9,855.1 820.5,853.5 821.0,855.9 821.6,854.5 822.1,860.4 822.7,859.0 823.2,855.8 823.8,855.7 824.3,857.4 824.9,859.7 825.4,857.6 826.0,855.5 826.5,855.6 827.1,850.4 827.6,848.6 828.2,847.2 828.7,842.9 829.3,839.2 829.8,834.6 830.4,830.4 830.9,826.8 831.5,824.4 832.0,823.5 832.6,824.1 833.1,826.1 833.7,829.1 834.2,832.7 834.8,836.6 835.3,840.4 835.9,845.4 836.4,846.7 837.0,850.3 837.5,852.0 838.1,853.3 838.6,855.0 839.2,859.1 839.7,858.6 840.3,855.2 840.8,852.6 841.4,856.5 841.9,855.6 842.5,853.9 843.0,858.0 843.6,855.3 844.1,854.9 844.7,860.9 845.2,858.9 845.8,855.5 846.3,860.5 846.9,856.9 847.4,854.8 848.0,854.6 848.5,855.1 849.1,855.3 849.6,853.5 850.2,854.9 850.7,852.1 851.3,851.9 851.8,857.2 852.4,858.0 852.9,855.7 853.5,852.7 854.0,855.2 854.6,851.9 855.1,852.2 855.7,854.0 856.2,857.2 856.8,862.0 857.3,857.8 857.9,854.6 858.4,853.0 859.0,857.5 859.5,858.6 860.1,854.8 860.6,858.7 861.2,859.2 861.7,855.7 862.3,855.8 862.8,853.4 863.4,851.6 863.9,855.3 864.5,856.0 865.0,854.0 865.6,854.1 866.1,858.2 866.7,855.1 867.2,862.8 867.8,857.0 868.3,858.7 868.9,854.8 869.4,854.7 870.0,854.0 870.5,852.9 871.1,859.6 871.6,858.4 872.2,854.2 872.7,856.5 873.3,856.5 873.8,854.1 874.4,856.2 874.9,853.4 875.5,856.1 876.0,857.9 876.6,855.3 877.1,859.4 877.7,857.9 878.2,851.8 878.8,856.8 879.3,855.5 879.9,855.0 880.4,852.1 881.0,858.3 881.5,853.2 882.1,858.2 882.6,857.7 883.2,859.4 883.7,854.6 884.3,859.1 884.8,853.5 885.4,860.5 885.9,857.1 886.5,855.9 887.0,856.4 887.6,858.5 888.1,853.6 888.7,856.3 889.2,854.3 889.8,856.1 890.3,853.9 890.9,856.3 891.4,858.6 892.0,853.6 892.5,856.0 893.1,859.1 893.6,857.2 894.2,859.4 894.7,852.4 895.3,853.7 895.8,856.3 896.4,859.3 896.9,854.6 897.5,859.0 898.0,853.6 898.6,860.5 899.1,853.3 899.7,860.6 900.2,854.6 900.8,855.0 901.3,853.6 901.9,855.6 902.4,862.5 903.0,857.6 903.5,855.4 904.1,854.8 904.6,858.4 905.2,852.3 905.7,857.7 906.3,857.6 906.8,855.3 907.4,856.8 907.9,855.8 908.5,857.6 909.0,856.2 909.6,858.4 910.1,854.8 910.7,857.1 911.2,856.2 911.8,853.9 912.3,853.2 912.9,859.2 913.4,849.6 914.0,848.9 914.5,858.2 915.1,858.9 915.6,858.7 916.2,860.8 916.7,857.8 917.3,858.7 917.8,856.4 918.4,857.9 918.9,861.4 919.5,857.5 920.0,853.4 920.6,852.4 921.1,858.6 921.7,852.4 922.2,854.2 922.8,853.9 923.3,862.6 923.9,855.3 924.4,854.9 925.0,858.4 925.5,856.7 926.1,850.3 926.6,854.6 927.2,848.9 927.7,856.1 928.3,857.7 928.8,855.3 929.4,861.0 929.9,848.9 930.5,860.0 931.0,854.8 931.6,856.1 932.1,853.9 932.7,855.6 933.2,856.8 933.8,851.9 934.3,853.9 934.9,852.8 935.4,852.6 936.0,856.8 936.5,855.1 937.1,857.4 937.6,855.3 938.2,856.3 938.7,862.3 939.3,858.8 939.8,853.0 940.4,853.5 940.9,856.9 941.5,858.1 942.0,853.8 942.6,852.0 943.1,855.1 943.7,859.8 944.2,856.7 944.8,854.3 945.3,855.1 945.9,853.0 946.4,856.4 947.0,849.3 947.5,851.4 948.1,852.2 948.6,847.7 949.2,849.4 949.7,848.8 950.3,850.9 950.8,846.4 951.4,844.4 951.9,844.6 952.5,849.1 953.0,845.6 953.6,854.4 954.1,850.2 954.7,851.1 955.2,852.7 955.8,855.1 956.3,853.5 956.9,855.3 957.4,853.9 958.0,855.3 958.5,856.0 959.1,851.5 959.6,850.8 960.2,845.9 960.7,842.7 961.3,837.1 961.8,827.5 962.4,817.1 962.9,804.8 963.5,793.6 964.0,784.9 964.6,779.6 965.1,778.4 965.7,780.9 966.2,786.1 966.8,793.4 967.3,802.1 967.9,810.6 968.4,820.0 969.0,828.4 969.5,836.8 970.1,841.9 970.6,848.3 971.2,848.9 971.7,851.9 972.3,853.5 972.8,853.8 973.4,855.0 973.9,855.0 974.5,856.8 975.0,854.9 975.6,855.4 976.1,854.1 976.7,857.9 977.2,857.3 977.8,851.2 978.3,857.8 978.9,859.5 979.4,852.6 980.0,854.8 980.5,858.0 981.1,857.1 981.6,855.3 982.2,860.4 982.7,855.5 983.3,857.4 983.8,860.5 984.4,855.0 984.9,858.2 985.5,853.4 986.0,854.7 986.6,856.8 987.1,854.9 987.7,855.3 988.2,855.5 988.8,854.2 989.3,857.6 989.9,860.8 990.4,854.8 991.0,850.5 991.5,854.4 992.1,854.4 992.6,858.1 993.2,857.2 993.7,852.4 994.3,856.7 994.8,851.9 995.4,857.7 995.9,860.1 996.5,852.8 997.0,857.5 997.6,854.7 998.1,854.3 998.7,856.5 999.2,857.2 999.8,854.7 1000.3,854.3 1000.9,854.8 1001.4,857.6 1002.0,862.1 1002.5,858.6 1003.1,849.7 1003.6,856.5 1004.2,850.0 1004.7,859.5 1005.3,857.8 1005.8,859.1 1006.4,859.3 1006.9,856.8 1007.5,856.0 1008.0,860.3 1008.6,855.7 1009.1,858.2 1009.7,854.2 1010.2,854.4 1010.8,858.1 1011.3,855.5 1011.9,855.0 1012.4,857.9 1013.0,849.6 1013.5,852.5 1014.1,855.6 1014.6,860.2 1015.2,858.6 1015.7,857.7 1016.3,854.5 1016.8,857.5 1017.4,855.4 1017.9,851.8 1018.5,853.2 1019.0,861.9 1019.6,856.5 1020.1,856.3 1020.7,858.8 1021.2,858.9 1021.8,856.6 1022.3,856.2 1022.9,853.9 1023.4,862.6 1024.0,859.0 1024.5,857.0 1025.1,856.9 1025.6,854.1 1026.2,860.1 1026.7,863.6 1027.3,854.8 1027.8,857.0 1028.4,861.9 1028.9,856.3 1029.5,853.0 1030.0,851.0 1030.6,858.2 1031.1,855.7 1031.7,858.9 1032.2,853.7 1032.8,859.0 1033.3,856.2 1033.9,851.9 1034.4,857.7 1035.0,856.7 1035.5,852.8 1036.1,857.8 1036.6,854.6 1037.2,853.5 1037.7,854.3 1038.3,854.2 1038.8,856.5 1039.4,854.8 1039.9,853.9 1040.5,854.7 1041.0,856.6 1041.6,857.0 1042.1,854.2 1042.7,855.9 1043.2,853.6 1043.8,850.6 1044.3,855.8 1044.9,860.1 1045.4,855.9 1046.0,855.9 1046.5,852.5 1047.1,854.1 1047.6,858.4 1048.2,853.5 1048.7,854.6 1049.3,853.6 1049.8,861.7 1050.4,860.0 1050.9,859.0 1051.5,861.1 1052.0,857.5 1052.6,856.6 1053.1,857.2 1053.7,857.9 1054.2,859.2 1054.8,851.1 1055.3,849.7 1055.9,857.6 1056.4,854.5 1057.0,856.1 1057.5,856.4 1058.1,848.1 1058.6,854.6 1059.2,852.7 1059.7,852.1 1060.3,852.1 1060.8,860.6 1061.4,853.7 1061.9,850.8 1062.5,854.9 1063.0,853.5 1063.6,854.1 1064.1,849.3 1064.7,848.3 1065.2,840.4 1065.8,832.8 1066.3,814.2 1066.9,788.0 1067.4,749.3 1068.0,701.2 1068.5,648.2 1069.1,597.9 1069.6,560.7 1070.2,544.2 1070.7,548.4 1071.3,567.0 1071.8,592.3 1072.4,620.2 1072.9,649.9 1073.5,681.3 1074.0,716.0 1074.6,750.2 1075.1,779.9 1075.7,804.7 1076.2,824.8 1076.8,833.6 1077.3,840.3 1077.9,846.2 1078.4,849.1 1079.0,853.7 1079.5,855.0 1080.1,850.8 1080.6,853.3 1081.2,851.9 1081.7,852.7 1082.3,857.2 1082.8,852.1 1083.4,857.2 1083.9,854.4 1084.5,857.5 1085.0,853.0 1085.6,850.4 1086.1,860.5 1086.7,862.8 1087.2,860.9 1087.8,856.3 1088.3,856.7 1088.9,856.9 1089.4,856.6 1090.0,862.5 1090.5,858.3 1091.1,861.1 1091.6,857.2 1092.2,860.0 1092.7,854.5 1093.3,854.6 1093.8,854.1 1094.4,859.2 1094.9,861.2 1095.5,855.7 1096.0,857.1 1096.6,854.4 1097.1,854.5 1097.7,852.0 1098.2,859.9 1098.8,853.8 1099.3,853.1 1099.9,855.0 1100.4,854.7 1101.0,855.0 1101.5,854.0 1102.1,859.7 1102.6,856.0 1103.2,856.7 1103.7,855.6 1104.3,853.5 1104.8,855.9 1105.4,854.9 1105.9,857.1 1106.5,856.4 1107.0,853.8 1107.6,857.1 1108.1,854.4 1108.7,858.0 1109.2,853.7 1109.8,855.1 1110.3,855.1 1110.9,853.6 1111.4,855.7 1112.0,854.3 1112.5,854.7 1113.1,860.6 1113.6,857.1 1114.2,853.1 1114.7,856.8 1115.3,854.0 1115.8,852.2 1116.4,853.3 1116.9,858.7 1117.5,851.3 1118.0,853.5 1118.6,853.3 1119.1,854.3 1119.7,858.5 1120.2,855.6 1120.8,859.0 1121.3,854.3 1121.9,858.8 1122.4,855.2 1123.0,858.1 1123.5,855.2 1124.1,859.5 1124.6,861.0 1125.2,854.2 1125.7,854.6 1126.3,857.9 1126.8,856.9 1127.4,852.3 1127.9,855.0 1128.5,857.6 1129.0,861.0 1129.6,854.3 1130.1,853.4 1130.7,857.0 1131.2,855.4 1131.8,854.3 1132.3,855.1 1132.9,853.8 1133.4,857.4 1134.0,850.5 1134.5,855.2 1135.1,857.0 1135.6,856.2 1136.2,849.1 1136.7,854.6 1137.3,852.4 1137.8,859.8 1138.4,859.3 1138.9,856.3 1139.5,854.6 1140.0,857.3 1140.6,857.0 1141.1,851.4 1141.7,858.3 1142.2,855.2 1142.8,852.3 1143.3,856.1 1143.9,851.9 1144.4,853.9 1145.0,853.9 1145.5,852.1 1146.1,848.5 1146.6,844.3 1147.2,841.1 1147.7,835.7 1148.3,829.7 1148.8,822.4 1149.4,816.3 1149.9,810.7 1150.5,806.5 1151.0,804.0 1151.6,803.5 1152.1,804.7 1152.7,807.1 1153.2,810.4 1153.8,814.2 1154.3,818.6 1154.9,822.9 1155.4,827.2 1156.0,831.0 1156.5,833.4 1157.1,835.2 1157.6,836.6 1158.2,836.4 1158.7,835.3 1159.3,834.4 1159.8,832.7 1160.4,830.8 1160.9,829.4 1161.5,828.2 1162.0,827.6 1162.6,827.6 1163.1,828.1 1163.7,829.2 1164.2,830.9 1164.8,832.7 1165.3,834.9 1165.9,837.6 1166.4,840.0 1167.0,843.1 1167.5,844.3 1168.1,845.8 1168.6,849.6 1169.2,850.0 1169.7,851.0 1170.3,852.6 1170.8,855.5 1171.4,852.0 1171.9,850.8 1172.5,853.0 1173.0,853.1 1173.6,856.7 1174.1,854.4 1174.7,855.7 1175.2,854.9 1175.8,852.6 1176.3,857.8 1176.9,856.2 1177.4,859.0 1178.0,855.2 1178.5,852.3 1179.1,856.8 1179.6,859.1 1180.2,856.0 1180.7,852.6 1181.3,854.9 1181.8,859.1 1182.4,859.4 1182.9,853.2 1183.5,854.3 1184.0,849.7 1184.6,855.7 1185.1,856.0 1185.7,863.7 1186.2,855.9 1186.8,860.4 1187.3,856.5 1187.9,854.4 1188.4,858.2 1189.0,860.3 1189.5,852.8 1190.1,857.4 1190.6,859.0 1191.2,852.9 1191.7,856.8 1192.3,856.3 1192.8,857.7 1193.4,862.0 1193.9,854.5 1194.5,854.3 1195.0,858.3 1195.6,857.0 1196.1,856.4 1196.7,850.6 1197.2,856.7 1197.8,856.4 1198.3,855.8 1198.9,854.6 1199.4,855.0 1200.0,854.9 1200.5,859.9 1201.1,857.6 1201.6,858.4 1202.2,857.2 1202.7,858.2 1203.3,854.5 1203.8,860.4 1204.4,858.0 1204.9,859.6 1205.5,856.6 1206.0,857.6 1206.6,858.4 1207.1,856.6 1207.7,854.0 1208.2,857.3 1208.8,860.5 1209.3,858.4 1209.9,854.0 1210.4,857.8 1211.0,859.2 1211.5,857.7 1212.1,855.0 1212.6,853.2 1213.2,859.7 1213.7,857.6 1214.3,863.9 1214.8,858.3 1215.4,858.8 1215.9,855.0 1216.5,858.3 1217.0,861.6 1217.6,857.3 1218.1,856.1 1218.7,852.1 1219.2,856.7 1219.8,849.8 1220.3,858.2 1220.9,859.1 1221.4,853.5 1222.0,855.1 1222.5,855.7 1223.1,851.2 1223.6,852.8 1224.2,854.8 1224.7,853.0 1225.3,858.1 1225.8,858.0 1226.4,856.1 1226.9,858.0 1227.5,851.9 1228.0,856.4 1228.6,856.7 1229.1,856.6 1229.7,855.3 1230.2,856.3 1230.8,858.8 1231.3,855.4 1231.9,851.7 1232.4,855.5 1233.0,855.2 1233.5,852.8 1234.1,857.5 1234.6,859.0 1235.2,858.8 1235.7,857.5 1236.3,857.0 1236.8,852.4 1237.4,853.7 1237.9,858.6 1238.5,851.6 1239.0,854.6 1239.6,860.0 1240.1,853.0 1240.7,856.9 1241.2,859.4 1241.8,853.3 1242.3,850.7 1242.9,853.0 1243.4,857.2 1244.0,855.2 1244.5,860.0 1245.1,860.1 1245.6,853.4 1246.2,857.9 1246.7,856.5 1247.3,857.6 1247.8,855.0 1248.4,854.2 1248.9,855.5 1249.5,859.0 1250.0,856.5 1250.6,857.5 1251.1,857.8 1251.7,857.2 1252.2,855.6 1252.8,852.6 1253.3,856.7 1253.9,858.2 1254.4,857.1 1255.0,855.1 1255.5,860.0 1256.1,854.7 1256.6,858.8 1257.2,859.9 1257.7,858.8 1258.3,859.0 1258.8,857.5 1259.4,855.4 1259.9,852.6 1260.5,857.6 1261.0,857.9 1261.6,852.7 1262.1,862.4 1262.7,858.6 1263.2,858.3 1263.8,857.7 1264.3,857.0 1264.9,858.9 1265.4,858.2 1266.0,854.1 1266.5,856.7 1267.1,858.5 1267.6,856.1 1268.2,860.6 1268.7,858.8 1269.3,858.4 1269.8,858.3 1270.4,859.7 1270.9,849.7 1271.5,852.3 1272.0,855.5 1272.6,853.6 1273.1,854.7 1273.7,853.7 1274.2,850.3 1274.8,857.8 1275.3,859.2 1275.9,856.4 1276.4,853.2 1277.0,854.1 1277.5,860.2 1278.1,855.4 1278.6,859.9 1279.2,858.2 1279.7,859.9 1280.3,858.0 1280.8,856.9 1281.4,856.2 1281.9,854.5 1282.5,855.5 1283.0,857.0 1283.6,854.6 1284.1,858.9 1284.7,856.3 1285.2,858.0 1285.8,858.5 1286.3,851.9 1286.9,858.4 1287.4,856.5 1288.0,859.7 1288.5,856.4 1289.1,856.2 1289.6,853.2 1290.2,851.1 1290.7,856.5 1291.3,856.3 1291.8,855.3 1292.4,860.1 1292.9,855.9 1293.5,856.1 1294.0,860.5 1294.6,855.5 1295.1,854.2 1295.7,860.7 1296.2,857.3 1296.8,858.2 1297.3,853.2 1297.9,852.8 1298.4,850.9 1299.0,844.3 1299.5,838.5 1300.1,830.4 1300.6,821.8 1301.2,811.1 1301.7,801.8 1302.3,794.7 1302.8,791.1 1303.4,791.0 1303.9,793.8 1304.5,798.1 1305.0,803.0 1305.6,807.6 1306.1,812.2 1306.7,817.1 1307.2,823.6 1307.8,829.6 1308.3,835.3 1308.9,840.7 1309.4,844.1 1310.0,846.3 1310.5,850.5 1311.1,853.5 1311.6,855.5 1312.2,851.4 1312.7,852.3 1313.3,852.8 1313.8,857.5 1314.4,855.4 1314.9,855.2 1315.5,852.4 1316.0,856.8 1316.6,854.3 1317.1,853.2 1317.7,853.0 1318.2,853.6 1318.8,858.8 1319.3,854.1 1319.9,852.1 1320.4,855.0 1321.0,856.9 1321.5,851.6 1322.1,856.0 1322.6,849.0 1323.2,856.4 1323.7,855.8 1324.3,850.8 1324.8,853.5 1325.4,854.1 1325.9,854.0 1326.5,850.2 1327.0,843.7 1327.6,836.2 1328.1,821.5 1328.7,802.0 1329.2,779.1 1329.8,753.0 1330.3,730.2 1330.9,715.2 1331.4,711.5 1332.0,717.9 1332.5,730.0 1333.1,743.1 1333.6,753.9 1334.2,762.0 1334.7,768.5 1335.3,776.3 1335.8,787.9 1336.4,801.9 1336.9,815.4 1337.5,827.1 1338.0,837.7 1338.6,841.9 1339.1,849.0 1339.7,846.9 1340.2,847.0 1340.8,842.2 1341.3,837.7 1341.9,825.7 1342.4,802.0 1343.0,766.9 1343.5,721.9 1344.1,669.5 1344.6,620.8 1345.2,586.9 1345.7,576.5 1346.3,589.6 1346.8,616.5 1347.4,645.3 1347.9,667.4 1348.5,681.1 1349.0,691.2 1349.6,703.2 1350.1,722.7 1350.7,749.2 1351.2,775.7 1351.8,801.1 1352.3,822.5 1352.9,835.1 1353.4,842.7 1354.0,851.3 1354.5,850.2 1355.1,854.1 1355.6,853.7 1356.2,855.6 1356.7,857.0 1357.3,856.8 1357.8,853.7 1358.4,855.9 1358.9,853.9 1359.5,860.1 1360.0,856.1 1360.6,858.9 1361.1,849.0 1361.7,857.6 1362.2,855.8 1362.8,857.1 1363.3,852.4 1363.9,853.4 1364.4,854.6 1365.0,855.6 1365.5,855.0 1366.1,857.9 1366.6,857.6 1367.2,860.7 1367.7,852.7 1368.3,853.0 1368.8,858.4 1369.4,855.6 1369.9,853.5 1370.5,855.7 1371.0,856.8 1371.6,851.3 1372.1,858.3 1372.7,852.6 1373.2,858.3 1373.8,857.5 1374.3,852.2 1374.9,854.5 1375.4,855.0 1376.0,854.0 1376.5,852.8 1377.1,853.1 1377.6,856.7 1378.2,854.3 1378.7,851.5 1379.3,853.7 1379.8,853.6 1380.4,855.1 1380.9,855.9 1381.5,850.0 1382.0,853.9 1382.6,850.9 1383.1,849.9 1383.7,847.7 1384.2,843.1 1384.8,838.9 1385.3,834.7 1385.9,828.6 1386.4,822.1 1387.0,815.9 1387.5,809.9 1388.1,805.1 1388.6,802.0 1389.2,800.3 1389.7,800.3 1390.3,801.4 1390.8,803.3 1391.4,805.9 1391.9,808.8 1392.5,811.6 1393.0,815.9 1393.6,819.0 1394.1,821.6 1394.7,825.5 1395.2,828.3 1395.8,832.1 1396.3,833.4 1396.9,838.0 1397.4,836.9 1398.0,836.1 1398.5,839.0 1399.1,840.2 1399.6,843.2 1400.2,840.9 1400.7,837.9 1401.3,837.7 1401.8,847.1 1402.4,842.3 1402.9,842.7 1403.5,846.0 1404.0,848.1 1404.6,850.3 1405.1,852.2 1405.7,850.5 1406.2,846.7 1406.8,853.6 1407.3,847.1 1407.9,853.5 1408.4,857.2 1409.0,856.7 1409.5,848.6 1410.1,855.9 1410.6,853.9 1411.2,848.0 1411.7,854.3 1412.3,854.6 1412.8,852.5 1413.4,853.9 1413.9,859.2 1414.5,857.6 1415.0,858.6 1415.6,852.9 1416.1,859.6 1416.7,863.1 1417.2,858.7 1417.8,855.8 1418.3,854.7 1418.9,857.2 1419.4,853.3 1420.0,858.9 1420.5,856.1 1421.1,857.4 1421.6,856.1 1422.2,855.8 1422.7,853.2 1423.3,857.2 1423.8,851.0 1424.4,855.3 1424.9,855.7 1425.5,860.1 1426.0,860.0 1426.6,855.7 1427.1,859.0 1427.7,854.5 1428.2,853.9 1428.8,854.8 1429.3,857.6 1429.9,855.6 1430.4,850.9 1431.0,858.5 1431.5,856.9 1432.1,857.5 1432.6,857.1 1433.2,854.3 1433.7,858.3 1434.3,856.4 1434.8,856.9 1435.4,855.6 1435.9,861.0 1436.5,857.1 1437.0,861.0 1437.6,858.9 1438.1,852.5 1438.7,858.0 1439.2,859.1 1439.8,855.8 1440.3,852.9 1440.9,859.7 1441.4,856.6 1442.0,853.5 1442.5,859.3 1443.1,858.8 1443.6,863.3 1444.2,856.6 1444.7,858.1 1445.3,856.8 1445.8,859.8 1446.4,856.6 1446.9,854.7 1447.5,855.9 1448.0,855.5 1448.6,860.7 1449.1,859.7 1449.7,860.3 1450.2,853.9 1450.8,859.1 1451.3,856.8 1451.9,853.9 1452.4,861.7 1453.0,856.3 1453.5,859.3 1454.1,861.1 1454.6,852.5 1455.2,851.7 1455.7,859.5 1456.3,853.4 1456.8,859.3 1457.4,852.4 1457.9,853.6 1458.5,861.6 1459.0,860.7 1459.6,857.9 1460.1,858.7 1460.7,853.1 1461.2,855.7 1461.8,850.7 1462.3,861.9 1462.9,857.3 1463.4,851.1 1464.0,854.7 1464.5,861.9 1465.1,858.8 1465.6,858.9 1466.2,857.5 1466.7,854.6 1467.3,851.3 1467.8,858.1 1468.4,857.3 1468.9,859.4 1469.5,856.9 1470.0,855.7 1470.6,854.2 1471.1,854.5 1471.7,858.1 1472.2,863.1 1472.8,854.9 1473.3,859.3 1473.9,860.9 1474.4,854.6 1475.0,858.4 1475.5,857.8 1476.1,858.3 1476.6,859.1 1477.2,857.8 1477.7,857.8 1478.3,851.3 1478.8,858.2 1479.4,861.0 1479.9,859.7 1480.5,862.5 1481.0,864.1 1481.6,860.3 1482.1,853.3 1482.7,861.5 1483.2,861.3 1483.8,856.3 1484.3,855.0 1484.9,857.0 1485.4,861.4 1486.0,857.5 1486.5,859.6 1487.1,855.8 1487.6,854.0 1488.2,855.5 1488.7,857.0 1489.3,854.6 1489.8,854.2 1490.4,854.8 1490.9,859.1 1491.5,864.1 1492.0,860.9 1492.6,858.4 1493.1,851.7 1493.7,860.4 1494.2,855.4 1494.8,853.2 1495.3,852.4 1495.9,856.5 1496.4,852.7 1497.0,855.5 1497.5,860.6 1498.1,860.4 1498.6,855.7 1499.2,852.7 1499.7,854.7 1500.3,860.4 1500.8,859.3 1501.4,861.5 1501.9,853.1 1502.5,859.2 1503.0,861.9 1503.6,858.4 1504.1,856.4 1504.7,856.9 1505.2,854.9 1505.8,851.7 1506.3,860.7 1506.9,852.9 1507.4,857.9 1508.0,854.7 1508.5,853.2 1509.1,859.9 1509.6,854.0 1510.2,849.6 1510.7,858.2 1511.3,860.0 1511.8,860.2 1512.4,858.0 1512.9,860.2 1513.5,854.6 1514.0,858.1 1514.6,856.5 1515.1,851.9 1515.7,857.2 1516.2,857.3 1516.8,853.8 1517.3,850.6 1517.9,855.0 1518.4,855.9 1519.0,854.0 1519.5,856.8 1520.1,857.7 1520.6,859.2 1521.2,858.2 1521.7,860.0 1522.3,853.2 1522.8,860.0 1523.4,856.2 1523.9,851.5 1524.5,858.2 1525.0,856.5 1525.6,856.2 1526.1,862.3 1526.7,862.6 1527.2,861.8 1527.8,859.9 1528.3,856.6 1528.9,857.2 1529.4,849.6 1530.0,856.0 1530.5,854.0 1531.1,861.7 1531.6,850.8 1532.2,856.1 1532.7,855.6 1533.3,863.5 1533.8,853.5 1534.4,856.5 1534.9,854.0 1535.5,856.3 1536.0,854.4 1536.6,857.9 1537.1,853.6 1537.7,861.0 1538.2,858.0 1538.8,859.2 1539.3,858.4 1539.9,858.4 1540.4,857.4 1541.0,855.5 1541.5,857.0 1542.1,853.6 1542.6,858.1 1543.2,855.3 1543.7,854.2 1544.3,854.0 1544.8,852.2 1545.4,854.6 1545.9,849.8 1546.5,848.2 1547.0,844.3 1547.6,839.1 1548.1,832.7 1548.7,824.8 1549.2,818.2 1549.8,812.8 1550.3,808.9 1550.9,807.3 1551.4,808.2 1552.0,810.7 1552.5,814.1 1553.1,817.5 1553.6,820.6 1554.2,823.1 1554.7,824.7 1555.3,828.7 1555.8,831.0 1556.4,836.1 1556.9,838.1 1557.5,841.9 1558.0,843.5 1558.6,850.0 1559.1,851.3 1559.7,853.5 1560.2,852.8 1560.8,853.7 1561.3,854.1 1561.9,852.7 1562.4,854.9 1563.0,857.5 1563.5,857.5 1564.1,853.6 1564.6,856.2 1565.2,856.6 1565.7,853.7 1566.3,859.3 1566.8,857.9 1567.4,853.9 1567.9,859.5 1568.5,853.5 1569.0,857.9 1569.6,857.2 1570.1,852.6 1570.7,856.1 1571.2,856.0 1571.8,851.2 1572.3,850.6 1572.9,847.9 1573.4,844.2 1574.0,840.9 1574.5,835.6 1575.1,831.4 1575.6,826.8 1576.2,822.7 1576.7,820.4 1577.3,819.1 1577.8,819.4 1578.4,820.8 1578.9,822.8 1579.5,825.1 1580.0,827.4 1580.6,829.5 1581.1,831.7 1581.7,833.3 1582.2,836.0 1582.8,838.8 1583.3,839.8 1583.9,846.4 1584.4,846.9 1585.0,851.7 1585.5,851.4 1586.1,849.3 1586.6,853.5 1587.2,856.2 1587.7,853.5 1588.3,855.1 1588.8,855.8 1589.4,856.4 1589.9,856.9 1590.5,861.3 1591.0,856.6 1591.6,855.2 1592.1,856.8 1592.7,854.7 1593.2,857.2 1593.8,857.7 1594.3,856.9 1594.9,858.5 1595.4,857.3 1596.0,857.0 1596.5,860.4 1597.1,853.1 1597.6,856.0 1598.2,857.9 1598.7,857.8 1599.3,862.0 1599.8,862.9 1600.4,859.8 1600.9,855.0 1601.5,859.3 1602.0,854.3 1602.6,856.7 1603.1,855.0 1603.7,852.3 1604.2,853.2 1604.8,859.2 1605.3,858.6 1605.9,851.8 1606.4,856.4 1607.0,856.7 1607.5,858.3 1608.1,857.2 1608.6,857.9 1609.2,855.6 1609.7,860.0 1610.3,858.7 1610.8,852.2 1611.4,852.6 1611.9,857.3 1612.5,858.2 1613.0,855.3 1613.6,853.8 1614.1,857.9 1614.7,853.9 1615.2,856.5 1615.8,855.3 1616.3,856.7 1616.9,851.9 1617.4,855.7 1618.0,858.8 1618.5,856.6 1619.1,854.3 1619.6,861.6 1620.2,855.4 1620.7,853.4 1621.3,853.6 1621.8,854.3 1622.4,854.9 1622.9,850.9 1623.5,852.8 1624.0,853.1 1624.6,849.4 1625.1,848.7 1625.7,846.4 1626.2,843.2 1626.8,840.7 1627.3,838.4 1627.9,836.1 1628.4,834.6 1629.0,833.8 1629.5,833.5 1630.1,833.8 1630.6,834.6 1631.2,835.7 1631.7,836.9 1632.3,838.2 1632.8,839.7 1633.4,840.5 1633.9,842.5 1634.5,843.3 1635.0,845.4 1635.6,846.4 1636.1,849.3 1636.7,852.3 1637.2,853.1 1637.8,852.5 1638.3,851.0 1638.9,856.9 1639.4,855.0 1640.0,853.9 1640.5,855.0 1641.1,858.1 1641.6,859.9 1642.2,856.1 1642.7,855.3 1643.3,856.0 1643.8,855.8 1644.4,851.8 1644.9,852.5 1645.5,852.7 1646.0,854.5 1646.6,857.0 1647.1,851.5 1647.7,855.1 1648.2,856.4 1648.8,846.9 1649.3,850.3 1649.9,847.4 1650.4,849.5 1651.0,847.0 1651.5,843.0 1652.1,848.1 1652.6,840.3 1653.2,841.3 1653.7,844.0 1654.3,846.3 1654.8,840.1 1655.4,849.0 1655.9,846.4 1656.5,841.7 1657.0,839.8 1657.6,851.3 1658.1,845.8 1658.7,847.0 1659.2,849.4 1659.8,847.4 1660.3,853.7 1660.9,846.8 1661.4,851.5 1662.0,849.3 1662.5,851.2 1663.1,856.4 1663.6,852.5 1664.2,857.5 1664.7,853.3 1665.3,858.4 1665.8,850.2 1666.4,853.9 1666.9,859.6 1667.5,856.5 1668.0,855.0 1668.6,857.5 1669.1,855.2 1669.7,855.3 1670.2,855.9 1670.8,850.2 1671.3,855.7 1671.9,861.1 1672.4,857.2 1673.0,852.5 1673.5,859.8 1674.1,850.0 1674.6,852.2 1675.2,859.1 1675.7,857.5 1676.3,856.8 1676.8,858.7 1677.4,858.7 1677.9,854.9 1678.5,854.2 1679.0,853.3 1679.6,856.5 1680.1,859.3 1680.7,859.0 1681.2,853.0 1681.8,856.3 1682.3,860.7 1682.9,849.8 1683.4,856.9 1684.0,858.8 1684.5,858.6 1685.1,849.9 1685.6,858.5 1686.2,857.2 1686.7,855.0 1687.3,858.6 1687.8,858.8 1688.4,855.9 1688.9,854.9 1689.5,856.6 1690.0,862.1 1690.6,857.0 1691.1,854.4 1691.7,857.1 1692.2,854.6 1692.8,858.1 1693.3,861.6 1693.9,858.0 1694.4,857.3 1695.0,858.1 1695.5,854.5 1696.1,855.5 1696.6,854.7 1697.2,858.1 1697.7,857.2 1698.3,857.1 1698.8,863.9 1699.4,859.0 1699.9,861.1 1700.5,857.7 1701.0,851.4 1701.6,859.4 1702.1,852.0 1702.7,857.0 1703.2,850.6 1703.8,855.7 1704.3,857.1 1704.9,864.4 1705.4,856.1 1706.0,860.2 1706.5,856.4 1707.1,858.5 1707.6,854.5 1708.2,858.1 1708.7,854.9 1709.3,855.4 1709.8,856.6 1710.4,857.6 1710.9,861.4 1711.5,861.8 1712.0,854.7 1712.6,852.9 1713.1,858.4 1713.7,859.4 1714.2,856.6 1714.8,858.7 1715.3,858.9 1715.9,854.7 1716.4,852.5 1717.0,861.5 1717.5,861.0 1718.1,854.1 1718.6,857.8 1719.2,855.9 1719.7,856.7 1720.3,854.7 1720.8,852.4 1721.4,854.1 1721.9,860.8 1722.5,857.1 1723.0,853.8 1723.6,862.1 1724.1,854.3 1724.7,857.6 1725.2,851.6 1725.8,857.7 1726.3,859.3 1726.9,854.1 1727.4,856.6 1728.0,852.7 1728.5,858.3 1729.1,859.7 1729.6,857.8 1730.2,857.0 1730.7,859.5 1731.3,858.3 1731.8,861.1 1732.4,859.2 1732.9,861.4 1733.5,852.7 1734.0,856.9 1734.6,851.6 1735.1,856.1 1735.7,858.8 1736.2,859.2 1736.8,855.6 1737.3,857.7 1737.9,855.7 1738.4,857.0 1739.0,861.5 1739.5,860.1 1740.1,858.4 1740.6,860.1 1741.2,858.6 1741.7,853.1 1742.3,857.2 1742.8,858.7 1743.4,855.8 1743.9,858.6 1744.5,856.0 1745.0,861.7 1745.6,856.0 1746.1,861.6 1746.7,859.2 1747.2,855.5 1747.8,858.5 1748.3,859.4 1748.9,854.3 1749.4,858.3 1750.0,859.0 1750.5,854.1 1751.1,857.8 1751.6,856.7 1752.2,853.2 1752.7,857.4 1753.3,864.2 1753.8,855.6 1754.4,858.1 1754.9,852.9 1755.5,861.0 1756.0,857.5 1756.6,859.5 1757.1,857.4 1757.7,859.6 1758.2,856.2 1758.8,859.9 1759.3,859.5 1759.9,859.7 1760.4,854.3 1761.0,857.9 1761.5,857.0 1762.1,863.1 1762.6,860.8 1763.2,856.5 1763.7,855.8 1764.3,858.0 1764.8,854.9 1765.4,855.4 1765.9,855.9 1766.5,854.2 1767.0,862.5 1767.6,852.5 1768.1,855.6 1768.7,863.8 1769.2,856.8 1769.8,858.0 1770.3,859.2 1770.9,852.2 1771.4,857.0 1772.0,859.4 1772.5,851.0 1773.1,863.6 1773.6,861.7 1774.2,853.8 1774.7,856.2 1775.3,860.5 1775.8,856.1 1776.4,857.1 1776.9,859.4 1777.5,852.4 1778.0,860.0 1778.6,860.2 1779.1,858.5 1779.7,857.1 1780.2,860.8 1780.8,855.8 1781.3,858.3 1781.9,856.5 1782.4,852.1 1783.0,857.9 1783.5,857.1 1784.1,856.7 1784.6,857.7 1785.2,855.0 1785.7,854.1 1786.3,856.2 1786.8,858.2 1787.4,854.0 1787.9,858.9 1788.5,853.8 1789.0,855.4 1789.6,856.7 1790.1,854.1 1790.7,857.2 1791.2,852.3 1791.8,856.9 1792.3,853.9 1792.9,858.8 1793.4,854.3 1794.0,858.8 1794.5,855.0 1795.1,859.9 1795.6,856.6 1796.2,858.9 1796.7,857.5 1797.3,857.9 1797.8,857.4 1798.4,854.0 1798.9,857.9 1799.5,857.6 1800.0,856.1 1800.6,861.2 1801.1,855.2 1801.7,860.2 1802.2,854.1 1802.8,857.0 1803.3,853.0 1803.9,860.3 1804.4,858.3 1805.0,854.2 1805.5,860.2 1806.1,858.8 1806.6,857.0 1807.2,857.5 1807.7,854.5 1808.3,857.6 1808.8,850.5 1809.4,853.8 1809.9,850.4 1810.5,847.7 1811.0,843.7 1811.6,839.1 1812.1,833.7 1812.7,826.9 1813.2,820.1 1813.8,813.6 1814.3,808.4 1814.9,804.8 1815.4,804.1 1816.0,805.5 1816.5,808.4 1817.1,812.2 1817.6,815.9 1818.2,819.1 1818.7,821.7 1819.3,823.3 1819.8,825.1 1820.4,826.2 1820.9,828.6 1821.5,829.6 1822.0,835.2 1822.6,837.9 1823.1,839.9 1823.7,844.4 1824.2,846.6 1824.8,851.1 1825.3,852.8 1825.9,855.0 1826.4,854.1 1827.0,852.1 1827.5,856.9 1828.1,853.2 1828.6,862.6 1829.2,853.5 1829.7,857.5 1830.3,861.2 1830.8,856.0 1831.4,863.0 1831.9,857.9 1832.5,853.1 1833.0,857.1 1833.6,856.2 1834.1,857.9 1834.7,859.9 1835.2,855.5 1835.8,858.4 1836.3,853.7 1836.9,854.6 1837.4,856.2 1838.0,858.5 1838.5,853.0 1839.1,855.4 1839.6,858.9 1840.2,856.1 1840.7,854.9 1841.3,858.0 1841.8,855.8 1842.4,855.6 1842.9,856.0 1843.5,858.4 1844.0,857.0 1844.6,858.1 1845.1,854.5 1845.7,852.4 1846.2,850.0 1846.8,849.1 1847.3,846.3 1847.9,842.0 1848.4,840.1 1849.0,835.3 1849.5,830.5 1850.1,827.9 1850.6,825.2 1851.2,823.8 1851.7,823.6 1852.3,824.5 1852.8,826.1 1853.4,828.2 1853.9,830.3 1854.5,832.2 1855.0,833.5 1855.6,834.7 1856.1,835.5 1856.7,837.3 1857.2,839.9 1857.8,839.8 1858.3,843.0 1858.9,844.1 1859.4,846.8 1860.0,851.1 1860.5,850.5 1861.1,853.5 1861.6,851.3 1862.2,851.3 1862.7,854.7 1863.3,855.6 1863.8,858.2 1864.4,857.4 1864.9,852.1 1865.5,861.8 1866.0,856.3 1866.6,857.9 1867.1,859.0 1867.7,856.4 1868.2,857.9 1868.8,857.1 1869.3,858.1 1869.9,853.4 1870.4,849.2 1871.0,854.6 1871.5,854.9 1872.1,855.3 1872.6,857.5 1873.2,850.4 1873.7,851.5 1874.3,839.5 1874.8,841.1 1875.4,843.1 1875.9,842.7 1876.5,845.2 1877.0,842.0 1877.6,850.6 1878.1,847.4 1878.7,851.3 1879.2,852.2 1879.8,846.5 1880.3,849.3 1880.9,848.9 1881.4,848.0 1882.0,846.8 1882.5,849.8 1883.1,854.7 1883.6,853.5 1884.2,856.2 1884.7,857.7 1885.3,853.4 1885.8,854.9 1886.4,859.7 1886.9,857.7 1887.5,855.2 1888.0,854.7 1888.6,856.0 1889.1,852.6 1889.7,854.9 1890.2,853.7 1890.8,858.2 1891.3,859.1 1891.9,855.0 1892.4,862.3 1893.0,853.5 1893.5,855.5 1894.1,855.1 1894.6,857.9 1895.2,856.6 1895.7,858.9 1896.3,858.5 1896.8,858.6 1897.4,860.6 1897.9,856.9 1898.5,855.8 1899.0,856.5 1899.6,855.8 1900.1,853.6 1900.7,857.9 1901.2,853.8 1901.8,857.7 1902.3,857.9 1902.9,853.9 1903.4,856.3 1904.0,854.1 1904.5,859.2 1905.1,854.0 1905.6,857.8 1906.2,853.2 1906.7,855.2 1907.3,864.5 1907.8,856.0 1908.4,853.2 1908.9,854.7 1909.5,855.6 1910.0,855.5 1910.6,854.9 1911.1,859.5 1911.7,859.3 1912.2,856.6 1912.8,862.0 1913.3,857.2 1913.9,853.5 1914.4,856.9 1915.0,857.9 1915.5,859.2 1916.1,850.3 1916.6,855.5 1917.2,857.8 1917.7,859.4 1918.3,858.6 1918.8,861.5 1919.4,856.6 1919.9,860.1 1920.5,854.5 1921.0,859.7 1921.6,854.5 1922.1,859.7 1922.7,857.9 1923.2,853.9 1923.8,859.8 1924.3,855.0 1924.9,855.6 1925.4,855.6 1926.0,857.3 1926.5,862.5 1927.1,857.7 1927.6,860.5 1928.2,862.4 1928.7,855.6 1929.3,859.3 1929.8,858.8 1930.4,855.1 1930.9,855.3 1931.5,853.9 1932.0,858.2 1932.6,855.0 1933.1,856.4 1933.7,859.1 1934.2,857.3 1934.8,863.1 1935.3,859.0 1935.9,858.8 1936.4,851.2 1937.0,856.0 1937.5,856.8 1938.1,856.2 1938.6,859.8 1939.2,858.6 1939.7,851.1 1940.3,855.6 1940.8,858.1 1941.4,854.5 1941.9,855.5 1942.5,854.6 1943.0,859.4 1943.6,859.9 1944.1,859.8 1944.7,857.4 1945.2,852.9 1945.8,858.5 1946.3,861.0 1946.9,862.4 1947.4,856.7 1948.0,856.3 1948.5,856.6 1949.1,858.3 1949.6,855.5 1950.2,860.3 1950.7,860.4 1951.3,858.0 1951.8,852.4 1952.4,860.7 1952.9,858.7 1953.5,854.0 1954.0,862.7 1954.6,857.3 1955.1,857.1 1955.7,858.7 1956.2,854.0 1956.8,857.9 1957.3,857.6 1957.9,857.5 1958.4,854.6 1959.0,859.4 1959.5,860.3 1960.1,855.4 1960.6,857.7 1961.2,858.0 1961.7,857.8 1962.3,854.6 1962.8,855.5 1963.4,858.0 1963.9,856.2 1964.5,860.1 1965.0,857.3 1965.6,859.7 1966.1,856.9 1966.7,859.8 1967.2,861.5 1967.8,851.1 1968.3,860.8 1968.9,857.2 1969.4,858.2 1970.0,858.8 1970.5,853.1 1971.1,859.2 1971.6,852.5 1972.2,855.3 1972.7,853.3 1973.3,855.4 1973.8,862.2 1974.4,857.3 1974.9,859.1 1975.5,856.8 1976.0,855.4 1976.6,858.0 1977.1,861.3 1977.7,852.0 1978.2,860.7 1978.8,860.0 1979.3,852.7 1979.9,856.3 1980.4,860.4 1981.0,861.7 1981.5,861.3 1982.1,856.5 1982.6,860.2 1983.2,859.1 1983.7,854.4 1984.3,855.0 1984.8,852.6 1985.4,857.5 1985.9,854.2 1986.5,857.6 1987.0,852.9 1987.6,855.0 1988.1,852.9 1988.7,850.0 1989.2,848.1 1989.8,844.8 1990.3,838.3 1990.9,833.6 1991.4,826.5 1992.0,819.8 1992.5,813.9 1993.1,808.7 1993.6,806.0 1994.2,805.8 1994.7,808.0 1995.3,811.6 1995.8,816.1 1996.4,820.4 1996.9,823.9 1997.5,826.5 1998.0,827.9 1998.6,828.5 1999.1,828.6 1999.7,829.4 2000.2,829.5 2000.8,830.5 2001.3,834.0 2001.9,838.6 2002.4,842.2 2003.0,844.9 2003.5,847.9 2004.1,848.7 2004.6,853.8 2005.2,855.2 2005.7,852.8 2006.3,856.9 2006.8,856.1 2007.4,852.5 2007.9,856.5 2008.5,852.7 2009.0,858.6 2009.6,856.8 2010.1,853.7 2010.7,858.1 2011.2,855.5 2011.8,861.1 2012.3,859.2 2012.9,857.3 2013.4,860.8 2014.0,856.0 2014.5,860.3 2015.1,859.4 2015.6,859.3 2016.2,852.7 2016.7,856.5 2017.3,856.5 2017.8,856.9 2018.4,858.7 2018.9,855.4 2019.5,853.1 2020.0,860.0 2020.6,859.7 2021.1,853.3 2021.7,858.7 2022.2,857.7 2022.8,859.4 2023.3,855.9 2023.9,857.8 2024.4,854.7 2025.0,857.7 2025.5,857.4 2026.1,856.0 2026.6,860.2 2027.2,856.6 2027.7,852.7 2028.3,850.8 2028.8,854.2 2029.4,844.9 2029.9,843.2 2030.5,843.3 2031.0,842.2 2031.6,845.8 2032.1,847.1 2032.7,847.3 2033.2,851.6 2033.8,854.9 2034.3,849.3 2034.9,855.6 2035.4,849.0 2036.0,849.5 2036.5,847.5 2037.1,851.0 2037.6,853.7 2038.2,853.4 2038.7,859.3 2039.3,854.4 2039.8,855.9 2040.4,851.8 2040.9,861.8 2041.5,852.0 2042.0,858.9 2042.6,859.6 2043.1,859.9 2043.7,856.0 2044.2,854.0 2044.8,861.6 2045.3,855.9 2045.9,860.1 2046.4,856.8 2047.0,858.1 2047.5,857.6 2048.1,859.3 2048.6,859.2 2049.2,862.6 2049.7,856.1 2050.3,857.2 2050.8,864.0 2051.4,854.3 2051.9,858.9 2052.5,861.5 2053.0,855.8 2053.6,856.5 2054.1,861.2 2054.7,850.2 2055.2,860.4 2055.8,852.4 2056.3,855.2 2056.9,860.7 2057.4,857.7 2058.0,860.3 2058.5,864.0 2059.1,850.9 2059.6,861.1 2060.2,855.3 2060.7,856.0 2061.3,855.1 2061.8,857.6 2062.4,858.9 2062.9,854.2 2063.5,857.2 2064.0,858.5 2064.6,858.9 2065.1,860.8 2065.7,856.4 2066.2,856.4 2066.8,860.1 2067.3,858.4"/>
<polyline class="c" stroke="#ff0000" points="166.5,1142.7 167.1,1137.9 167.6,1138.1 168.2,1141.8 168.7,1143.1 169.3,1144.9 169.8,1143.4 170.4,1151.6 170.9,1143.6 171.5,1145.5 172.0,1143.1 172.6,1141.5 173.1,1143.8 173.7,1147.9 174.2,1139.8 174.8,1135.5 175.3,1140.3 175.9,1147.0 176.4,1140.1 177.0,1145.1 177.5,1149.7 178.1,1146.4 178.6,1136.0 179.2,1145.0 179.7,1141.2 180.3,1142.7 180.8,1138.8 181.4,1143.9 181.9,1145.8 182.5,1140.0 183.0,1135.3 183.6,1134.3 184.1,1143.2 184.7,1133.1 185.2,1128.1 185.8,1131.0 186.3,1123.0 186.9,1123.4 187.4,1121.1 188.0,1128.5 188.5,1129.9 189.1,1138.2 189.6,1135.2 190.2,1135.9 190.7,1135.6 191.3,1143.3 191.8,1139.3 192.4,1142.5 192.9,1140.8 193.5,1149.2 194.0,1139.5 194.6,1137.4 195.1,1143.7 195.7,1142.4 196.2,1142.0 196.8,1146.7 197.3,1146.2 197.9,1145.8 198.4,1150.7 199.0,1141.3 199.5,1147.9 200.1,1141.6 200.6,1145.6 201.2,1134.5 201.7,1141.5 202.3,1146.0 202.8,1147.5 203.4,1143.6 203.9,1139.7 204.5,1147.8 205.0,1150.2 205.6,1136.8 206.1,1144.2 206.7,1145.8 207.2,1145.4 207.8,1138.3 208.3,1145.1 208.9,1144.4 209.4,1142.9 210.0,1147.3 210.5,1147.6 211.1,1142.4 211.6,1150.1 212.2,1140.0 212.7,1152.0 213.3,1139.9 213.8,1149.7 214.4,1139.9 214.9,1146.3 215.5,1147.6 216.0,1141.7 216.6,1147.1 217.1,1140.6 217.7,1142.2 218.2,1144.9 218.8,1144.8 219.3,1146.1 219.9,1146.7 220.4,1153.6 221.0,1147.5 221.5,1144.6 222.1,1144.1 222.6,1144.1 223.2,1145.3 223.7,1141.8 224.3,1150.7 224.8,1145.2 225.4,1140.7 225.9,1141.1 226.5,1147.4 227.0,1145.5 227.6,1141.7 228.1,1140.6 228.7,1140.6 229.2,1145.6 229.8,1142.8 230.3,1137.8 230.9,1145.8 231.4,1134.6 232.0,1141.3 232.5,1149.9 233.1,1146.9 233.6,1135.5 234.2,1141.2 234.7,1140.5 235.3,1147.6 235.8,1145.3 236.4,1149.2 236.9,1146.7 237.5,1146.3 238.0,1139.8 238.6,1142.0 239.1,1142.0 239.7,1138.5 240.2,1149.1 240.8,1145.4 241.3,1136.7 241.9,1147.5 242.4,1140.5 243.0,1146.8 243.5,1141.5 244.1,1139.7 244.6,1139.4 245.2,1137.6 245.7,1141.0 246.3,1137.1 246.8,1145.6 247.4,1140.5 247.9,1142.8 248.5,1145.1 249.0,1138.8 249.6,1137.4 250.1,1150.5 250.7,1136.8 251.2,1140.4 251.8,1145.6 252.3,1145.4 252.9,1142.4 253.4,1139.0 254.0,1148.6 254.5,1146.3 255.1,1143.7 255.6,1143.5 256.2,1147.5 256.7,1149.0 257.3,1144.5 257.8,1144.3 258.4,1146.8 258.9,1134.8 259.5,1150.6 260.0,1139.4 260.6,1143.4 261.1,1146.4 261.7,1143.5 262.2,1149.0 262.8,1152.0 263.3,1144.3 263.9,1146.9 264.4,1146.4 265.0,1148.8 265.5,1144.1 266.1,1143.6 266.6,1143.1 267.2,1144.5 267.7,1148.0 268.3,1139.8 268.8,1147.1 269.4,1143.5 269.9,1142.8 270.5,1137.0 271.0,1140.4 271.6,1148.0 272.1,1141.7 272.7,1149.9 273.2,1140.3 273.8,1138.6 274.3,1145.0 274.9,1139.9 275.4,1145.8 276.0,1147.9 276.5,1145.8 277.1,1144.0 277.6,1140.2 278.2,1146.0 278.7,1145.9 279.3,1143.0 279.8,1143.4 280.4,1141.8 280.9,1144.9 281.5,1144.3 282.0,1143.3 282.6,1145.8 283.1,1146.5 283.7,1145.5 284.2,1144.4 284.8,1143.3 285.3,1147.5 285.9,1144.4 286.4,1148.5 287.0,1146.4 287.5,1150.8 288.1,1144.2 288.6,1144.1 289.2,1146.1 289.7,1145.8 290.3,1144.3 290.8,1144.8 291.4,1147.0 291.9,1144.6 292.5,1139.2 293.0,1141.1 293.6,1150.2 294.1,1141.9 294.7,1143.8 295.2,1143.2 295.8,1143.2 296.3,1144.2 296.9,1148.4 297.4,1144.5 298.0,1142.7 298.5,1144.6 299.1,1146.5 299.6,1138.1 300.2,1150.6 300.7,1139.5 301.3,1145.4 301.8,1149.8 302.4,1147.8 302.9,1148.9 303.5,1146.9 304.0,1143.1 304.6,1152.6 305.1,1153.7 305.7,1147.4 306.2,1146.1 306.8,1145.6 307.3,1145.5 307.9,1145.0 308.4,1149.2 309.0,1142.7 309.5,1150.9 310.1,1141.8 310.6,1139.5 311.2,1143.1 311.7,1145.1 312.3,1143.3 312.8,1145.4 313.4,1142.9 313.9,1142.1 314.5,1143.2 315.0,1140.3 315.6,1141.7 316.1,1142.8 316.7,1137.1 317.2,1150.4 317.8,1136.4 318.3,1143.2 318.9,1145.9 319.4,1144.5 320.0,1148.5 320.5,1145.4 321.1,1142.4 321.6,1145.6 322.2,1147.9 322.7,1150.1 323.3,1143.9 323.8,1147.6 324.4,1144.8 324.9,1139.7 325.5,1136.4 326.0,1141.3 326.6,1140.0 327.1,1135.1 327.7,1144.6 328.2,1146.9 328.8,1145.9 329.3,1138.8 329.9,1140.8 330.4,1138.3 331.0,1142.8 331.5,1142.6 332.1,1143.2 332.6,1142.2 333.2,1148.6 333.7,1144.5 334.3,1144.0 334.8,1144.4 335.4,1150.8 335.9,1143.8 336.5,1147.3 337.0,1141.5 337.6,1148.6 338.1,1145.3 338.7,1138.3 339.2,1149.1 339.8,1139.8 340.3,1140.8 340.9,1147.0 341.4,1147.7 342.0,1145.1 342.5,1144.7 343.1,1143.8 343.6,1144.7 344.2,1143.1 344.7,1141.8 345.3,1149.2 345.8,1144.0 346.4,1149.5 346.9,1150.3 347.5,1147.4 348.0,1146.1 348.6,1140.9 349.1,1141.6 349.7,1141.4 350.2,1141.8 350.8,1145.0 351.3,1139.9 351.9,1143.6 352.4,1143.2 353.0,1140.2 353.5,1137.6 354.1,1128.3 354.6,1123.9 355.2,1113.8 355.7,1100.2 356.3,1084.5 356.8,1068.1 357.4,1053.2 357.9,1042.7 358.5,1038.8 359.0,1042.2 359.6,1052.1 360.1,1066.6 360.7,1082.5 361.2,1098.2 361.8,1111.0 362.3,1121.6 362.9,1130.4 363.4,1132.3 364.0,1137.1 364.5,1141.2 365.1,1142.3 365.6,1143.1 366.2,1144.5 366.7,1138.6 367.3,1138.5 367.8,1142.5 368.4,1139.5 368.9,1137.8 369.5,1143.1 370.0,1145.2 370.6,1146.0 371.1,1144.1 371.7,1142.5 372.2,1150.2 372.8,1142.7 373.3,1142.4 373.9,1142.5 374.4,1143.8 375.0,1143.6 375.5,1145.5 376.1,1141.8 376.6,1146.1 377.2,1147.8 377.7,1147.1 378.3,1144.9 378.8,1143.6 379.4,1151.4 379.9,1145.4 380.5,1151.2 381.0,1152.7 381.6,1138.1 382.1,1149.1 382.7,1146.0 383.2,1141.8 383.8,1147.9 384.3,1148.1 384.9,1146.7 385.4,1148.6 386.0,1145.2 386.5,1145.4 387.1,1151.8 387.6,1147.1 388.2,1141.9 388.7,1136.9 389.3,1142.7 389.8,1139.7 390.4,1141.7 390.9,1146.9 391.5,1143.3 392.0,1142.9 392.6,1144.0 393.1,1152.1 393.7,1151.1 394.2,1145.9 394.8,1143.4 395.3,1146.6 395.9,1140.3 396.4,1139.8 397.0,1144.3 397.5,1142.2 398.1,1143.0 398.6,1144.6 399.2,1144.5 399.7,1146.7 400.3,1141.1 400.8,1144.6 401.4,1145.4 401.9,1147.5 402.5,1144.6 403.0,1140.3 403.6,1135.9 404.1,1142.7 404.7,1138.1 405.2,1143.0 405.8,1143.8 406.3,1140.0 406.9,1144.7 407.4,1145.6 408.0,1139.6 408.5,1142.7 409.1,1142.1 409.6,1135.5 410.2,1140.4 410.7,1144.7 411.3,1143.5 411.8,1146.3 412.4,1139.2 412.9,1142.0 413.5,1140.3 414.0,1141.7 414.6,1141.5 415.1,1144.4 415.7,1145.3 416.2,1145.4 416.8,1141.9 417.3,1145.1 417.9,1141.2 418.4,1144.3 419.0,1149.0 419.5,1149.6 420.1,1145.6 420.6,1139.7 421.2,1145.7 421.7,1151.0 422.3,1147.4 422.8,1146.2 423.4,1145.0 423.9,1143.5 424.5,1139.8 425.0,1143.1 425.6,1140.7 426.1,1146.3 426.7,1147.6 427.2,1143.4 427.8,1141.4 428.3,1141.2 428.9,1143.6 429.4,1146.9 430.0,1145.0 430.5,1134.9 431.1,1142.2 431.6,1151.3 432.2,1144.7 432.7,1145.0 433.3,1145.2 433.8,1141.1 434.4,1136.7 434.9,1147.2 435.5,1136.3 436.0,1145.9 436.6,1143.5 437.1,1143.9 437.7,1138.2 438.2,1144.7 438.8,1139.9 439.3,1139.7 439.9,1140.5 440.4,1142.8 441.0,1141.2 441.5,1143.8 442.1,1148.0 442.6,1145.9 443.2,1141.4 443.7,1147.6 444.3,1142.0 444.8,1141.3 445.4,1150.0 445.9,1144.8 446.5,1140.3 447.0,1147.6 447.6,1145.8 448.1,1147.4 448.7,1146.3 449.2,1139.6 449.8,1142.6 450.3,1149.1 450.9,1141.7 451.4,1142.4 452.0,1141.8 452.5,1141.3 453.1,1145.8 453.6,1145.2 454.2,1144.5 454.7,1144.2 455.3,1141.9 455.8,1146.7 456.4,1148.9 456.9,1147.1 457.5,1141.4 458.0,1145.9 458.6,1144.9 459.1,1143.2 459.7,1139.8 460.2,1142.4 460.8,1144.6 461.3,1142.6 461.9,1141.0 462.4,1143.8 463.0,1143.2 463.5,1140.9 464.1,1146.4 464.6,1146.7 465.2,1145.8 465.7,1139.6 466.3,1149.0 466.8,1148.1 467.4,1139.1 467.9,1143.6 468.5,1148.8 469.0,1148.5 469.6,1135.7 470.1,1142.2 470.7,1141.4 471.2,1142.9 471.8,1144.6 472.3,1149.3 472.9,1145.4 473.4,1145.6 474.0,1141.1 474.5,1147.2 475.1,1145.4 475.6,1143.7 476.2,1146.4 476.7,1143.1 477.3,1139.2 477.8,1140.3 478.4,1149.6 478.9,1145.5 479.5,1145.4 480.0,1153.8 480.6,1141.5 481.1,1143.6 481.7,1142.8 482.2,1141.0 482.8,1145.4 483.3,1143.8 483.9,1145.9 484.4,1135.1 485.0,1146.7 485.5,1147.3 486.1,1148.3 486.6,1143.2 487.2,1145.5 487.7,1141.2 488.3,1137.1 488.8,1151.7 489.4,1145.5 489.9,1144.9 490.5,1147.9 491.0,1139.8 491.6,1141.5 492.1,1150.6 492.7,1146.5 493.2,1152.5 493.8,1145.8 494.3,1151.3 494.9,1144.7 495.4,1145.5 496.0,1143.4 496.5,1146.7 497.1,1144.3 497.6,1140.7 498.2,1141.4 498.7,1147.2 499.3,1140.9 499.8,1143.4 500.4,1140.6 500.9,1145.9 501.5,1143.4 502.0,1149.4 502.6,1145.3 503.1,1147.5 503.7,1140.8 504.2,1147.0 504.8,1136.2 505.3,1148.0 505.9,1144.7 506.4,1148.2 507.0,1138.0 507.5,1144.0 508.1,1137.9 508.6,1143.2 509.2,1142.3 509.7,1140.6 510.3,1138.3 510.8,1146.7 511.4,1147.2 511.9,1143.7 512.5,1147.8 513.0,1144.9 513.6,1143.8 514.1,1142.9 514.7,1148.9 515.2,1142.4 515.8,1145.4 516.3,1144.2 516.9,1141.7 517.4,1146.4 518.0,1139.7 518.5,1145.6 519.1,1135.5 519.6,1140.0 520.2,1142.3 520.7,1145.0 521.3,1147.9 521.8,1141.5 522.4,1144.6 522.9,1142.2 523.5,1145.3 524.0,1148.5 524.6,1151.7 525.1,1147.6 525.7,1147.5 526.2,1140.1 526.8,1145.6 527.3,1142.0 527.9,1143.6 528.4,1148.7 529.0,1144.1 529.5,1142.7 530.1,1140.6 530.6,1144.0 531.2,1144.0 531.7,1149.8 532.3,1142.0 532.8,1147.6 533.4,1150.5 533.9,1143.1 534.5,1137.2 535.0,1143.1 535.6,1150.5 536.1,1144.2 536.7,1145.5 537.2,1149.4 537.8,1145.1 538.3,1136.2 538.9,1150.3 539.4,1140.4 540.0,1147.0 540.5,1146.9 541.1,1146.0 541.6,1139.0 542.2,1148.2 542.7,1143.5 543.3,1135.1 543.8,1141.7 544.4,1141.4 544.9,1146.0 545.5,1138.8 546.0,1137.9 546.6,1145.7 547.1,1149.9 547.7,1146.1 548.2,1142.2 548.8,1143.2 549.3,1144.0 549.9,1144.8 550.4,1148.1 551.0,1141.5 551.5,1149.6 552.1,1151.2 552.6,1145.5 553.2,1153.2 553.7,1146.1 554.3,1145.9 554.8,1152.4 555.4,1142.2 555.9,1152.3 556.5,1141.7 557.0,1145.8 557.6,1148.4 558.1,1144.2 558.7,1144.8 559.2,1140.9 559.8,1145.6 560.3,1148.8 560.9,1145.7 561.4,1149.6 562.0,1144.8 562.5,1147.7 563.1,1144.8 563.6,1151.6 564.2,1143.3 564.7,1146.0 565.3,1148.7 565.8,1139.4 566.4,1150.3 566.9,1147.3 567.5,1146.2 568.0,1146.8 568.6,1147.8 569.1,1143.9 569.7,1146.4 570.2,1141.0 570.8,1143.7 571.3,1146.9 571.9,1143.5 572.4,1148.8 573.0,1141.8 573.5,1142.1 574.1,1144.4 574.6,1142.0 575.2,1150.5 575.7,1149.6 576.3,1136.8 576.8,1146.9 577.4,1144.0 577.9,1144.7 578.5,1142.0 579.0,1146.5 579.6,1145.1 580.1,1147.6 580.7,1141.5 581.2,1139.7 581.8,1142.9 582.3,1139.2 582.9,1141.9 583.4,1149.2 584.0,1143.9 584.5,1145.0 585.1,1150.2 585.6,1151.0 586.2,1143.6 586.7,1143.1 587.3,1144.1 587.8,1141.2 588.4,1146.9 588.9,1144.2 589.5,1143.8 590.0,1144.0 590.6,1141.8 591.1,1146.1 591.7,1138.2 592.2,1141.3 592.8,1136.4 593.3,1138.3 593.9,1139.2 594.4,1142.7 595.0,1141.9 595.5,1148.9 596.1,1144.4 596.6,1142.7 597.2,1142.3 597.7,1139.9 598.3,1144.3 598.8,1147.3 599.4,1149.2 599.9,1150.5 600.5,1142.4 601.0,1140.2 601.6,1146.0 602.1,1144.5 602.7,1145.5 603.2,1148.6 603.8,1147.0 604.3,1145.7 604.9,1144.1 605.4,1139.2 606.0,1145.1 606.5,1142.1 607.1,1144.1 607.6,1142.1 608.2,1147.4 608.7,1139.3 609.3,1143.7 609.8,1143.7 610.4,1147.3 610.9,1147.3 611.5,1146.3 612.0,1140.1 612.6,1138.2 613.1,1145.1 613.7,1142.8 614.2,1146.5 614.8,1144.6 615.3,1142.3 615.9,1142.6 616.4,1144.7 617.0,1141.3 617.5,1144.6 618.1,1139.1 618.6,1140.5 619.2,1145.9 619.7,1142.1 620.3,1143.6 620.8,1139.9 621.4,1138.9 621.9,1142.5 622.5,1140.6 623.0,1144.5 623.6,1140.6 624.1,1142.1 624.7,1145.3 625.2,1138.9 625.8,1144.8 626.3,1142.6 626.9,1140.7 627.4,1143.7 628.0,1148.2 628.5,1141.5 629.1,1141.4 629.6,1142.0 630.2,1137.9 630.7,1137.7 631.3,1139.8 631.8,1142.6 632.4,1146.5 632.9,1139.3 633.5,1138.4 634.0,1141.8 634.6,1139.1 635.1,1143.5 635.7,1141.8 636.2,1139.7 636.8,1140.7 637.3,1138.9 637.9,1134.8 638.4,1135.8 639.0,1138.1 639.5,1140.5 640.1,1139.2 640.6,1144.1 641.2,1141.4 641.7,1139.3 642.3,1136.8 642.8,1134.6 643.4,1130.1 643.9,1124.7 644.5,1125.4 645.0,1133.3 645.6,1132.4 646.1,1123.4 646.7,1122.1 647.2,1127.9 647.8,1118.6 648.3,1121.8 648.9,1113.1 649.4,1104.0 650.0,1110.2 650.5,1099.4 651.1,1103.0 651.6,1096.4 652.2,1094.5 652.7,1086.5 653.3,1084.7 653.8,1081.6 654.4,1071.4 654.9,1074.1 655.5,1068.8 656.0,1072.0 656.6,1066.8 657.1,1063.5 657.7,1061.7 658.2,1060.3 658.8,1064.3 659.3,1058.6 659.9,1063.4 660.4,1065.2 661.0,1062.6 661.5,1073.2 662.1,1076.3 662.6,1075.1 663.2,1084.6 663.7,1083.6 664.3,1091.6 664.8,1093.7 665.4,1104.6 665.9,1102.5 666.5,1104.6 667.0,1111.5 667.6,1113.6 668.1,1117.0 668.7,1122.3 669.2,1122.9 669.8,1125.0 670.3,1129.3 670.9,1131.2 671.4,1120.3 672.0,1129.2 672.5,1130.9 673.1,1132.1 673.6,1137.9 674.2,1138.3 674.7,1136.6 675.3,1134.3 675.8,1138.0 676.4,1133.2 676.9,1139.1 677.5,1132.2 678.0,1145.5 678.6,1134.7 679.1,1140.4 679.7,1136.3 680.2,1141.6 680.8,1135.2 681.3,1141.9 681.9,1141.5 682.4,1144.4 683.0,1145.0 683.5,1134.2 684.1,1144.5 684.6,1145.2 685.2,1138.0 685.7,1137.2 686.3,1145.1 686.8,1138.9 687.4,1136.8 687.9,1135.3 688.5,1139.7 689.0,1140.8 689.6,1147.9 690.1,1143.6 690.7,1147.4 691.2,1141.8 691.8,1140.3 692.3,1143.7 692.9,1143.8 693.4,1140.5 694.0,1142.2 694.5,1142.7 695.1,1145.1 695.6,1142.7 696.2,1143.3 696.7,1139.8 697.3,1139.4 697.8,1143.7 698.4,1140.7 698.9,1142.5 699.5,1137.2 700.0,1141.6 700.6,1137.8 701.1,1129.9 701.7,1123.5 702.2,1108.5 702.8,1091.6 703.3,1067.4 703.9,1042.3 704.4,1017.6 705.0,1000.0 705.5,992.1 706.1,995.0 706.6,1006.8 707.2,1024.7 707.7,1047.0 708.3,1070.1 708.8,1090.2 709.4,1107.6 709.9,1119.8 710.5,1129.9 711.0,1134.1 711.6,1136.3 712.1,1141.1 712.7,1139.8 713.2,1141.3 713.8,1145.0 714.3,1143.5 714.9,1141.4 715.4,1138.0 716.0,1139.9 716.5,1141.8 717.1,1139.7 717.6,1143.0 718.2,1136.6 718.7,1145.5 719.3,1141.2 719.8,1143.0 720.4,1142.0 720.9,1144.3 721.5,1140.0 722.0,1143.3 722.6,1138.5 723.1,1144.3 723.7,1139.1 724.2,1137.9 724.8,1131.9 725.3,1120.0 725.9,1106.5 726.4,1081.8 727.0,1051.2 727.5,1016.8 728.1,983.4 728.6,957.6 729.2,946.0 729.7,949.1 730.3,964.3 730.8,988.0 731.4,1016.6 731.9,1045.6 732.5,1073.8 733.0,1095.8 733.6,1113.2 734.1,1123.2 734.7,1132.1 735.2,1137.6 735.8,1141.5 736.3,1140.3 736.9,1138.5 737.4,1145.0 738.0,1140.5 738.5,1141.8 739.1,1147.2 739.6,1146.4 740.2,1144.4 740.7,1142.2 741.3,1143.1 741.8,1145.7 742.4,1141.1 742.9,1146.5 743.5,1145.6 744.0,1145.1 744.6,1143.7 745.1,1150.0 745.7,1145.4 746.2,1141.5 746.8,1142.3 747.3,1144.4 747.9,1147.2 748.4,1143.0 749.0,1146.3 749.5,1143.1 750.1,1139.6 750.6,1144.5 751.2,1146.9 751.7,1148.8 752.3,1142.0 752.8,1139.0 753.4,1148.8 753.9,1141.4 754.5,1145.3 755.0,1148.2 755.6,1145.4 756.1,1148.6 756.7,1142.3 757.2,1145.2 757.8,1148.1 758.3,1145.2 758.9,1141.2 759.4,1148.7 760.0,1144.4 760.5,1148.0 761.1,1147.8 761.6,1144.0 762.2,1148.8 762.7,1146.9 763.3,1151.9 763.8,1138.1 764.4,1142.9 764.9,1148.8 765.5,1142.5 766.0,1150.0 766.6,1139.7 767.1,1142.4 767.7,1142.9 768.2,1142.3 768.8,1141.8 769.3,1137.1 769.9,1134.9 770.4,1140.1 771.0,1142.4 771.5,1139.7 772.1,1136.7 772.6,1136.0 773.2,1135.0 773.7,1127.7 774.3,1133.2 774.8,1128.0 775.4,1132.0 775.9,1125.1 776.5,1130.4 777.0,1124.5 777.6,1127.2 778.1,1127.2 778.7,1125.8 779.2,1131.6 779.8,1130.1 780.3,1132.4 780.9,1135.0 781.4,1136.3 782.0,1136.1 782.5,1135.2 783.1,1133.2 783.6,1142.4 784.2,1134.1 784.7,1136.0 785.3,1141.5 785.8,1144.9 786.4,1139.1 786.9,1144.5 787.5,1141.2 788.0,1145.1 788.6,1148.3 789.1,1147.8 789.7,1145.3 790.2,1146.3 790.8,1149.0 791.3,1145.3 791.9,1143.4 792.4,1143.0 793.0,1139.3 793.5,1150.0 794.1,1141.5 794.6,1150.4 795.2,1143.2 795.7,1138.7 796.3,1144.2 796.8,1145.7 797.4,1148.6 797.9,1148.1 798.5,1145.7 799.0,1142.9 799.6,1147.0 800.1,1144.1 800.7,1143.8 801.2,1147.4 801.8,1149.7 802.3,1155.3 802.9,1145.1 803.4,1144.2 804.0,1143.1 804.5,1143.2 805.1,1146.5 805.6,1149.5 806.2,1147.1 806.7,1152.9 807.3,1152.6 807.8,1144.6 808.4,1144.6 808.9,1146.1 809.5,1148.8 810.0,1145.8 810.6,1144.5 811.1,1148.4 811.7,1153.1 812.2,1150.7 812.8,1146.0 813.3,1147.6 813.9,1149.2 814.4,1142.7 815.0,1146.3 815.5,1151.1 816.1,1151.7 816.6,1146.7 817.2,1147.2 817.7,1147.9 818.3,1143.7 818.8,1156.6 819.4,1148.9 819.9,1149.2 820.5,1156.2 821.0,1149.2 821.6,1152.9 822.1,1149.3 822.7,1143.3 823.2,1146.4 823.8,1153.7 824.3,1148.2 824.9,1149.6 825.4,1144.6 826.0,1147.7 826.5,1147.4 827.1,1150.4 827.6,1148.9 828.2,1145.4 828.7,1149.5 829.3,1145.6 829.8,1146.8 830.4,1145.0 830.9,1144.4 831.5,1142.8 832.0,1138.7 832.6,1136.8 833.1,1134.6 833.7,1132.1 834.2,1129.9 834.8,1128.3 835.3,1127.5 835.9,1127.5 836.4,1128.3 837.0,1129.8 837.5,1131.9 838.1,1134.0 838.6,1136.1 839.2,1139.4 839.7,1141.6 840.3,1143.8 840.8,1145.9 841.4,1146.4 841.9,1146.0 842.5,1146.5 843.0,1143.1 843.6,1145.4 844.1,1145.6 844.7,1143.5 845.2,1152.6 845.8,1145.9 846.3,1148.2 846.9,1147.8 847.4,1147.9 848.0,1150.7 848.5,1146.5 849.1,1145.7 849.6,1149.8 850.2,1146.6 850.7,1141.6 851.3,1146.7 851.8,1148.2 852.4,1145.1 852.9,1149.9 853.5,1148.7 854.0,1148.5 854.6,1142.3 855.1,1148.9 855.7,1148.0 856.2,1154.1 856.8,1146.8 857.3,1150.4 857.9,1149.4 858.4,1149.1 859.0,1150.5 859.5,1149.0 860.1,1143.0 860.6,1149.7 861.2,1150.8 861.7,1151.6 862.3,1143.8 862.8,1147.1 863.4,1153.7 863.9,1154.1 864.5,1152.2 865.0,1150.2 865.6,1143.1 866.1,1149.1 866.7,1147.8 867.2,1151.5 867.8,1150.7 868.3,1146.8 868.9,1154.1 869.4,1149.9 870.0,1144.8 870.5,1147.6 871.1,1145.0 871.6,1142.6 872.2,1149.0 872.7,1146.2 873.3,1151.1 873.8,1150.7 874.4,1154.3 874.9,1145.4 875.5,1144.2 876.0,1147.1 876.6,1154.6 877.1,1145.7 877.7,1148.1 878.2,1153.7 878.8,1151.1 879.3,1150.9 879.9,1145.5 880.4,1146.7 881.0,1148.0 881.5,1143.3 882.1,1147.8 882.6,1152.7 883.2,1143.4 883.7,1154.8 884.3,1149.3 884.8,1150.3 885.4,1150.9 885.9,1144.8 886.5,1145.0 887.0,1148.8 887.6,1149.5 888.1,1145.4 888.7,1148.7 889.2,1152.3 889.8,1142.9 890.3,1152.0 890.9,1154.9 891.4,1150.0 892.0,1147.2 892.5,1153.8 893.1,1151.4 893.6,1149.6 894.2,1153.4 894.7,1153.4 895.3,1144.5 895.8,1151.4 896.4,1145.7 896.9,1149.6 897.5,1145.9 898.0,1146.1 898.6,1146.8 899.1,1149.4 899.7,1150.9 900.2,1149.8 900.8,1147.9 901.3,1152.5 901.9,1151.2 902.4,1149.3 903.0,1155.6 903.5,1150.1 904.1,1147.3 904.6,1153.6 905.2,1148.7 905.7,1143.8 906.3,1147.1 906.8,1151.7 907.4,1150.7 907.9,1157.0 908.5,1144.4 909.0,1153.6 909.6,1141.8 910.1,1145.2 910.7,1157.1 911.2,1153.0 911.8,1146.4 912.3,1146.0 912.9,1147.9 913.4,1145.8 914.0,1150.3 914.5,1148.5 915.1,1142.8 915.6,1147.0 916.2,1144.2 916.7,1151.0 917.3,1148.1 917.8,1145.5 918.4,1146.4 918.9,1141.7 919.5,1151.5 920.0,1151.3 920.6,1146.9 921.1,1149.0 921.7,1144.9 922.2,1146.8 922.8,1147.8 923.3,1147.6 923.9,1152.4 924.4,1151.7 925.0,1145.6 925.5,1141.8 926.1,1150.6 926.6,1155.7 927.2,1147.2 927.7,1148.2 928.3,1145.5 928.8,1153.7 929.4,1146.1 929.9,1146.9 930.5,1146.1 931.0,1148.3 931.6,1141.5 932.1,1150.0 932.7,1153.0 933.2,1147.2 933.8,1148.0 934.3,1146.8 934.9,1147.9 935.4,1146.4 936.0,1148.4 936.5,1157.1 937.1,1148.8 937.6,1153.6 938.2,1157.1 938.7,1152.7 939.3,1150.9 939.8,1149.3 940.4,1148.3 940.9,1148.1 941.5,1147.9 942.0,1147.4 942.6,1150.8 943.1,1148.5 943.7,1144.6 944.2,1144.3 944.8,1148.5 945.3,1147.0 945.9,1152.6 946.4,1148.2 947.0,1150.1 947.5,1143.6 948.1,1148.1 948.6,1148.2 949.2,1145.8 949.7,1146.9 950.3,1142.3 950.8,1146.9 951.4,1141.4 951.9,1142.1 952.5,1150.8 953.0,1155.6 953.6,1146.7 954.1,1144.3 954.7,1148.5 955.2,1148.7 955.8,1154.0 956.3,1141.2 956.9,1147.3 957.4,1151.5 958.0,1142.4 958.5,1149.5 959.1,1152.9 959.6,1152.2 960.2,1151.6 960.7,1148.1 961.3,1145.8 961.8,1145.8 962.4,1146.0 962.9,1148.5 963.5,1142.2 964.0,1144.2 964.6,1142.0 965.1,1136.0 965.7,1131.6 966.2,1127.9 966.8,1120.1 967.3,1113.4 967.9,1107.8 968.4,1103.2 969.0,1100.5 969.5,1100.0 970.1,1101.5 970.6,1104.6 971.2,1108.7 971.7,1113.5 972.3,1118.5 972.8,1124.4 973.4,1130.6 973.9,1135.3 974.5,1139.0 975.0,1142.0 975.6,1144.7 976.1,1145.4 976.7,1143.5 977.2,1147.4 977.8,1144.0 978.3,1144.9 978.9,1149.8 979.4,1141.8 980.0,1153.3 980.5,1148.5 981.1,1143.9 981.6,1147.3 982.2,1146.2 982.7,1149.5 983.3,1153.9 983.8,1150.0 984.4,1147.9 984.9,1148.6 985.5,1153.6 986.0,1147.4 986.6,1149.3 987.1,1153.2 987.7,1145.0 988.2,1150.4 988.8,1153.7 989.3,1155.3 989.9,1147.6 990.4,1144.9 991.0,1147.6 991.5,1146.1 992.1,1152.7 992.6,1147.6 993.2,1146.3 993.7,1149.9 994.3,1146.9 994.8,1147.3 995.4,1148.6 995.9,1148.5 996.5,1147.3 997.0,1147.8 997.6,1146.4 998.1,1139.5 998.7,1148.6 999.2,1139.5 999.8,1153.6 1000.3,1141.5 1000.9,1148.8 1001.4,1146.4 1002.0,1147.4 1002.5,1147.6 1003.1,1147.7 1003.6,1147.1 1004.2,1149.1 1004.7,1146.6 1005.3,1149.8 1005.8,1145.3 1006.4,1148.9 1006.9,1146.3 1007.5,1149.2 1008.0,1147.3 1008.6,1146.8 1009.1,1148.5 1009.7,1150.4 1010.2,1147.0 1010.8,1155.6 1011.3,1152.7 1011.9,1142.6 1012.4,1143.8 1013.0,1150.4 1013.5,1148.8 1014.1,1145.6 1014.6,1143.1 1015.2,1154.1 1015.7,1152.6 1016.3,1147.9 1016.8,1145.9 1017.4,1152.6 1017.9,1153.5 1018.5,1156.7 1019.0,1147.3 1019.6,1149.0 1020.1,1146.8 1020.7,1151.6 1021.2,1142.0 1021.8,1150.2 1022.3,1157.0 1022.9,1148.8 1023.4,1147.2 1024.0,1147.7 1024.5,1144.4 1025.1,1144.6 1025.6,1148.9 1026.2,1151.4 1026.7,1147.0 1027.3,1147.5 1027.8,1149.7 1028.4,1145.7 1028.9,1139.6 1029.5,1148.9 1030.0,1148.6 1030.6,1145.6 1031.1,1145.9 1031.7,1151.4 1032.2,1151.9 1032.8,1153.1 1033.3,1141.6 1033.9,1147.8 1034.4,1155.0 1035.0,1150.4 1035.5,1143.0 1036.1,1144.9 1036.6,1151.2 1037.2,1151.4 1037.7,1146.5 1038.3,1147.2 1038.8,1141.8 1039.4,1155.5 1039.9,1148.5 1040.5,1150.9 1041.0,1150.1 1041.6,1144.9 1042.1,1156.8 1042.7,1150.3 1043.2,1152.2 1043.8,1152.3 1044.3,1152.5 1044.9,1150.9 1045.4,1150.6 1046.0,1148.3 1046.5,1152.0 1047.1,1147.1 1047.6,1150.4 1048.2,1145.0 1048.7,1147.4 1049.3,1150.3 1049.8,1149.3 1050.4,1142.8 1050.9,1146.0 1051.5,1150.1 1052.0,1148.2 1052.6,1151.6 1053.1,1148.9 1053.7,1148.3 1054.2,1145.7 1054.8,1145.9 1055.3,1148.2 1055.9,1144.7 1056.4,1146.8 1057.0,1156.2 1057.5,1144.1 1058.1,1149.0 1058.6,1145.4 1059.2,1151.5 1059.7,1144.7 1060.3,1144.2 1060.8,1146.1 1061.4,1145.8 1061.9,1150.5 1062.5,1147.5 1063.0,1146.5 1063.6,1145.1 1064.1,1142.0 1064.7,1149.4 1065.2,1146.3 1065.8,1145.7 1066.3,1147.3 1066.9,1145.2 1067.4,1142.2 1068.0,1133.7 1068.5,1122.2 1069.1,1103.7 1069.6,1080.2 1070.2,1046.4 1070.7,1007.4 1071.3,967.9 1071.8,935.8 1072.4,917.6 1072.9,915.5 1073.5,926.3 1074.0,943.9 1074.6,964.1 1075.1,985.1 1075.7,1008.1 1076.2,1033.8 1076.8,1058.1 1077.3,1083.9 1077.9,1103.2 1078.4,1119.6 1079.0,1129.2 1079.5,1136.1 1080.1,1141.2 1080.6,1142.0 1081.2,1144.3 1081.7,1144.7 1082.3,1147.3 1082.8,1144.1 1083.4,1150.9 1083.9,1144.7 1084.5,1138.3 1085.0,1145.1 1085.6,1143.2 1086.1,1147.8 1086.7,1151.3 1087.2,1151.9 1087.8,1148.6 1088.3,1152.7 1088.9,1143.6 1089.4,1145.8 1090.0,1146.6 1090.5,1147.3 1091.1,1141.6 1091.6,1141.9 1092.2,1148.9 1092.7,1147.3 1093.3,1151.1 1093.8,1142.8 1094.4,1148.4 1094.9,1144.1 1095.5,1148.2 1096.0,1148.7 1096.6,1143.8 1097.1,1150.9 1097.7,1149.0 1098.2,1149.3 1098.8,1149.6 1099.3,1147.8 1099.9,1152.1 1100.4,1145.6 1101.0,1150.4 1101.5,1145.7 1102.1,1148.3 1102.6,1146.3 1103.2,1151.5 1103.7,1143.2 1104.3,1143.6 1104.8,1146.1 1105.4,1147.9 1105.9,1151.4 1106.5,1151.6 1107.0,1149.5 1107.6,1150.5 1108.1,1150.6 1108.7,1147.5 1109.2,1149.9 1109.8,1145.7 1110.3,1144.0 1110.9,1144.0 1111.4,1147.1 1112.0,1144.8 1112.5,1145.0 1113.1,1147.4 1113.6,1144.3 1114.2,1148.1 1114.7,1152.1 1115.3,1145.8 1115.8,1148.1 1116.4,1143.5 1116.9,1150.8 1117.5,1142.9 1118.0,1142.2 1118.6,1143.7 1119.1,1143.2 1119.7,1148.4 1120.2,1138.3 1120.8,1149.0 1121.3,1146.3 1121.9,1149.3 1122.4,1144.7 1123.0,1144.8 1123.5,1148.5 1124.1,1146.2 1124.6,1148.9 1125.2,1144.1 1125.7,1148.2 1126.3,1146.4 1126.8,1145.0 1127.4,1145.5 1127.9,1145.1 1128.5,1146.9 1129.0,1144.8 1129.6,1143.7 1130.1,1140.1 1130.7,1143.1 1131.2,1140.2 1131.8,1139.7 1132.3,1144.8 1132.9,1140.0 1133.4,1140.4 1134.0,1144.9 1134.5,1144.0 1135.1,1137.2 1135.6,1141.4 1136.2,1139.0 1136.7,1142.6 1137.3,1137.9 1137.8,1141.2 1138.4,1143.6 1138.9,1145.8 1139.5,1139.4 1140.0,1136.6 1140.6,1141.9 1141.1,1142.9 1141.7,1137.3 1142.2,1140.7 1142.8,1143.4 1143.3,1140.9 1143.9,1140.1 1144.4,1139.2 1145.0,1134.1 1145.5,1132.5 1146.1,1130.2 1146.6,1132.6 1147.2,1125.0 1147.7,1125.3 1148.3,1119.9 1148.8,1115.3 1149.4,1111.0 1149.9,1106.2 1150.5,1101.8 1151.0,1096.8 1151.6,1092.5 1152.1,1088.9 1152.7,1086.2 1153.2,1084.3 1153.8,1083.1 1154.3,1082.6 1154.9,1082.2 1155.4,1082.5 1156.0,1083.3 1156.5,1083.5 1157.1,1084.1 1157.6,1084.1 1158.2,1084.5 1158.7,1083.5 1159.3,1083.2 1159.8,1083.0 1160.4,1082.9 1160.9,1076.3 1161.5,1080.7 1162.0,1072.8 1162.6,1078.2 1163.1,1073.5 1163.7,1070.4 1164.2,1072.6 1164.8,1065.7 1165.3,1071.8 1165.9,1070.7 1166.4,1074.4 1167.0,1073.4 1167.5,1075.0 1168.1,1075.1 1168.6,1082.8 1169.2,1084.2 1169.7,1081.6 1170.3,1088.2 1170.8,1088.8 1171.4,1094.6 1171.9,1099.3 1172.5,1098.0 1173.0,1097.6 1173.6,1101.4 1174.1,1104.6 1174.7,1110.0 1175.2,1104.7 1175.8,1116.2 1176.3,1107.9 1176.9,1114.0 1177.4,1122.4 1178.0,1126.7 1178.5,1119.6 1179.1,1129.3 1179.6,1126.1 1180.2,1123.9 1180.7,1128.9 1181.3,1129.0 1181.8,1128.1 1182.4,1135.0 1182.9,1129.4 1183.5,1136.9 1184.0,1132.0 1184.6,1132.8 1185.1,1137.2 1185.7,1133.6 1186.2,1137.0 1186.8,1133.8 1187.3,1140.4 1187.9,1140.2 1188.4,1138.4 1189.0,1139.4 1189.5,1144.2 1190.1,1137.4 1190.6,1144.5 1191.2,1143.6 1191.7,1146.7 1192.3,1144.7 1192.8,1138.4 1193.4,1145.7 1193.9,1142.3 1194.5,1144.0 1195.0,1143.0 1195.6,1137.8 1196.1,1139.9 1196.7,1146.6 1197.2,1146.1 1197.8,1150.2 1198.3,1143.4 1198.9,1143.2 1199.4,1140.2 1200.0,1150.8 1200.5,1144.5 1201.1,1149.3 1201.6,1141.0 1202.2,1151.5 1202.7,1147.3 1203.3,1146.6 1203.8,1146.6 1204.4,1144.6 1204.9,1143.6 1205.5,1142.2 1206.0,1150.7 1206.6,1147.9 1207.1,1148.0 1207.7,1149.0 1208.2,1149.3 1208.8,1148.4 1209.3,1144.5 1209.9,1152.2 1210.4,1151.1 1211.0,1148.1 1211.5,1141.2 1212.1,1147.9 1212.6,1148.8 1213.2,1142.6 1213.7,1146.2 1214.3,1148.9 1214.8,1142.6 1215.4,1148.4 1215.9,1150.4 1216.5,1148.8 1217.0,1141.0 1217.6,1150.9 1218.1,1142.6 1218.7,1144.2 1219.2,1150.3 1219.8,1147.9 1220.3,1146.5 1220.9,1144.3 1221.4,1146.2 1222.0,1143.2 1222.5,1147.1 1223.1,1148.1 1223.6,1145.9 1224.2,1147.7 1224.7,1145.8 1225.3,1146.2 1225.8,1148.8 1226.4,1144.4 1226.9,1148.7 1227.5,1148.0 1228.0,1156.2 1228.6,1147.4 1229.1,1148.7 1229.7,1144.3 1230.2,1156.2 1230.8,1148.1 1231.3,1144.6 1231.9,1148.6 1232.4,1148.6 1233.0,1147.7 1233.5,1145.1 1234.1,1147.5 1234.6,1153.0 1235.2,1144.8 1235.7,1152.8 1236.3,1148.0 1236.8,1144.4 1237.4,1150.0 1237.9,1153.2 1238.5,1147.2 1239.0,1146.8 1239.6,1152.7 1240.1,1153.3 1240.7,1147.6 1241.2,1147.8 1241.8,1140.3 1242.3,1148.6 1242.9,1140.7 1243.4,1142.2 1244.0,1145.7 1244.5,1146.1 1245.1,1146.5 1245.6,1144.6 1246.2,1149.2 1246.7,1148.1 1247.3,1146.4 1247.8,1145.4 1248.4,1147.1 1248.9,1149.0 1249.5,1146.9 1250.0,1148.8 1250.6,1149.7 1251.1,1153.8 1251.7,1148.7 1252.2,1143.0 1252.8,1145.7 1253.3,1151.8 1253.9,1139.7 1254.4,1140.0 1255.0,1146.2 1255.5,1151.5 1256.1,1151.3 1256.6,1153.2 1257.2,1144.9 1257.7,1150.4 1258.3,1149.5 1258.8,1152.3 1259.4,1149.7 1259.9,1151.6 1260.5,1152.9 1261.0,1151.9 1261.6,1144.0 1262.1,1147.2 1262.7,1145.9 1263.2,1147.6 1263.8,1147.7 1264.3,1153.0 1264.9,1150.0 1265.4,1144.3 1266.0,1151.2 1266.5,1151.5 1267.1,1141.5 1267.6,1153.4 1268.2,1151.5 1268.7,1147.0 1269.3,1148.4 1269.8,1144.5 1270.4,1150.3 1270.9,1149.9 1271.5,1150.5 1272.0,1146.9 1272.6,1145.8 1273.1,1154.3 1273.7,1154.8 1274.2,1142.8 1274.8,1143.9 1275.3,1150.7 1275.9,1149.9 1276.4,1153.4 1277.0,1147.6 1277.5,1146.6 1278.1,1145.0 1278.6,1151.5 1279.2,1150.3 1279.7,1146.2 1280.3,1150.1 1280.8,1143.7 1281.4,1142.6 1281.9,1150.1 1282.5,1152.0 1283.0,1149.5 1283.6,1147.4 1284.1,1150.4 1284.7,1139.7 1285.2,1148.9 1285.8,1141.9 1286.3,1148.9 1286.9,1150.8 1287.4,1152.1 1288.0,1151.6 1288.5,1152.9 1289.1,1150.6 1289.6,1150.9 1290.2,1146.6 1290.7,1151.9 1291.3,1150.2 1291.8,1148.7 1292.4,1146.4 1292.9,1145.8 1293.5,1144.9 1294.0,1148.4 1294.6,1150.9 1295.1,1147.9 1295.7,1151.8 1296.2,1145.7 1296.8,1154.3 1297.3,1148.3 1297.9,1147.5 1298.4,1146.9 1299.0,1145.6 1299.5,1145.8 1300.1,1144.5 1300.6,1144.5 1301.2,1142.6 1301.7,1138.1 1302.3,1133.1 1302.8,1130.4 1303.4,1123.6 1303.9,1117.7 1304.5,1112.3 1305.0,1108.3 1305.6,1105.9 1306.1,1105.6 1306.7,1106.8 1307.2,1109.1 1307.8,1112.1 1308.3,1114.9 1308.9,1118.3 1309.4,1121.5 1310.0,1125.3 1310.5,1128.5 1311.1,1132.9 1311.6,1138.0 1312.2,1139.4 1312.7,1140.0 1313.3,1146.5 1313.8,1145.0 1314.4,1148.9 1314.9,1147.0 1315.5,1149.1 1316.0,1148.2 1316.6,1150.2 1317.1,1147.4 1317.7,1151.9 1318.2,1151.2 1318.8,1145.3 1319.3,1145.3 1319.9,1145.9 1320.4,1150.8 1321.0,1148.5 1321.5,1150.1 1322.1,1144.1 1322.6,1149.9 1323.2,1143.4 1323.7,1148.5 1324.3,1144.5 1324.8,1144.0 1325.4,1146.6 1325.9,1150.2 1326.5,1144.4 1327.0,1145.1 1327.6,1148.7 1328.1,1144.6 1328.7,1143.7 1329.2,1139.8 1329.8,1135.8 1330.3,1126.2 1330.9,1114.3 1331.4,1099.9 1332.0,1084.0 1332.5,1069.7 1333.1,1060.0 1333.6,1056.2 1334.2,1058.4 1334.7,1064.6 1335.3,1072.3 1335.8,1079.1 1336.4,1085.1 1336.9,1090.2 1337.5,1095.3 1338.0,1102.3 1338.6,1111.1 1339.1,1117.1 1339.7,1125.6 1340.2,1135.2 1340.8,1136.8 1341.3,1143.0 1341.9,1143.0 1342.4,1144.0 1343.0,1144.4 1343.5,1142.2 1344.1,1139.6 1344.6,1139.9 1345.2,1138.1 1345.7,1128.5 1346.3,1117.5 1346.8,1097.5 1347.4,1075.9 1347.9,1048.9 1348.5,1023.3 1349.0,1002.7 1349.6,993.4 1350.1,996.1 1350.7,1007.4 1351.2,1021.9 1351.8,1035.0 1352.3,1044.4 1352.9,1051.6 1353.4,1059.1 1354.0,1069.7 1354.5,1081.5 1355.1,1096.3 1355.6,1111.9 1356.2,1121.8 1356.7,1132.3 1357.3,1138.3 1357.8,1142.5 1358.4,1142.0 1358.9,1137.7 1359.5,1145.7 1360.0,1142.5 1360.6,1147.4 1361.1,1147.1 1361.7,1140.8 1362.2,1142.9 1362.8,1143.6 1363.3,1147.3 1363.9,1146.0 1364.4,1144.7 1365.0,1140.0 1365.5,1147.5 1366.1,1148.0 1366.6,1143.8 1367.2,1150.3 1367.7,1150.8 1368.3,1140.0 1368.8,1148.3 1369.4,1145.5 1369.9,1145.7 1370.5,1136.0 1371.0,1144.1 1371.6,1143.9 1372.1,1136.8 1372.7,1141.7 1373.2,1140.7 1373.8,1140.4 1374.3,1137.7 1374.9,1144.1 1375.4,1140.6 1376.0,1139.6 1376.5,1142.8 1377.1,1137.0 1377.6,1140.4 1378.2,1147.5 1378.7,1135.3 1379.3,1137.3 1379.8,1138.6 1380.4,1136.8 1380.9,1129.5 1381.5,1134.0 1382.0,1129.3 1382.6,1133.6 1383.1,1132.1 1383.7,1129.0 1384.2,1131.9 1384.8,1130.8 1385.3,1122.9 1385.9,1121.8 1386.4,1122.4 1387.0,1124.5 1387.5,1123.7 1388.1,1122.5 1388.6,1117.9 1389.2,1111.2 1389.7,1114.9 1390.3,1113.1 1390.8,1103.3 1391.4,1103.0 1391.9,1105.6 1392.5,1111.5 1393.0,1104.6 1393.6,1105.1 1394.1,1098.9 1394.7,1093.3 1395.2,1104.3 1395.8,1096.1 1396.3,1101.7 1396.9,1095.5 1397.4,1104.1 1398.0,1097.6 1398.5,1096.6 1399.1,1095.5 1399.6,1104.2 1400.2,1101.0 1400.7,1103.8 1401.3,1104.4 1401.8,1104.0 1402.4,1108.2 1402.9,1104.6 1403.5,1112.9 1404.0,1106.1 1404.6,1115.2 1405.1,1123.1 1405.7,1114.8 1406.2,1121.1 1406.8,1124.4 1407.3,1114.1 1407.9,1123.7 1408.4,1127.0 1409.0,1125.9 1409.5,1129.3 1410.1,1127.7 1410.6,1133.2 1411.2,1130.3 1411.7,1137.3 1412.3,1130.5 1412.8,1137.3 1413.4,1139.9 1413.9,1134.8 1414.5,1138.0 1415.0,1137.8 1415.6,1147.5 1416.1,1136.8 1416.7,1148.8 1417.2,1140.0 1417.8,1137.1 1418.3,1138.3 1418.9,1141.0 1419.4,1148.7 1420.0,1139.5 1420.5,1144.8 1421.1,1143.1 1421.6,1142.9 1422.2,1143.1 1422.7,1147.4 1423.3,1142.3 1423.8,1141.1 1424.4,1149.8 1424.9,1143.4 1425.5,1148.7 1426.0,1154.0 1426.6,1148.2 1427.1,1150.3 1427.7,1147.9 1428.2,1145.0 1428.8,1144.1 1429.3,1141.2 1429.9,1151.8 1430.4,1146.1 1431.0,1148.7 1431.5,1146.4 1432.1,1146.1 1432.6,1148.3 1433.2,1146.8 1433.7,1146.7 1434.3,1150.6 1434.8,1140.1 1435.4,1153.2 1435.9,1147.4 1436.5,1147.4 1437.0,1143.4 1437.6,1143.3 1438.1,1151.5 1438.7,1148.5 1439.2,1146.8 1439.8,1145.8 1440.3,1148.1 1440.9,1150.2 1441.4,1149.8 1442.0,1144.5 1442.5,1149.9 1443.1,1146.1 1443.6,1147.3 1444.2,1147.3 1444.7,1142.6 1445.3,1148.1 1445.8,1148.3 1446.4,1151.1 1446.9,1150.0 1447.5,1149.6 1448.0,1147.8 1448.6,1149.4 1449.1,1149.4 1449.7,1144.5 1450.2,1143.2 1450.8,1150.1 1451.3,1153.4 1451.9,1149.0 1452.4,1148.7 1453.0,1153.4 1453.5,1148.2 1454.1,1150.9 1454.6,1144.1 1455.2,1148.3 1455.7,1152.4 1456.3,1145.9 1456.8,1147.2 1457.4,1144.1 1457.9,1152.4 1458.5,1151.5 1459.0,1147.3 1459.6,1150.9 1460.1,1147.0 1460.7,1147.3 1461.2,1150.4 1461.8,1151.1 1462.3,1148.9 1462.9,1146.1 1463.4,1145.2 1464.0,1143.7 1464.5,1149.6 1465.1,1151.1 1465.6,1142.1 1466.2,1152.0 1466.7,1149.5 1467.3,1145.0 1467.8,1149.0 1468.4,1150.3 1468.9,1148.9 1469.5,1144.5 1470.0,1144.5 1470.6,1146.0 1471.1,1145.0 1471.7,1145.9 1472.2,1143.0 1472.8,1150.0 1473.3,1141.0 1473.9,1144.4 1474.4,1137.5 1475.0,1144.2 1475.5,1145.6 1476.1,1141.8 1476.6,1144.6 1477.2,1141.6 1477.7,1144.4 1478.3,1140.4 1478.8,1139.2 1479.4,1151.6 1479.9,1147.9 1480.5,1147.1 1481.0,1141.9 1481.6,1144.4 1482.1,1141.1 1482.7,1142.0 1483.2,1144.4 1483.8,1144.7 1484.3,1139.8 1484.9,1143.6 1485.4,1140.3 1486.0,1152.4 1486.5,1155.0 1487.1,1142.6 1487.6,1144.8 1488.2,1142.5 1488.7,1139.9 1489.3,1148.3 1489.8,1151.8 1490.4,1146.9 1490.9,1147.1 1491.5,1148.8 1492.0,1148.3 1492.6,1146.5 1493.1,1145.5 1493.7,1147.5 1494.2,1149.2 1494.8,1142.9 1495.3,1145.0 1495.9,1147.4 1496.4,1147.1 1497.0,1155.1 1497.5,1149.5 1498.1,1148.2 1498.6,1156.9 1499.2,1149.6 1499.7,1153.1 1500.3,1147.7 1500.8,1144.9 1501.4,1147.3 1501.9,1151.3 1502.5,1150.4 1503.0,1151.7 1503.6,1146.0 1504.1,1146.5 1504.7,1144.3 1505.2,1144.3 1505.8,1144.4 1506.3,1148.7 1506.9,1146.7 1507.4,1141.3 1508.0,1150.5 1508.5,1147.9 1509.1,1146.5 1509.6,1147.0 1510.2,1141.8 1510.7,1142.6 1511.3,1152.2 1511.8,1150.7 1512.4,1152.5 1512.9,1143.1 1513.5,1144.0 1514.0,1150.8 1514.6,1144.0 1515.1,1147.1 1515.7,1148.4 1516.2,1147.0 1516.8,1151.7 1517.3,1154.5 1517.9,1145.4 1518.4,1147.9 1519.0,1152.9 1519.5,1146.2 1520.1,1145.7 1520.6,1153.2 1521.2,1149.5 1521.7,1150.6 1522.3,1149.5 1522.8,1146.1 1523.4,1144.3 1523.9,1153.5 1524.5,1144.5 1525.0,1145.3 1525.6,1144.8 1526.1,1140.4 1526.7,1147.6 1527.2,1149.2 1527.8,1146.2 1528.3,1147.7 1528.9,1156.3 1529.4,1147.7 1530.0,1150.3 1530.5,1141.1 1531.1,1153.4 1531.6,1150.3 1532.2,1144.1 1532.7,1146.8 1533.3,1144.8 1533.8,1148.5 1534.4,1149.4 1534.9,1147.1 1535.5,1147.3 1536.0,1144.7 1536.6,1151.3 1537.1,1142.5 1537.7,1151.1 1538.2,1146.3 1538.8,1146.1 1539.3,1146.4 1539.9,1156.1 1540.4,1153.9 1541.0,1146.0 1541.5,1144.0 1542.1,1150.6 1542.6,1149.9 1543.2,1150.1 1543.7,1148.4 1544.3,1152.6 1544.8,1151.6 1545.4,1145.2 1545.9,1144.5 1546.5,1146.9 1547.0,1149.3 1547.6,1148.7 1548.1,1146.5 1548.7,1147.8 1549.2,1144.8 1549.8,1147.8 1550.3,1146.5 1550.9,1140.9 1551.4,1139.6 1552.0,1135.3 1552.5,1131.3 1553.1,1126.4 1553.6,1121.1 1554.2,1115.7 1554.7,1111.5 1555.3,1109.6 1555.8,1109.1 1556.4,1110.5 1556.9,1113.0 1557.5,1115.8 1558.0,1118.3 1558.6,1120.3 1559.1,1122.3 1559.7,1124.0 1560.2,1126.8 1560.8,1128.7 1561.3,1131.6 1561.9,1136.0 1562.4,1136.6 1563.0,1140.1 1563.5,1143.1 1564.1,1147.3 1564.6,1145.7 1565.2,1148.5 1565.7,1152.0 1566.3,1147.5 1566.8,1145.2 1567.4,1147.6 1567.9,1145.2 1568.5,1146.3 1569.0,1144.3 1569.6,1145.7 1570.1,1145.2 1570.7,1148.2 1571.2,1148.2 1571.8,1148.4 1572.3,1147.0 1572.9,1144.8 1573.4,1145.6 1574.0,1143.5 1574.5,1143.1 1575.1,1141.3 1575.6,1139.2 1576.2,1136.3 1576.7,1133.9 1577.3,1131.6 1577.8,1129.9 1578.4,1128.2 1578.9,1127.5 1579.5,1127.4 1580.0,1127.7 1580.6,1128.4 1581.1,1129.4 1581.7,1130.5 1582.2,1131.9 1582.8,1132.7 1583.3,1134.6 1583.9,1135.8 1584.4,1136.9 1585.0,1139.5 1585.5,1142.2 1586.1,1141.8 1586.6,1142.3 1587.2,1143.5 1587.7,1145.9 1588.3,1145.9 1588.8,1148.9 1589.4,1146.8 1589.9,1145.9 1590.5,1148.0 1591.0,1147.0 1591.6,1150.5 1592.1,1148.9 1592.7,1149.1 1593.2,1153.0 1593.8,1144.8 1594.3,1149.1 1594.9,1149.3 1595.4,1147.7 1596.0,1151.8 1596.5,1143.5 1597.1,1146.7 1597.6,1146.1 1598.2,1148.9 1598.7,1147.2 1599.3,1146.2 1599.8,1148.4 1600.4,1147.3 1600.9,1148.1 1601.5,1145.6 1602.0,1146.7 1602.6,1143.8 1603.1,1145.8 1603.7,1150.0 1604.2,1153.9 1604.8,1146.3 1605.3,1143.0 1605.9,1155.5 1606.4,1146.6 1607.0,1149.6 1607.5,1148.7 1608.1,1150.7 1608.6,1148.5 1609.2,1148.1 1609.7,1157.2 1610.3,1141.0 1610.8,1147.0 1611.4,1152.6 1611.9,1145.5 1612.5,1156.7 1613.0,1157.4 1613.6,1148.1 1614.1,1152.7 1614.7,1147.6 1615.2,1151.6 1615.8,1150.8 1616.3,1147.6 1616.9,1150.5 1617.4,1145.4 1618.0,1147.4 1618.5,1150.7 1619.1,1153.4 1619.6,1147.3 1620.2,1146.6 1620.7,1148.4 1621.3,1149.0 1621.8,1148.4 1622.4,1150.0 1622.9,1149.1 1623.5,1148.3 1624.0,1146.3 1624.6,1146.7 1625.1,1148.6 1625.7,1146.7 1626.2,1147.5 1626.8,1146.1 1627.3,1145.1 1627.9,1142.4 1628.4,1143.0 1629.0,1140.6 1629.5,1136.3 1630.1,1133.7 1630.6,1132.7 1631.2,1130.9 1631.7,1129.6 1632.3,1128.7 1632.8,1128.4 1633.4,1128.7 1633.9,1129.4 1634.5,1130.3 1635.0,1131.3 1635.6,1132.7 1636.1,1133.6 1636.7,1134.7 1637.2,1135.3 1637.8,1136.9 1638.3,1139.6 1638.9,1139.9 1639.4,1142.4 1640.0,1142.0 1640.5,1144.3 1641.1,1145.8 1641.6,1146.9 1642.2,1145.3 1642.7,1150.9 1643.3,1146.3 1643.8,1144.5 1644.4,1149.0 1644.9,1150.6 1645.5,1148.4 1646.0,1144.0 1646.6,1145.7 1647.1,1147.4 1647.7,1148.9 1648.2,1146.8 1648.8,1149.3 1649.3,1145.8 1649.9,1150.4 1650.4,1145.0 1651.0,1145.7 1651.5,1144.7 1652.1,1143.6 1652.6,1143.6 1653.2,1140.1 1653.7,1138.1 1654.3,1136.1 1654.8,1135.6 1655.4,1134.0 1655.9,1133.4 1656.5,1133.5 1657.0,1134.0 1657.6,1134.9 1658.1,1135.9 1658.7,1136.8 1659.2,1137.9 1659.8,1138.5 1660.3,1138.8 1660.9,1140.0 1661.4,1140.3 1662.0,1141.8 1662.5,1142.0 1663.1,1143.6 1663.6,1148.2 1664.2,1145.7 1664.7,1148.2 1665.3,1149.7 1665.8,1147.9 1666.4,1153.6 1666.9,1153.4 1667.5,1145.3 1668.0,1152.4 1668.6,1144.9 1669.1,1147.8 1669.7,1150.6 1670.2,1146.1 1670.8,1147.2 1671.3,1148.9 1671.9,1150.8 1672.4,1150.9 1673.0,1147.5 1673.5,1149.7 1674.1,1147.8 1674.6,1151.7 1675.2,1145.8 1675.7,1147.8 1676.3,1147.8 1676.8,1149.5 1677.4,1151.7 1677.9,1150.3 1678.5,1150.3 1679.0,1148.5 1679.6,1150.3 1680.1,1144.7 1680.7,1148.8 1681.2,1153.4 1681.8,1147.3 1682.3,1145.9 1682.9,1146.8 1683.4,1148.7 1684.0,1150.7 1684.5,1152.5 1685.1,1150.7 1685.6,1152.9 1686.2,1153.6 1686.7,1151.4 1687.3,1146.8 1687.8,1152.4 1688.4,1152.7 1688.9,1150.6 1689.5,1155.3 1690.0,1150.0 1690.6,1151.9 1691.1,1147.2 1691.7,1149.6 1692.2,1150.1 1692.8,1148.4 1693.3,1152.9 1693.9,1148.7 1694.4,1151.3 1695.0,1151.6 1695.5,1150.0 1696.1,1147.5 1696.6,1149.6 1697.2,1152.2 1697.7,1144.8 1698.3,1144.1 1698.8,1147.7 1699.4,1150.2 1699.9,1150.8 1700.5,1152.4 1701.0,1146.7 1701.6,1152.5 1702.1,1152.1 1702.7,1140.7 1703.2,1146.1 1703.8,1150.3 1704.3,1147.8 1704.9,1155.6 1705.4,1140.7 1706.0,1147.8 1706.5,1150.9 1707.1,1150.6 1707.6,1145.8 1708.2,1153.1 1708.7,1146.9 1709.3,1151.5 1709.8,1150.3 1710.4,1149.8 1710.9,1146.3 1711.5,1151.3 1712.0,1144.8 1712.6,1149.6 1713.1,1149.2 1713.7,1149.4 1714.2,1149.0 1714.8,1153.7 1715.3,1147.3 1715.9,1154.2 1716.4,1146.4 1717.0,1144.5 1717.5,1150.6 1718.1,1148.8 1718.6,1149.9 1719.2,1152.0 1719.7,1151.5 1720.3,1146.7 1720.8,1153.0 1721.4,1156.3 1721.9,1151.5 1722.5,1141.9 1723.0,1149.2 1723.6,1148.3 1724.1,1151.3 1724.7,1146.7 1725.2,1149.0 1725.8,1149.8 1726.3,1147.4 1726.9,1150.2 1727.4,1147.9 1728.0,1151.5 1728.5,1151.5 1729.1,1152.1 1729.6,1145.7 1730.2,1145.3 1730.7,1142.0 1731.3,1153.5 1731.8,1151.8 1732.4,1154.9 1732.9,1153.6 1733.5,1147.3 1734.0,1147.5 1734.6,1149.5 1735.1,1144.9 1735.7,1148.5 1736.2,1144.1 1736.8,1143.4 1737.3,1146.1 1737.9,1151.0 1738.4,1155.3 1739.0,1147.3 1739.5,1143.9 1740.1,1141.5 1740.6,1147.9 1741.2,1150.9 1741.7,1140.9 1742.3,1148.4 1742.8,1150.3 1743.4,1145.8 1743.9,1146.3 1744.5,1144.9 1745.0,1143.5 1745.6,1147.9 1746.1,1147.4 1746.7,1147.3 1747.2,1144.9 1747.8,1145.5 1748.3,1140.8 1748.9,1146.8 1749.4,1147.9 1750.0,1148.7 1750.5,1144.6 1751.1,1139.2 1751.6,1142.5 1752.2,1147.9 1752.7,1146.5 1753.3,1146.7 1753.8,1148.4 1754.4,1146.6 1754.9,1149.2 1755.5,1140.7 1756.0,1142.1 1756.6,1149.6 1757.1,1150.5 1757.7,1149.0 1758.2,1148.8 1758.8,1146.6 1759.3,1145.0 1759.9,1146.1 1760.4,1150.3 1761.0,1149.5 1761.5,1142.5 1762.1,1149.3 1762.6,1141.3 1763.2,1146.2 1763.7,1153.8 1764.3,1152.9 1764.8,1148.2 1765.4,1148.9 1765.9,1150.1 1766.5,1151.2 1767.0,1146.8 1767.6,1149.2 1768.1,1147.6 1768.7,1148.3 1769.2,1142.7 1769.8,1147.2 1770.3,1146.2 1770.9,1148.6 1771.4,1148.4 1772.0,1153.2 1772.5,1148.3 1773.1,1145.8 1773.6,1145.3 1774.2,1153.0 1774.7,1154.1 1775.3,1150.0 1775.8,1149.2 1776.4,1148.1 1776.9,1152.8 1777.5,1145.2 1778.0,1150.2 1778.6,1148.2 1779.1,1149.6 1779.7,1151.1 1780.2,1150.1 1780.8,1150.5 1781.3,1146.2 1781.9,1146.8 1782.4,1149.5 1783.0,1157.6 1783.5,1145.5 1784.1,1150.2 1784.6,1148.5 1785.2,1146.0 1785.7,1142.2 1786.3,1149.7 1786.8,1154.4 1787.4,1144.0 1787.9,1144.4 1788.5,1155.2 1789.0,1149.3 1789.6,1152.6 1790.1,1153.3 1790.7,1148.5 1791.2,1149.4 1791.8,1147.3 1792.3,1143.5 1792.9,1151.5 1793.4,1148.4 1794.0,1157.6 1794.5,1144.7 1795.1,1152.1 1795.6,1149.6 1796.2,1151.8 1796.7,1146.6 1797.3,1150.3 1797.8,1155.0 1798.4,1146.2 1798.9,1157.0 1799.5,1153.2 1800.0,1147.8 1800.6,1149.9 1801.1,1145.7 1801.7,1150.2 1802.2,1146.0 1802.8,1149.8 1803.3,1152.0 1803.9,1151.9 1804.4,1149.2 1805.0,1148.3 1805.5,1148.4 1806.1,1146.7 1806.6,1149.9 1807.2,1149.5 1807.7,1153.2 1808.3,1150.2 1808.8,1147.7 1809.4,1153.4 1809.9,1151.4 1810.5,1149.9 1811.0,1142.9 1811.6,1146.4 1812.1,1145.5 1812.7,1144.8 1813.2,1141.2 1813.8,1140.7 1814.3,1135.3 1814.9,1131.8 1815.4,1128.7 1816.0,1125.4 1816.5,1122.6 1817.1,1120.3 1817.6,1118.7 1818.2,1118.1 1818.7,1118.3 1819.3,1119.2 1819.8,1120.6 1820.4,1122.3 1820.9,1123.9 1821.5,1125.5 1822.0,1127.1 1822.6,1127.9 1823.1,1129.5 1823.7,1131.6 1824.2,1133.5 1824.8,1133.4 1825.3,1136.6 1825.9,1140.0 1826.4,1140.4 1827.0,1142.1 1827.5,1143.1 1828.1,1146.8 1828.6,1143.7 1829.2,1147.8 1829.7,1147.3 1830.3,1148.8 1830.8,1144.8 1831.4,1141.9 1831.9,1151.4 1832.5,1147.8 1833.0,1152.8 1833.6,1148.4 1834.1,1149.8 1834.7,1147.0 1835.2,1147.4 1835.8,1147.3 1836.3,1147.1 1836.9,1146.0 1837.4,1142.2 1838.0,1145.7 1838.5,1152.1 1839.1,1149.8 1839.6,1147.0 1840.2,1145.4 1840.7,1148.8 1841.3,1152.2 1841.8,1141.7 1842.4,1147.6 1842.9,1148.7 1843.5,1148.5 1844.0,1151.6 1844.6,1150.0 1845.1,1150.4 1845.7,1150.2 1846.2,1149.8 1846.8,1145.7 1847.3,1148.7 1847.9,1146.2 1848.4,1145.5 1849.0,1146.8 1849.5,1145.6 1850.1,1146.1 1850.6,1144.9 1851.2,1142.4 1851.7,1142.5 1852.3,1140.3 1852.8,1138.8 1853.4,1136.8 1853.9,1135.5 1854.5,1134.8 1855.0,1133.6 1855.6,1133.6 1856.1,1133.4 1856.7,1133.7 1857.2,1134.1 1857.8,1134.8 1858.3,1135.4 1858.9,1136.3 1859.4,1137.0 1860.0,1137.2 1860.5,1139.1 1861.1,1138.2 1861.6,1139.9 1862.2,1141.4 1862.7,1142.9 1863.3,1143.2 1863.8,1143.7 1864.4,1145.1 1864.9,1144.8 1865.5,1146.7 1866.0,1146.8 1866.6,1147.3 1867.1,1145.9 1867.7,1151.5 1868.2,1150.9 1868.8,1149.0 1869.3,1148.6 1869.9,1150.7 1870.4,1145.9 1871.0,1149.7 1871.5,1149.5 1872.1,1155.4 1872.6,1152.4 1873.2,1149.7 1873.7,1153.5 1874.3,1149.9 1874.8,1147.2 1875.4,1151.4 1875.9,1148.4 1876.5,1146.2 1877.0,1145.7 1877.6,1147.3 1878.1,1156.5 1878.7,1148.3 1879.2,1145.6 1879.8,1150.7 1880.3,1151.5 1880.9,1149.8 1881.4,1150.0 1882.0,1143.1 1882.5,1144.3 1883.1,1150.8 1883.6,1150.0 1884.2,1147.2 1884.7,1149.2 1885.3,1150.5 1885.8,1144.2 1886.4,1145.6 1886.9,1152.9 1887.5,1146.2 1888.0,1147.4 1888.6,1147.6 1889.1,1145.5 1889.7,1146.3 1890.2,1152.2 1890.8,1150.7 1891.3,1150.6 1891.9,1146.9 1892.4,1146.7 1893.0,1145.1 1893.5,1147.8 1894.1,1150.8 1894.6,1151.7 1895.2,1153.8 1895.7,1146.5 1896.3,1150.4 1896.8,1151.7 1897.4,1145.4 1897.9,1149.0 1898.5,1152.2 1899.0,1154.8 1899.6,1155.8 1900.1,1150.6 1900.7,1149.0 1901.2,1153.5 1901.8,1146.8 1902.3,1148.8 1902.9,1154.8 1903.4,1154.1 1904.0,1154.2 1904.5,1143.2 1905.1,1152.5 1905.6,1148.2 1906.2,1149.2 1906.7,1149.4 1907.3,1145.2 1907.8,1145.7 1908.4,1150.8 1908.9,1142.3 1909.5,1150.3 1910.0,1153.3 1910.6,1148.3 1911.1,1149.9 1911.7,1147.8 1912.2,1152.4 1912.8,1151.2 1913.3,1150.9 1913.9,1141.1 1914.4,1148.8 1915.0,1152.1 1915.5,1148.0 1916.1,1144.4 1916.6,1155.1 1917.2,1148.6 1917.7,1150.3 1918.3,1146.6 1918.8,1156.7 1919.4,1148.3 1919.9,1139.5 1920.5,1146.8 1921.0,1141.9 1921.6,1142.9 1922.1,1149.3 1922.7,1143.0 1923.2,1146.0 1923.8,1149.3 1924.3,1145.2 1924.9,1148.2 1925.4,1144.7 1926.0,1146.5 1926.5,1150.2 1927.1,1152.9 1927.6,1146.9 1928.2,1151.2 1928.7,1149.6 1929.3,1144.8 1929.8,1147.6 1930.4,1145.5 1930.9,1150.8 1931.5,1141.2 1932.0,1143.9 1932.6,1136.8 1933.1,1142.3 1933.7,1140.1 1934.2,1144.1 1934.8,1140.3 1935.3,1143.5 1935.9,1144.1 1936.4,1144.8 1937.0,1140.6 1937.5,1142.0 1938.1,1147.5 1938.6,1132.6 1939.2,1143.5 1939.7,1143.1 1940.3,1146.1 1940.8,1133.0 1941.4,1138.4 1941.9,1143.3 1942.5,1137.5 1943.0,1145.8 1943.6,1140.6 1944.1,1143.2 1944.7,1147.7 1945.2,1142.7 1945.8,1137.5 1946.3,1140.7 1946.9,1141.4 1947.4,1144.6 1948.0,1141.9 1948.5,1142.1 1949.1,1142.9 1949.6,1144.4 1950.2,1146.7 1950.7,1142.1 1951.3,1143.1 1951.8,1146.1 1952.4,1143.6 1952.9,1144.4 1953.5,1144.3 1954.0,1149.2 1954.6,1149.4 1955.1,1149.6 1955.7,1148.9 1956.2,1144.9 1956.8,1151.9 1957.3,1148.8 1957.9,1146.5 1958.4,1142.5 1959.0,1149.9 1959.5,1149.5 1960.1,1150.6 1960.6,1151.6 1961.2,1147.5 1961.7,1150.2 1962.3,1143.8 1962.8,1139.1 1963.4,1143.1 1963.9,1147.4 1964.5,1152.5 1965.0,1150.9 1965.6,1154.9 1966.1,1150.7 1966.7,1146.1 1967.2,1154.9 1967.8,1150.7 1968.3,1152.9 1968.9,1145.8 1969.4,1149.1 1970.0,1147.6 1970.5,1148.2 1971.1,1147.3 1971.6,1143.2 1972.2,1143.9 1972.7,1150.6 1973.3,1149.2 1973.8,1146.6 1974.4,1152.9 1974.9,1149.8 1975.5,1150.8 1976.0,1148.6 1976.6,1145.3 1977.1,1150.7 1977.7,1150.1 1978.2,1145.7 1978.8,1150.3 1979.3,1146.1 1979.9,1147.1 1980.4,1141.3 1981.0,1147.0 1981.5,1149.8 1982.1,1151.4 1982.6,1145.8 1983.2,1151.6 1983.7,1148.1 1984.3,1151.7 1984.8,1147.4 1985.4,1146.8 1985.9,1153.1 1986.5,1153.6 1987.0,1149.0 1987.6,1152.1 1988.1,1146.6 1988.7,1151.2 1989.2,1147.4 1989.8,1147.4 1990.3,1149.0 1990.9,1145.4 1991.4,1146.4 1992.0,1145.3 1992.5,1145.6 1993.1,1138.1 1993.6,1135.8 1994.2,1131.8 1994.7,1129.2 1995.3,1123.2 1995.8,1119.3 1996.4,1114.5 1996.9,1109.9 1997.5,1107.4 1998.0,1106.6 1998.6,1107.5 1999.1,1109.6 1999.7,1112.4 2000.2,1115.5 2000.8,1118.3 2001.3,1120.7 2001.9,1122.3 2002.4,1122.9 2003.0,1123.7 2003.5,1124.5 2004.1,1125.8 2004.6,1128.8 2005.2,1128.7 2005.7,1133.3 2006.3,1137.7 2006.8,1137.4 2007.4,1141.7 2007.9,1143.7 2008.5,1144.4 2009.0,1147.0 2009.6,1146.3 2010.1,1146.9 2010.7,1149.4 2011.2,1146.3 2011.8,1144.1 2012.3,1152.1 2012.9,1149.2 2013.4,1143.6 2014.0,1152.5 2014.5,1146.2 2015.1,1141.8 2015.6,1151.2 2016.2,1154.8 2016.7,1152.6 2017.3,1148.0 2017.8,1149.5 2018.4,1151.2 2018.9,1152.7 2019.5,1146.5 2020.0,1151.7 2020.6,1146.7 2021.1,1153.3 2021.7,1152.6 2022.2,1140.9 2022.8,1150.0 2023.3,1149.2 2023.9,1145.7 2024.4,1148.4 2025.0,1148.1 2025.5,1145.7 2026.1,1150.6 2026.6,1144.5 2027.2,1150.1 2027.7,1155.0 2028.3,1147.4 2028.8,1152.3 2029.4,1147.2 2029.9,1146.7 2030.5,1147.4 2031.0,1150.7 2031.6,1153.7 2032.1,1156.5 2032.7,1151.0 2033.2,1148.7 2033.8,1149.6 2034.3,1151.8 2034.9,1151.6 2035.4,1153.1 2036.0,1143.1 2036.5,1152.1 2037.1,1152.3 2037.6,1145.4 2038.2,1149.2 2038.7,1145.2 2039.3,1145.6 2039.8,1148.2 2040.4,1153.4 2040.9,1148.4 2041.5,1149.1 2042.0,1148.6 2042.6,1153.8 2043.1,1153.8 2043.7,1145.1 2044.2,1152.4 2044.8,1153.0 2045.3,1151.1 2045.9,1150.9 2046.4,1149.9 2047.0,1153.3 2047.5,1153.2 2048.1,1148.9 2048.6,1151.4 2049.2,1142.4 2049.7,1148.5 2050.3,1145.6 2050.8,1151.8 2051.4,1146.6 2051.9,1154.0 2052.5,1145.6 2053.0,1154.1 2053.6,1151.2 2054.1,1153.9 2054.7,1150.2 2055.2,1146.2 2055.8,1150.6 2056.3,1153.1 2056.9,1154.5 2057.4,1151.2 2058.0,1155.1 2058.5,1152.5 2059.1,1147.8 2059.6,1145.6 2060.2,1147.6 2060.7,1152.1 2061.3,1149.0 2061.8,1151.5 2062.4,1146.8 2062.9,1149.0 2063.5,1148.6 2064.0,1150.3 2064.6,1148.8 2065.1,1144.9 2065.7,1147.2 2066.2,1151.1 2066.8,1147.6 2067.3,1150.9"/>
<polyline class="c" stroke="#000000" points="166.5,1434.9 167.1,1441.9 167.6,1441.7 168.2,1432.0 168.7,1432.5 169.3,1431.6 169.8,1443.8 170.4,1437.8 170.9,1437.3 171.5,1439.3 172.0,1434.2 172.6,1436.8 173.1,1433.5 173.7,1439.5 174.2,1434.3 174.8,1438.6 175.3,1440.8 175.9,1437.0 176.4,1439.9 177.0,1433.8 177.5,1433.9 178.1,1437.9 178.6,1436.8 179.2,1433.8 179.7,1436.1 180.3,1439.6 180.8,1435.7 181.4,1436.8 181.9,1435.8 182.5,1435.7 183.0,1434.3 183.6,1432.1 184.1,1428.6 184.7,1424.2 185.2,1419.0 185.8,1414.0 186.3,1410.1 186.9,1408.3 187.4,1409.2 188.0,1412.4 188.5,1417.1 189.1,1421.8 189.6,1427.3 190.2,1429.4 190.7,1433.7 191.3,1434.8 191.8,1436.7 192.4,1438.1 192.9,1440.6 193.5,1440.0 194.0,1439.7 194.6,1440.9 195.1,1437.6 195.7,1437.7 196.2,1436.1 196.8,1438.4 197.3,1441.0 197.9,1437.5 198.4,1437.6 199.0,1435.6 199.5,1442.9 200.1,1437.7 200.6,1439.5 201.2,1437.0 201.7,1439.3 202.3,1431.6 202.8,1438.2 203.4,1435.6 203.9,1442.2 204.5,1440.4 205.0,1436.8 205.6,1435.3 206.1,1434.6 206.7,1439.7 207.2,1435.4 207.8,1443.6 208.3,1434.2 208.9,1435.6 209.4,1434.4 210.0,1432.9 210.5,1439.2 211.1,1435.1 211.6,1441.8 212.2,1438.0 212.7,1431.4 213.3,1434.9 213.8,1437.7 214.4,1442.1 214.9,1436.1 215.5,1436.7 216.0,1432.6 216.6,1442.0 217.1,1430.2 217.7,1438.7 218.2,1437.7 218.8,1438.9 219.3,1440.0 219.9,1441.4 220.4,1438.0 221.0,1432.0 221.5,1443.2 222.1,1435.8 222.6,1440.9 223.2,1436.9 223.7,1440.4 224.3,1437.7 224.8,1436.4 225.4,1440.9 225.9,1429.5 226.5,1436.7 227.0,1437.9 227.6,1439.1 228.1,1435.9 228.7,1431.3 229.2,1439.0 229.8,1433.8 230.3,1440.0 230.9,1439.1 231.4,1437.8 232.0,1443.1 232.5,1441.9 233.1,1434.4 233.6,1431.8 234.2,1442.6 234.7,1445.7 235.3,1435.4 235.8,1438.9 236.4,1434.6 236.9,1435.6 237.5,1446.6 238.0,1439.4 238.6,1438.2 239.1,1438.5 239.7,1433.7 240.2,1439.3 240.8,1444.3 241.3,1443.0 241.9,1436.3 242.4,1435.0 243.0,1440.3 243.5,1438.2 244.1,1437.7 244.6,1435.5 245.2,1440.9 245.7,1438.3 246.3,1438.0 246.8,1438.2 247.4,1439.5 247.9,1434.7 248.5,1434.5 249.0,1429.7 249.6,1439.2 250.1,1444.6 250.7,1441.7 251.2,1438.1 251.8,1434.3 252.3,1436.9 252.9,1435.9 253.4,1439.3 254.0,1437.2 254.5,1439.6 255.1,1436.7 255.6,1433.5 256.2,1443.9 256.7,1433.6 257.3,1433.9 257.8,1435.6 258.4,1436.2 258.9,1440.8 259.5,1439.5 260.0,1436.6 260.6,1439.9 261.1,1445.8 261.7,1439.5 262.2,1439.0 262.8,1440.7 263.3,1435.2 263.9,1446.8 264.4,1443.5 265.0,1436.4 265.5,1440.2 266.1,1431.2 266.6,1439.4 267.2,1438.3 267.7,1439.6 268.3,1436.1 268.8,1442.0 269.4,1435.1 269.9,1442.4 270.5,1436.9 271.0,1432.1 271.6,1436.7 272.1,1444.4 272.7,1432.8 273.2,1434.7 273.8,1439.5 274.3,1435.0 274.9,1436.8 275.4,1435.6 276.0,1440.6 276.5,1437.5 277.1,1442.5 277.6,1432.8 278.2,1443.3 278.7,1441.0 279.3,1439.0 279.8,1439.7 280.4,1436.7 280.9,1435.1 281.5,1444.3 282.0,1438.0 282.6,1434.4 283.1,1439.9 283.7,1439.2 284.2,1441.2 284.8,1436.8 285.3,1435.3 285.9,1434.7 286.4,1434.8 287.0,1440.7 287.5,1440.0 288.1,1441.3 288.6,1440.0 289.2,1436.6 289.7,1446.4 290.3,1437.9 290.8,1432.5 291.4,1441.3 291.9,1437.2 292.5,1437.5 293.0,1437.7 293.6,1439.7 294.1,1434.5 294.7,1437.0 295.2,1438.5 295.8,1443.0 296.3,1435.6 296.9,1436.5 297.4,1442.5 298.0,1440.6 298.5,1439.1 299.1,1436.0 299.6,1442.1 300.2,1438.4 300.7,1438.8 301.3,1438.9 301.8,1438.9 302.4,1441.4 302.9,1437.6 303.5,1430.7 304.0,1437.4 304.6,1438.4 305.1,1439.0 305.7,1436.2 306.2,1434.0 306.8,1440.4 307.3,1441.2 307.9,1432.9 308.4,1437.6 309.0,1435.9 309.5,1439.6 310.1,1437.3 310.6,1433.5 311.2,1442.6 311.7,1440.1 312.3,1437.2 312.8,1435.1 313.4,1434.6 313.9,1437.8 314.5,1432.1 315.0,1444.5 315.6,1436.3 316.1,1438.5 316.7,1437.3 317.2,1439.4 317.8,1441.8 318.3,1430.2 318.9,1441.1 319.4,1438.3 320.0,1442.4 320.5,1440.1 321.1,1433.4 321.6,1434.5 322.2,1442.8 322.7,1441.5 323.3,1437.8 323.8,1441.0 324.4,1436.7 324.9,1442.1 325.5,1437.8 326.0,1436.1 326.6,1439.3 327.1,1437.9 327.7,1440.5 328.2,1437.3 328.8,1438.4 329.3,1447.3 329.9,1442.0 330.4,1437.8 331.0,1439.4 331.5,1434.9 332.1,1443.8 332.6,1438.2 333.2,1442.3 333.7,1442.1 334.3,1441.7 334.8,1441.6 335.4,1442.1 335.9,1445.6 336.5,1440.2 337.0,1440.4 337.6,1432.0 338.1,1436.7 338.7,1434.6 339.2,1439.8 339.8,1441.2 340.3,1440.6 340.9,1434.1 341.4,1442.9 342.0,1440.8 342.5,1438.6 343.1,1434.8 343.6,1439.1 344.2,1440.2 344.7,1442.2 345.3,1436.0 345.8,1437.3 346.4,1436.0 346.9,1439.5 347.5,1438.0 348.0,1438.1 348.6,1436.5 349.1,1440.6 349.7,1440.6 350.2,1439.8 350.8,1434.1 351.3,1438.2 351.9,1438.3 352.4,1436.3 353.0,1435.4 353.5,1433.7 354.1,1429.1 354.6,1423.4 355.2,1415.3 355.7,1404.1 356.3,1391.2 356.8,1378.0 357.4,1366.1 357.9,1357.7 358.5,1354.5 359.0,1357.2 359.6,1365.2 360.1,1376.6 360.7,1389.7 361.2,1402.0 361.8,1412.5 362.3,1421.4 362.9,1428.0 363.4,1431.2 364.0,1436.9 364.5,1436.0 365.1,1435.2 365.6,1442.6 366.2,1437.1 366.7,1442.6 367.3,1440.0 367.8,1439.6 368.4,1436.5 368.9,1439.0 369.5,1436.3 370.0,1441.0 370.6,1438.3 371.1,1438.9 371.7,1446.1 372.2,1435.6 372.8,1434.8 373.3,1437.4 373.9,1440.9 374.4,1444.7 375.0,1437.6 375.5,1442.1 376.1,1436.7 376.6,1439.0 377.2,1432.8 377.7,1434.4 378.3,1442.2 378.8,1442.8 379.4,1442.5 379.9,1440.7 380.5,1430.6 381.0,1436.8 381.6,1434.2 382.1,1439.2 382.7,1438.4 383.2,1442.5 383.8,1444.7 384.3,1443.1 384.9,1440.6 385.4,1444.9 386.0,1438.2 386.5,1442.7 387.1,1437.2 387.6,1440.5 388.2,1442.8 388.7,1440.7 389.3,1436.9 389.8,1440.0 390.4,1442.7 390.9,1442.6 391.5,1447.8 392.0,1441.8 392.6,1440.9 393.1,1434.0 393.7,1438.1 394.2,1435.4 394.8,1445.1 395.3,1438.8 395.9,1435.2 396.4,1439.8 397.0,1439.6 397.5,1441.7 398.1,1441.0 398.6,1441.5 399.2,1439.3 399.7,1440.6 400.3,1433.5 400.8,1434.1 401.4,1438.6 401.9,1438.5 402.5,1434.6 403.0,1443.5 403.6,1439.8 404.1,1438.1 404.7,1440.6 405.2,1442.2 405.8,1433.8 406.3,1442.2 406.9,1440.3 407.4,1441.8 408.0,1441.9 408.5,1435.9 409.1,1443.7 409.6,1442.8 410.2,1444.4 410.7,1436.3 411.3,1441.5 411.8,1436.9 412.4,1435.9 412.9,1444.0 413.5,1437.4 414.0,1441.3 414.6,1439.1 415.1,1442.9 415.7,1438.2 416.2,1441.1 416.8,1442.5 417.3,1431.1 417.9,1439.1 418.4,1435.4 419.0,1445.1 419.5,1442.4 420.1,1440.0 420.6,1442.7 421.2,1441.0 421.7,1437.5 422.3,1444.9 422.8,1445.9 423.4,1443.2 423.9,1443.3 424.5,1439.9 425.0,1438.3 425.6,1442.8 426.1,1437.6 426.7,1439.6 427.2,1438.7 427.8,1436.5 428.3,1441.7 428.9,1439.5 429.4,1439.3 430.0,1445.4 430.5,1437.9 431.1,1436.2 431.6,1437.3 432.2,1441.2 432.7,1444.2 433.3,1440.3 433.8,1436.2 434.4,1433.8 434.9,1438.5 435.5,1444.6 436.0,1441.0 436.6,1436.8 437.1,1440.7 437.7,1437.5 438.2,1439.0 438.8,1442.6 439.3,1442.9 439.9,1441.2 440.4,1437.3 441.0,1441.8 441.5,1439.6 442.1,1437.4 442.6,1436.5 443.2,1438.8 443.7,1440.3 444.3,1439.7 444.8,1431.5 445.4,1438.6 445.9,1446.2 446.5,1435.6 447.0,1443.4 447.6,1442.6 448.1,1440.6 448.7,1445.3 449.2,1437.3 449.8,1440.0 450.3,1439.7 450.9,1442.4 451.4,1443.0 452.0,1448.4 452.5,1439.5 453.1,1443.1 453.6,1445.7 454.2,1440.5 454.7,1440.6 455.3,1445.4 455.8,1436.5 456.4,1443.5 456.9,1437.9 457.5,1440.1 458.0,1439.8 458.6,1445.6 459.1,1437.0 459.7,1433.3 460.2,1438.8 460.8,1436.7 461.3,1441.1 461.9,1443.0 462.4,1442.2 463.0,1436.0 463.5,1435.3 464.1,1442.2 464.6,1436.6 465.2,1435.3 465.7,1445.7 466.3,1439.3 466.8,1441.2 467.4,1441.5 467.9,1440.8 468.5,1440.7 469.0,1441.6 469.6,1438.2 470.1,1440.8 470.7,1438.2 471.2,1443.0 471.8,1440.5 472.3,1440.3 472.9,1441.6 473.4,1444.2 474.0,1443.6 474.5,1442.2 475.1,1439.4 475.6,1445.1 476.2,1437.7 476.7,1438.1 477.3,1445.9 477.8,1437.4 478.4,1442.1 478.9,1441.4 479.5,1439.9 480.0,1438.8 480.6,1439.0 481.1,1437.2 481.7,1436.2 482.2,1434.2 482.8,1440.2 483.3,1444.4 483.9,1435.0 484.4,1441.7 485.0,1441.1 485.5,1443.9 486.1,1443.2 486.6,1442.6 487.2,1437.8 487.7,1440.8 488.3,1439.5 488.8,1436.7 489.4,1442.0 489.9,1437.7 490.5,1443.7 491.0,1442.0 491.6,1436.0 492.1,1444.5 492.7,1441.1 493.2,1440.7 493.8,1432.0 494.3,1438.2 494.9,1437.7 495.4,1437.8 496.0,1436.6 496.5,1436.1 497.1,1444.7 497.6,1438.3 498.2,1433.0 498.7,1437.6 499.3,1437.8 499.8,1439.3 500.4,1439.9 500.9,1440.9 501.5,1438.4 502.0,1440.6 502.6,1448.8 503.1,1437.7 503.7,1434.9 504.2,1443.7 504.8,1439.1 505.3,1437.7 505.9,1436.2 506.4,1444.4 507.0,1437.0 507.5,1446.9 508.1,1446.0 508.6,1443.9 509.2,1439.2 509.7,1448.9 510.3,1436.3 510.8,1440.5 511.4,1436.8 511.9,1441.5 512.5,1441.5 513.0,1443.3 513.6,1439.9 514.1,1442.8 514.7,1439.5 515.2,1441.5 515.8,1437.9 516.3,1443.3 516.9,1442.8 517.4,1438.9 518.0,1440.7 518.5,1437.5 519.1,1446.1 519.6,1448.1 520.2,1441.9 520.7,1446.2 521.3,1442.7 521.8,1441.0 522.4,1437.5 522.9,1442.7 523.5,1437.1 524.0,1440.6 524.6,1442.6 525.1,1438.5 525.7,1437.1 526.2,1438.4 526.8,1442.3 527.3,1440.2 527.9,1443.3 528.4,1446.7 529.0,1438.2 529.5,1444.1 530.1,1441.7 530.6,1439.2 531.2,1438.9 531.7,1437.1 532.3,1440.7 532.8,1435.4 533.4,1433.4 533.9,1437.6 534.5,1440.8 535.0,1439.1 535.6,1438.0 536.1,1439.3 536.7,1443.4 537.2,1437.2 537.8,1441.0 538.3,1440.8 538.9,1436.6 539.4,1443.5 540.0,1438.8 540.5,1447.8 541.1,1438.7 541.6,1440.4 542.2,1447.9 542.7,1444.1 543.3,1440.3 543.8,1433.0 544.4,1444.9 544.9,1436.5 545.5,1442.5 546.0,1440.8 546.6,1441.4 547.1,1440.1 547.7,1439.2 548.2,1439.3 548.8,1440.5 549.3,1437.6 549.9,1439.1 550.4,1443.9 551.0,1435.8 551.5,1444.4 552.1,1443.2 552.6,1449.1 553.2,1443.4 553.7,1441.3 554.3,1442.7 554.8,1434.6 555.4,1443.0 555.9,1438.2 556.5,1446.0 557.0,1439.9 557.6,1441.6 558.1,1437.5 558.7,1439.5 559.2,1439.8 559.8,1442.8 560.3,1444.2 560.9,1439.2 561.4,1435.4 562.0,1435.6 562.5,1444.0 563.1,1442.9 563.6,1441.5 564.2,1440.8 564.7,1441.2 565.3,1440.3 565.8,1444.4 566.4,1440.8 566.9,1437.8 567.5,1438.8 568.0,1435.0 568.6,1443.4 569.1,1438.5 569.7,1439.9 570.2,1437.3 570.8,1438.9 571.3,1443.1 571.9,1441.1 572.4,1441.6 573.0,1444.7 573.5,1442.1 574.1,1438.6 574.6,1443.0 575.2,1437.1 575.7,1443.8 576.3,1441.4 576.8,1442.4 577.4,1441.5 577.9,1440.0 578.5,1436.1 579.0,1446.0 579.6,1438.6 580.1,1437.9 580.7,1441.5 581.2,1441.3 581.8,1439.1 582.3,1438.7 582.9,1442.7 583.4,1445.8 584.0,1440.4 584.5,1440.4 585.1,1443.6 585.6,1438.8 586.2,1436.1 586.7,1436.5 587.3,1439.2 587.8,1439.6 588.4,1434.2 588.9,1441.2 589.5,1441.3 590.0,1437.3 590.6,1440.9 591.1,1449.0 591.7,1439.2 592.2,1435.7 592.8,1437.5 593.3,1437.7 593.9,1437.8 594.4,1438.4 595.0,1439.8 595.5,1436.9 596.1,1441.5 596.6,1440.0 597.2,1441.1 597.7,1434.2 598.3,1444.3 598.8,1447.1 599.4,1440.6 599.9,1439.7 600.5,1439.8 601.0,1445.2 601.6,1434.1 602.1,1444.9 602.7,1436.6 603.2,1445.9 603.8,1442.0 604.3,1440.4 604.9,1436.8 605.4,1433.0 606.0,1433.8 606.5,1437.9 607.1,1444.0 607.6,1437.7 608.2,1433.3 608.7,1439.0 609.3,1437.7 609.8,1440.0 610.4,1437.3 610.9,1435.6 611.5,1437.7 612.0,1437.1 612.6,1444.0 613.1,1440.6 613.7,1441.9 614.2,1437.5 614.8,1439.0 615.3,1436.2 615.9,1441.1 616.4,1436.5 617.0,1438.9 617.5,1436.8 618.1,1440.4 618.6,1442.6 619.2,1438.2 619.7,1441.8 620.3,1439.9 620.8,1440.5 621.4,1441.2 621.9,1438.8 622.5,1438.2 623.0,1433.0 623.6,1435.4 624.1,1438.5 624.7,1445.1 625.2,1439.7 625.8,1435.4 626.3,1439.4 626.9,1442.6 627.4,1435.2 628.0,1439.7 628.5,1439.3 629.1,1434.6 629.6,1435.3 630.2,1432.2 630.7,1438.5 631.3,1439.9 631.8,1434.8 632.4,1438.4 632.9,1435.8 633.5,1435.3 634.0,1433.6 634.6,1433.8 635.1,1433.1 635.7,1435.2 636.2,1435.1 636.8,1433.5 637.3,1435.8 637.9,1429.0 638.4,1431.3 639.0,1428.1 639.5,1431.1 640.1,1431.0 640.6,1422.1 641.2,1428.2 641.7,1428.2 642.3,1423.8 642.8,1414.6 643.4,1426.3 643.9,1415.2 644.5,1414.7 645.0,1418.3 645.6,1408.3 646.1,1406.2 646.7,1408.1 647.2,1401.7 647.8,1398.7 648.3,1392.6 648.9,1388.8 649.4,1386.7 650.0,1375.2 650.5,1371.9 651.1,1369.6 651.6,1363.9 652.2,1366.4 652.7,1357.2 653.3,1353.7 653.8,1346.6 654.4,1349.3 654.9,1343.4 655.5,1340.5 656.0,1339.5 656.6,1338.3 657.1,1337.4 657.7,1341.7 658.2,1346.1 658.8,1350.7 659.3,1343.3 659.9,1351.8 660.4,1364.5 661.0,1361.9 661.5,1362.3 662.1,1370.4 662.6,1372.5 663.2,1381.7 663.7,1385.7 664.3,1387.2 664.8,1394.6 665.4,1397.8 665.9,1402.6 666.5,1404.8 667.0,1406.5 667.6,1407.2 668.1,1418.9 668.7,1415.3 669.2,1415.4 669.8,1417.5 670.3,1428.4 670.9,1426.0 671.4,1419.8 672.0,1428.9 672.5,1426.2 673.1,1428.0 673.6,1427.0 674.2,1432.2 674.7,1437.5 675.3,1426.7 675.8,1430.1 676.4,1430.4 676.9,1431.3 677.5,1429.7 678.0,1431.7 678.6,1433.6 679.1,1439.5 679.7,1428.6 680.2,1435.5 680.8,1439.1 681.3,1434.4 681.9,1441.7 682.4,1440.8 683.0,1438.5 683.5,1443.2 684.1,1440.0 684.6,1441.9 685.2,1433.4 685.7,1439.9 686.3,1436.3 686.8,1433.7 687.4,1437.9 687.9,1440.4 688.5,1437.1 689.0,1440.8 689.6,1443.4 690.1,1438.0 690.7,1438.4 691.2,1440.0 691.8,1439.9 692.3,1443.4 692.9,1431.8 693.4,1441.2 694.0,1437.9 694.5,1436.9 695.1,1446.5 695.6,1440.0 696.2,1438.7 696.7,1445.1 697.3,1441.1 697.8,1438.9 698.4,1441.0 698.9,1440.1 699.5,1436.5 700.0,1436.9 700.6,1435.7 701.1,1432.9 701.7,1428.2 702.2,1418.0 702.8,1404.6 703.3,1387.9 703.9,1368.2 704.4,1349.3 705.0,1335.6 705.5,1329.8 706.1,1332.4 706.6,1341.7 707.2,1355.8 707.7,1372.4 708.3,1389.3 708.8,1403.5 709.4,1418.3 709.9,1426.6 710.5,1433.6 711.0,1434.0 711.6,1436.9 712.1,1440.0 712.7,1438.8 713.2,1439.0 713.8,1445.6 714.3,1438.7 714.9,1440.8 715.4,1440.4 716.0,1436.7 716.5,1440.5 717.1,1446.6 717.6,1439.6 718.2,1444.4 718.7,1441.1 719.3,1442.1 719.8,1440.1 720.4,1442.2 720.9,1440.5 721.5,1445.1 722.0,1438.8 722.6,1440.0 723.1,1436.5 723.7,1441.8 724.2,1439.0 724.8,1435.9 725.3,1429.2 725.9,1421.3 726.4,1408.5 727.0,1390.5 727.5,1371.9 728.1,1352.5 728.6,1338.3 729.2,1331.8 729.7,1333.5 730.3,1342.1 730.8,1355.4 731.4,1371.5 731.9,1387.6 732.5,1403.4 733.0,1416.5 733.6,1426.2 734.1,1434.6 734.7,1435.8 735.2,1437.8 735.8,1437.7 736.3,1442.9 736.9,1439.1 737.4,1440.5 738.0,1438.4 738.5,1438.1 739.1,1442.0 739.6,1444.4 740.2,1437.8 740.7,1443.2 741.3,1442.2 741.8,1439.4 742.4,1440.6 742.9,1441.8 743.5,1439.9 744.0,1436.3 744.6,1445.8 745.1,1446.8 745.7,1440.9 746.2,1444.8 746.8,1445.3 747.3,1443.1 747.9,1438.2 748.4,1441.7 749.0,1440.5 749.5,1442.3 750.1,1439.5 750.6,1447.2 751.2,1440.5 751.7,1441.7 752.3,1439.6 752.8,1438.7 753.4,1444.0 753.9,1441.6 754.5,1447.8 755.0,1434.6 755.6,1447.8 756.1,1438.2 756.7,1442.0 757.2,1437.9 757.8,1444.4 758.3,1441.3 758.9,1440.9 759.4,1439.5 760.0,1443.5 760.5,1445.6 761.1,1440.1 761.6,1445.8 762.2,1443.0 762.7,1440.7 763.3,1439.1 763.8,1433.3 764.4,1443.0 764.9,1439.0 765.5,1442.9 766.0,1438.1 766.6,1442.5 767.1,1443.9 767.7,1437.6 768.2,1434.8 768.8,1432.1 769.3,1443.3 769.9,1436.6 770.4,1436.2 771.0,1436.6 771.5,1430.8 772.1,1429.1 772.6,1436.0 773.2,1428.8 773.7,1431.8 774.3,1431.2 774.8,1427.6 775.4,1426.2 775.9,1433.6 776.5,1429.4 777.0,1421.7 777.6,1422.1 778.1,1425.5 778.7,1427.7 779.2,1425.7 779.8,1419.2 780.3,1419.1 780.9,1421.4 781.4,1425.6 782.0,1424.0 782.5,1426.9 783.1,1424.1 783.6,1428.8 784.2,1427.2 784.7,1423.4 785.3,1428.2 785.8,1426.8 786.4,1436.5 786.9,1432.1 787.5,1433.4 788.0,1436.2 788.6,1434.6 789.1,1437.6 789.7,1441.4 790.2,1434.7 790.8,1438.2 791.3,1440.8 791.9,1433.9 792.4,1445.7 793.0,1439.2 793.5,1437.5 794.1,1440.6 794.6,1442.5 795.2,1442.4 795.7,1443.8 796.3,1440.3 796.8,1444.8 797.4,1444.8 797.9,1440.6 798.5,1445.8 799.0,1442.6 799.6,1447.0 800.1,1438.3 800.7,1446.5 801.2,1445.8 801.8,1445.4 802.3,1447.1 802.9,1445.0 803.4,1449.4 804.0,1441.7 804.5,1442.9 805.1,1440.9 805.6,1443.0 806.2,1443.8 806.7,1441.8 807.3,1447.5 807.8,1440.5 808.4,1440.6 808.9,1447.6 809.5,1442.6 810.0,1445.5 810.6,1443.5 811.1,1448.1 811.7,1445.2 812.2,1440.2 812.8,1437.4 813.3,1442.5 813.9,1442.0 814.4,1442.3 815.0,1436.1 815.5,1451.1 816.1,1448.3 816.6,1445.9 817.2,1444.8 817.7,1444.2 818.3,1444.7 818.8,1439.8 819.4,1435.9 819.9,1444.8 820.5,1445.9 821.0,1443.9 821.6,1446.9 822.1,1445.7 822.7,1442.6 823.2,1439.0 823.8,1439.7 824.3,1441.4 824.9,1443.5 825.4,1444.4 826.0,1441.7 826.5,1447.8 827.1,1449.5 827.6,1443.4 828.2,1444.0 828.7,1439.8 829.3,1447.7 829.8,1448.8 830.4,1442.7 830.9,1436.6 831.5,1440.9 832.0,1438.7 832.6,1437.7 833.1,1435.0 833.7,1429.7 834.2,1429.3 834.8,1428.1 835.3,1427.0 835.9,1429.7 836.4,1433.7 837.0,1429.1 837.5,1435.0 838.1,1437.8 838.6,1437.2 839.2,1438.3 839.7,1444.7 840.3,1443.3 840.8,1440.0 841.4,1443.7 841.9,1444.8 842.5,1443.2 843.0,1446.5 843.6,1445.4 844.1,1445.1 844.7,1441.5 845.2,1449.1 845.8,1442.7 846.3,1442.2 846.9,1447.8 847.4,1444.2 848.0,1439.5 848.5,1446.4 849.1,1441.2 849.6,1441.4 850.2,1444.4 850.7,1444.4 851.3,1445.7 851.8,1441.9 852.4,1442.8 852.9,1444.5 853.5,1446.4 854.0,1443.8 854.6,1448.2 855.1,1442.6 855.7,1446.3 856.2,1445.1 856.8,1445.1 857.3,1446.6 857.9,1448.0 858.4,1446.3 859.0,1442.4 859.5,1441.4 860.1,1438.6 860.6,1444.6 861.2,1440.6 861.7,1441.4 862.3,1449.0 862.8,1442.6 863.4,1439.6 863.9,1445.8 864.5,1445.2 865.0,1443.6 865.6,1441.7 866.1,1442.8 866.7,1442.6 867.2,1444.0 867.8,1443.0 868.3,1443.0 868.9,1446.9 869.4,1444.0 870.0,1442.3 870.5,1443.5 871.1,1442.9 871.6,1437.2 872.2,1443.4 872.7,1447.8 873.3,1443.1 873.8,1440.3 874.4,1443.3 874.9,1442.9 875.5,1447.4 876.0,1442.8 876.6,1442.4 877.1,1446.7 877.7,1441.6 878.2,1441.2 878.8,1442.7 879.3,1446.4 879.9,1443.2 880.4,1444.2 881.0,1443.9 881.5,1442.9 882.1,1443.8 882.6,1446.8 883.2,1445.7 883.7,1440.0 884.3,1446.2 884.8,1447.6 885.4,1442.3 885.9,1445.8 886.5,1436.6 887.0,1444.5 887.6,1441.8 888.1,1443.9 888.7,1446.4 889.2,1441.8 889.8,1442.5 890.3,1445.4 890.9,1446.2 891.4,1447.8 892.0,1451.8 892.5,1438.4 893.1,1449.4 893.6,1448.3 894.2,1444.5 894.7,1442.1 895.3,1447.6 895.8,1448.0 896.4,1443.5 896.9,1452.4 897.5,1441.2 898.0,1440.5 898.6,1438.3 899.1,1442.7 899.7,1444.8 900.2,1451.1 900.8,1443.6 901.3,1443.4 901.9,1441.6 902.4,1441.1 903.0,1446.5 903.5,1442.4 904.1,1444.2 904.6,1445.1 905.2,1446.0 905.7,1444.9 906.3,1443.1 906.8,1447.5 907.4,1446.2 907.9,1450.0 908.5,1439.6 909.0,1437.8 909.6,1445.2 910.1,1441.7 910.7,1440.6 911.2,1440.5 911.8,1440.6 912.3,1444.4 912.9,1447.4 913.4,1448.1 914.0,1441.4 914.5,1445.4 915.1,1444.1 915.6,1440.5 916.2,1443.3 916.7,1448.7 917.3,1443.5 917.8,1443.5 918.4,1451.1 918.9,1449.2 919.5,1449.0 920.0,1444.7 920.6,1447.1 921.1,1446.6 921.7,1446.8 922.2,1447.5 922.8,1444.7 923.3,1439.2 923.9,1448.6 924.4,1450.0 925.0,1445.4 925.5,1452.4 926.1,1447.0 926.6,1442.7 927.2,1440.9 927.7,1446.7 928.3,1443.9 928.8,1447.1 929.4,1447.2 929.9,1445.8 930.5,1446.8 931.0,1448.7 931.6,1442.6 932.1,1443.0 932.7,1441.8 933.2,1447.1 933.8,1437.4 934.3,1444.2 934.9,1446.6 935.4,1441.7 936.0,1444.6 936.5,1437.5 937.1,1441.5 937.6,1445.0 938.2,1449.5 938.7,1440.8 939.3,1443.1 939.8,1442.1 940.4,1441.8 940.9,1443.4 941.5,1444.1 942.0,1443.7 942.6,1441.9 943.1,1444.4 943.7,1441.1 944.2,1447.2 944.8,1446.2 945.3,1445.8 945.9,1444.5 946.4,1445.5 947.0,1451.1 947.5,1438.0 948.1,1442.0 948.6,1445.4 949.2,1445.9 949.7,1446.0 950.3,1446.1 950.8,1446.0 951.4,1440.8 951.9,1437.8 952.5,1446.2 953.0,1449.0 953.6,1442.6 954.1,1443.7 954.7,1443.1 955.2,1440.8 955.8,1439.4 956.3,1443.4 956.9,1446.1 957.4,1443.0 958.0,1447.4 958.5,1442.9 959.1,1447.1 959.6,1443.6 960.2,1445.5 960.7,1441.8 961.3,1438.4 961.8,1446.2 962.4,1442.9 962.9,1446.4 963.5,1444.6 964.0,1439.7 964.6,1442.5 965.1,1437.0 965.7,1436.0 966.2,1431.3 966.8,1426.2 967.3,1421.4 967.9,1416.4 968.4,1413.0 969.0,1411.0 969.5,1410.8 970.1,1412.2 970.6,1414.6 971.2,1417.5 971.7,1421.2 972.3,1425.3 972.8,1429.0 973.4,1431.6 973.9,1436.1 974.5,1437.4 975.0,1440.9 975.6,1441.9 976.1,1446.7 976.7,1443.6 977.2,1440.7 977.8,1446.6 978.3,1446.3 978.9,1440.2 979.4,1446.9 980.0,1445.1 980.5,1442.6 981.1,1446.2 981.6,1444.1 982.2,1443.6 982.7,1449.6 983.3,1447.3 983.8,1441.1 984.4,1446.6 984.9,1445.5 985.5,1451.3 986.0,1440.5 986.6,1445.0 987.1,1443.3 987.7,1444.5 988.2,1446.5 988.8,1443.3 989.3,1445.9 989.9,1441.5 990.4,1441.4 991.0,1449.4 991.5,1442.8 992.1,1445.3 992.6,1448.1 993.2,1447.1 993.7,1444.3 994.3,1447.5 994.8,1451.1 995.4,1440.4 995.9,1442.7 996.5,1444.7 997.0,1441.0 997.6,1444.3 998.1,1444.8 998.7,1449.4 999.2,1442.3 999.8,1445.0 1000.3,1447.6 1000.9,1441.7 1001.4,1444.1 1002.0,1449.9 1002.5,1437.1 1003.1,1445.4 1003.6,1442.3 1004.2,1445.9 1004.7,1440.6 1005.3,1444.3 1005.8,1444.1 1006.4,1444.9 1006.9,1445.9 1007.5,1447.0 1008.0,1446.0 1008.6,1445.6 1009.1,1448.6 1009.7,1442.5 1010.2,1447.7 1010.8,1445.0 1011.3,1446.2 1011.9,1442.4 1012.4,1440.3 1013.0,1442.6 1013.5,1446.3 1014.1,1443.0 1014.6,1440.2 1015.2,1452.2 1015.7,1444.9 1016.3,1438.5 1016.8,1447.2 1017.4,1448.9 1017.9,1443.1 1018.5,1440.6 1019.0,1447.7 1019.6,1446.8 1020.1,1446.7 1020.7,1437.8 1021.2,1447.8 1021.8,1450.5 1022.3,1440.0 1022.9,1444.5 1023.4,1445.9 1024.0,1445.1 1024.5,1442.3 1025.1,1445.0 1025.6,1448.5 1026.2,1444.4 1026.7,1442.0 1027.3,1443.7 1027.8,1444.2 1028.4,1445.0 1028.9,1444.4 1029.5,1450.5 1030.0,1448.6 1030.6,1438.8 1031.1,1443.9 1031.7,1442.3 1032.2,1443.8 1032.8,1446.0 1033.3,1443.2 1033.9,1445.0 1034.4,1442.7 1035.0,1450.2 1035.5,1442.1 1036.1,1445.2 1036.6,1447.5 1037.2,1446.1 1037.7,1439.4 1038.3,1443.3 1038.8,1446.3 1039.4,1440.0 1039.9,1441.8 1040.5,1445.1 1041.0,1445.8 1041.6,1439.2 1042.1,1440.5 1042.7,1444.3 1043.2,1440.7 1043.8,1450.0 1044.3,1446.9 1044.9,1447.1 1045.4,1443.4 1046.0,1442.0 1046.5,1436.5 1047.1,1444.8 1047.6,1442.9 1048.2,1440.6 1048.7,1444.8 1049.3,1442.3 1049.8,1442.1 1050.4,1443.2 1050.9,1445.4 1051.5,1443.0 1052.0,1439.6 1052.6,1439.4 1053.1,1447.5 1053.7,1444.6 1054.2,1449.1 1054.8,1442.6 1055.3,1444.0 1055.9,1443.1 1056.4,1440.7 1057.0,1438.7 1057.5,1448.6 1058.1,1440.9 1058.6,1439.2 1059.2,1444.6 1059.7,1444.1 1060.3,1447.6 1060.8,1444.3 1061.4,1440.3 1061.9,1438.1 1062.5,1441.6 1063.0,1447.2 1063.6,1435.9 1064.1,1439.9 1064.7,1440.2 1065.2,1441.3 1065.8,1440.5 1066.3,1445.7 1066.9,1440.1 1067.4,1437.4 1068.0,1436.7 1068.5,1431.4 1069.1,1423.8 1069.6,1412.3 1070.2,1398.8 1070.7,1380.0 1071.3,1359.3 1071.8,1339.0 1072.4,1320.8 1072.9,1309.9 1073.5,1307.0 1074.0,1310.9 1074.6,1319.4 1075.1,1330.5 1075.7,1343.0 1076.2,1356.2 1076.8,1371.8 1077.3,1386.5 1077.9,1400.3 1078.4,1413.2 1079.0,1421.2 1079.5,1428.5 1080.1,1432.5 1080.6,1439.7 1081.2,1438.6 1081.7,1440.8 1082.3,1441.4 1082.8,1446.4 1083.4,1442.7 1083.9,1443.4 1084.5,1442.7 1085.0,1443.4 1085.6,1443.8 1086.1,1444.8 1086.7,1447.9 1087.2,1441.8 1087.8,1439.8 1088.3,1444.5 1088.9,1447.2 1089.4,1450.5 1090.0,1437.7 1090.5,1439.5 1091.1,1441.9 1091.6,1441.3 1092.2,1444.7 1092.7,1445.3 1093.3,1443.7 1093.8,1444.4 1094.4,1440.7 1094.9,1437.9 1095.5,1443.9 1096.0,1440.9 1096.6,1448.3 1097.1,1445.1 1097.7,1444.2 1098.2,1441.1 1098.8,1445.5 1099.3,1442.4 1099.9,1443.8 1100.4,1435.8 1101.0,1443.9 1101.5,1447.8 1102.1,1443.3 1102.6,1443.1 1103.2,1446.3 1103.7,1445.0 1104.3,1442.6 1104.8,1445.4 1105.4,1441.7 1105.9,1445.3 1106.5,1446.1 1107.0,1441.0 1107.6,1441.2 1108.1,1443.8 1108.7,1443.5 1109.2,1446.6 1109.8,1438.9 1110.3,1435.1 1110.9,1444.9 1111.4,1435.0 1112.0,1443.2 1112.5,1439.9 1113.1,1439.4 1113.6,1444.7 1114.2,1441.8 1114.7,1439.9 1115.3,1441.0 1115.8,1443.3 1116.4,1436.7 1116.9,1446.1 1117.5,1447.4 1118.0,1444.6 1118.6,1443.9 1119.1,1446.3 1119.7,1441.9 1120.2,1441.8 1120.8,1448.7 1121.3,1443.6 1121.9,1444.4 1122.4,1441.2 1123.0,1445.4 1123.5,1443.3 1124.1,1445.1 1124.6,1441.0 1125.2,1441.6 1125.7,1443.5 1126.3,1440.5 1126.8,1449.2 1127.4,1441.2 1127.9,1442.7 1128.5,1444.1 1129.0,1436.3 1129.6,1438.1 1130.1,1444.1 1130.7,1438.8 1131.2,1435.5 1131.8,1441.7 1132.3,1444.2 1132.9,1442.5 1133.4,1437.4 1134.0,1440.6 1134.5,1441.0 1135.1,1441.8 1135.6,1435.3 1136.2,1440.6 1136.7,1440.9 1137.3,1435.8 1137.8,1438.7 1138.4,1435.3 1138.9,1443.3 1139.5,1435.3 1140.0,1440.5 1140.6,1442.8 1141.1,1442.0 1141.7,1435.9 1142.2,1436.4 1142.8,1434.5 1143.3,1432.8 1143.9,1437.3 1144.4,1435.0 1145.0,1433.2 1145.5,1434.3 1146.1,1433.8 1146.6,1429.5 1147.2,1434.1 1147.7,1431.8 1148.3,1429.5 1148.8,1428.0 1149.4,1426.5 1149.9,1425.2 1150.5,1422.4 1151.0,1421.4 1151.6,1413.2 1152.1,1414.2 1152.7,1413.8 1153.2,1413.9 1153.8,1409.0 1154.3,1407.5 1154.9,1402.4 1155.4,1398.8 1156.0,1404.0 1156.5,1399.3 1157.1,1400.5 1157.6,1393.6 1158.2,1390.1 1158.7,1385.3 1159.3,1377.5 1159.8,1383.3 1160.4,1377.4 1160.9,1375.2 1161.5,1373.1 1162.0,1363.2 1162.6,1369.5 1163.1,1366.5 1163.7,1362.1 1164.2,1356.2 1164.8,1365.0 1165.3,1355.7 1165.9,1364.2 1166.4,1352.8 1167.0,1364.9 1167.5,1362.8 1168.1,1363.9 1168.6,1368.8 1169.2,1363.5 1169.7,1366.7 1170.3,1372.0 1170.8,1373.4 1171.4,1377.0 1171.9,1378.7 1172.5,1384.6 1173.0,1379.6 1173.6,1382.7 1174.1,1391.0 1174.7,1397.8 1175.2,1394.6 1175.8,1400.1 1176.3,1402.1 1176.9,1410.1 1177.4,1406.1 1178.0,1413.8 1178.5,1409.2 1179.1,1411.9 1179.6,1419.3 1180.2,1416.9 1180.7,1423.8 1181.3,1419.7 1181.8,1425.7 1182.4,1428.5 1182.9,1424.9 1183.5,1419.6 1184.0,1422.6 1184.6,1433.9 1185.1,1430.4 1185.7,1434.2 1186.2,1428.4 1186.8,1434.8 1187.3,1436.9 1187.9,1432.0 1188.4,1433.6 1189.0,1434.1 1189.5,1433.8 1190.1,1437.1 1190.6,1433.8 1191.2,1442.1 1191.7,1436.1 1192.3,1441.4 1192.8,1434.4 1193.4,1436.8 1193.9,1434.2 1194.5,1438.7 1195.0,1436.8 1195.6,1435.8 1196.1,1436.8 1196.7,1439.2 1197.2,1439.0 1197.8,1440.0 1198.3,1433.4 1198.9,1444.4 1199.4,1442.3 1200.0,1437.7 1200.5,1443.7 1201.1,1448.6 1201.6,1441.9 1202.2,1442.4 1202.7,1438.9 1203.3,1442.9 1203.8,1439.0 1204.4,1438.2 1204.9,1443.0 1205.5,1440.8 1206.0,1433.8 1206.6,1441.0 1207.1,1435.8 1207.7,1440.0 1208.2,1440.7 1208.8,1443.8 1209.3,1436.8 1209.9,1440.6 1210.4,1445.0 1211.0,1437.7 1211.5,1441.0 1212.1,1447.1 1212.6,1438.4 1213.2,1447.1 1213.7,1437.2 1214.3,1443.5 1214.8,1444.1 1215.4,1435.6 1215.9,1439.0 1216.5,1440.9 1217.0,1442.8 1217.6,1445.1 1218.1,1440.0 1218.7,1440.1 1219.2,1448.1 1219.8,1439.7 1220.3,1444.3 1220.9,1443.1 1221.4,1440.5 1222.0,1442.8 1222.5,1444.7 1223.1,1445.9 1223.6,1445.0 1224.2,1440.9 1224.7,1435.8 1225.3,1437.7 1225.8,1445.2 1226.4,1438.7 1226.9,1446.1 1227.5,1442.1 1228.0,1447.3 1228.6,1444.0 1229.1,1448.0 1229.7,1445.1 1230.2,1443.3 1230.8,1440.4 1231.3,1446.9 1231.9,1443.7 1232.4,1442.9 1233.0,1445.4 1233.5,1436.6 1234.1,1447.7 1234.6,1446.0 1235.2,1441.8 1235.7,1441.2 1236.3,1444.5 1236.8,1445.1 1237.4,1442.8 1237.9,1443.5 1238.5,1445.0 1239.0,1443.7 1239.6,1443.9 1240.1,1444.4 1240.7,1448.3 1241.2,1447.5 1241.8,1438.9 1242.3,1437.2 1242.9,1446.9 1243.4,1451.0 1244.0,1440.3 1244.5,1442.7 1245.1,1442.5 1245.6,1444.6 1246.2,1447.2 1246.7,1441.8 1247.3,1445.5 1247.8,1441.9 1248.4,1447.7 1248.9,1443.6 1249.5,1444.1 1250.0,1446.3 1250.6,1443.6 1251.1,1447.3 1251.7,1443.8 1252.2,1445.9 1252.8,1449.5 1253.3,1444.7 1253.9,1446.6 1254.4,1446.0 1255.0,1436.2 1255.5,1446.6 1256.1,1443.4 1256.6,1445.4 1257.2,1436.3 1257.7,1442.8 1258.3,1451.8 1258.8,1446.9 1259.4,1445.6 1259.9,1440.9 1260.5,1442.9 1261.0,1440.9 1261.6,1448.0 1262.1,1444.2 1262.7,1439.9 1263.2,1451.9 1263.8,1444.5 1264.3,1442.2 1264.9,1445.7 1265.4,1442.9 1266.0,1441.1 1266.5,1444.6 1267.1,1446.1 1267.6,1449.6 1268.2,1438.5 1268.7,1445.1 1269.3,1443.9 1269.8,1443.4 1270.4,1436.4 1270.9,1442.8 1271.5,1442.7 1272.0,1451.1 1272.6,1447.3 1273.1,1443.6 1273.7,1445.8 1274.2,1446.1 1274.8,1439.3 1275.3,1437.9 1275.9,1445.5 1276.4,1443.3 1277.0,1446.6 1277.5,1442.8 1278.1,1447.2 1278.6,1440.6 1279.2,1450.6 1279.7,1443.8 1280.3,1447.4 1280.8,1446.4 1281.4,1444.2 1281.9,1441.5 1282.5,1436.5 1283.0,1443.1 1283.6,1441.5 1284.1,1442.1 1284.7,1445.7 1285.2,1440.7 1285.8,1443.6 1286.3,1445.2 1286.9,1444.2 1287.4,1442.4 1288.0,1447.1 1288.5,1442.4 1289.1,1444.8 1289.6,1444.6 1290.2,1445.6 1290.7,1444.2 1291.3,1444.1 1291.8,1440.0 1292.4,1443.2 1292.9,1450.2 1293.5,1444.1 1294.0,1441.8 1294.6,1445.5 1295.1,1445.0 1295.7,1445.0 1296.2,1448.2 1296.8,1441.9 1297.3,1443.5 1297.9,1443.4 1298.4,1443.4 1299.0,1444.7 1299.5,1439.7 1300.1,1442.2 1300.6,1445.5 1301.2,1442.3 1301.7,1441.2 1302.3,1440.8 1302.8,1440.3 1303.4,1436.6 1303.9,1433.3 1304.5,1430.2 1305.0,1425.5 1305.6,1422.5 1306.1,1418.6 1306.7,1416.8 1307.2,1416.3 1307.8,1417.2 1308.3,1418.9 1308.9,1420.9 1309.4,1423.1 1310.0,1424.9 1310.5,1426.7 1311.1,1428.5 1311.6,1432.7 1312.2,1432.6 1312.7,1435.8 1313.3,1439.0 1313.8,1441.0 1314.4,1440.0 1314.9,1444.2 1315.5,1443.8 1316.0,1443.3 1316.6,1444.7 1317.1,1444.6 1317.7,1439.3 1318.2,1443.9 1318.8,1441.9 1319.3,1439.9 1319.9,1442.7 1320.4,1442.0 1321.0,1445.2 1321.5,1443.9 1322.1,1438.1 1322.6,1441.9 1323.2,1439.3 1323.7,1444.0 1324.3,1446.2 1324.8,1444.4 1325.4,1441.0 1325.9,1445.3 1326.5,1441.0 1327.0,1441.2 1327.6,1440.0 1328.1,1442.5 1328.7,1442.0 1329.2,1441.8 1329.8,1444.7 1330.3,1442.4 1330.9,1437.8 1331.4,1437.4 1332.0,1430.5 1332.5,1420.7 1333.1,1410.8 1333.6,1399.4 1334.2,1388.5 1334.7,1380.4 1335.3,1377.2 1335.8,1379.1 1336.4,1384.3 1336.9,1390.4 1337.5,1395.7 1338.0,1399.3 1338.6,1402.6 1339.1,1406.3 1339.7,1410.6 1340.2,1417.9 1340.8,1423.2 1341.3,1431.0 1341.9,1434.6 1342.4,1435.5 1343.0,1437.3 1343.5,1439.2 1344.1,1437.7 1344.6,1439.9 1345.2,1435.8 1345.7,1428.2 1346.3,1419.8 1346.8,1407.7 1347.4,1391.4 1347.9,1371.2 1348.5,1352.0 1349.0,1336.3 1349.6,1329.7 1350.1,1331.7 1350.7,1340.1 1351.2,1350.7 1351.8,1360.3 1352.3,1367.4 1352.9,1373.1 1353.4,1378.4 1354.0,1386.0 1354.5,1395.6 1355.1,1403.9 1355.6,1414.8 1356.2,1424.0 1356.7,1433.7 1357.3,1435.5 1357.8,1441.7 1358.4,1442.2 1358.9,1444.4 1359.5,1443.7 1360.0,1442.7 1360.6,1439.2 1361.1,1443.5 1361.7,1441.0 1362.2,1440.6 1362.8,1439.9 1363.3,1443.3 1363.9,1440.9 1364.4,1445.3 1365.0,1444.4 1365.5,1442.9 1366.1,1445.3 1366.6,1441.1 1367.2,1442.7 1367.7,1441.7 1368.3,1440.5 1368.8,1444.1 1369.4,1439.0 1369.9,1441.7 1370.5,1441.1 1371.0,1443.0 1371.6,1444.3 1372.1,1445.4 1372.7,1437.5 1373.2,1437.7 1373.8,1436.0 1374.3,1439.5 1374.9,1439.3 1375.4,1439.9 1376.0,1435.9 1376.5,1434.9 1377.1,1432.5 1377.6,1434.2 1378.2,1437.5 1378.7,1438.6 1379.3,1444.2 1379.8,1433.5 1380.4,1436.3 1380.9,1439.4 1381.5,1434.5 1382.0,1436.6 1382.6,1430.8 1383.1,1434.5 1383.7,1430.3 1384.2,1426.6 1384.8,1426.8 1385.3,1430.5 1385.9,1431.2 1386.4,1426.3 1387.0,1425.0 1387.5,1422.6 1388.1,1419.1 1388.6,1427.5 1389.2,1419.3 1389.7,1414.5 1390.3,1414.9 1390.8,1418.4 1391.4,1412.7 1391.9,1409.6 1392.5,1406.7 1393.0,1408.4 1393.6,1406.2 1394.1,1410.5 1394.7,1403.5 1395.2,1405.7 1395.8,1406.6 1396.3,1396.2 1396.9,1396.6 1397.4,1400.2 1398.0,1398.6 1398.5,1394.5 1399.1,1396.7 1399.6,1389.1 1400.2,1397.0 1400.7,1397.9 1401.3,1394.5 1401.8,1394.8 1402.4,1396.5 1402.9,1398.0 1403.5,1400.1 1404.0,1398.0 1404.6,1399.8 1405.1,1404.3 1405.7,1405.0 1406.2,1406.6 1406.8,1408.2 1407.3,1408.5 1407.9,1411.2 1408.4,1404.7 1409.0,1413.9 1409.5,1417.1 1410.1,1416.1 1410.6,1418.7 1411.2,1416.8 1411.7,1423.5 1412.3,1416.0 1412.8,1423.7 1413.4,1425.9 1413.9,1423.3 1414.5,1434.7 1415.0,1423.9 1415.6,1424.2 1416.1,1430.8 1416.7,1430.8 1417.2,1424.8 1417.8,1436.4 1418.3,1431.3 1418.9,1437.9 1419.4,1427.8 1420.0,1434.8 1420.5,1439.2 1421.1,1434.7 1421.6,1435.2 1422.2,1435.4 1422.7,1435.0 1423.3,1438.5 1423.8,1440.8 1424.4,1437.9 1424.9,1436.3 1425.5,1438.5 1426.0,1432.6 1426.6,1439.5 1427.1,1435.6 1427.7,1442.0 1428.2,1444.4 1428.8,1439.3 1429.3,1439.6 1429.9,1446.4 1430.4,1445.5 1431.0,1443.1 1431.5,1441.7 1432.1,1447.2 1432.6,1444.6 1433.2,1440.7 1433.7,1440.8 1434.3,1439.3 1434.8,1442.8 1435.4,1441.9 1435.9,1446.4 1436.5,1443.4 1437.0,1440.9 1437.6,1446.3 1438.1,1444.8 1438.7,1448.2 1439.2,1444.2 1439.8,1439.6 1440.3,1443.0 1440.9,1448.8 1441.4,1442.3 1442.0,1445.0 1442.5,1440.6 1443.1,1445.2 1443.6,1440.5 1444.2,1444.0 1444.7,1444.4 1445.3,1444.7 1445.8,1444.2 1446.4,1447.5 1446.9,1440.0 1447.5,1442.7 1448.0,1443.5 1448.6,1449.1 1449.1,1443.7 1449.7,1448.5 1450.2,1444.8 1450.8,1444.5 1451.3,1440.9 1451.9,1443.6 1452.4,1438.6 1453.0,1447.7 1453.5,1444.9 1454.1,1446.3 1454.6,1440.2 1455.2,1445.2 1455.7,1446.1 1456.3,1443.9 1456.8,1442.7 1457.4,1442.4 1457.9,1438.4 1458.5,1442.6 1459.0,1443.2 1459.6,1441.1 1460.1,1447.8 1460.7,1446.1 1461.2,1443.9 1461.8,1448.4 1462.3,1445.8 1462.9,1444.5 1463.4,1446.2 1464.0,1441.8 1464.5,1449.0 1465.1,1441.8 1465.6,1446.0 1466.2,1447.9 1466.7,1446.9 1467.3,1442.8 1467.8,1443.1 1468.4,1448.4 1468.9,1441.6 1469.5,1445.4 1470.0,1445.5 1470.6,1444.1 1471.1,1444.0 1471.7,1444.2 1472.2,1443.2 1472.8,1443.4 1473.3,1449.3 1473.9,1442.7 1474.4,1446.7 1475.0,1443.1 1475.5,1447.0 1476.1,1447.1 1476.6,1443.3 1477.2,1443.6 1477.7,1446.9 1478.3,1445.1 1478.8,1440.2 1479.4,1448.7 1479.9,1444.0 1480.5,1442.1 1481.0,1443.0 1481.6,1441.7 1482.1,1442.7 1482.7,1441.8 1483.2,1438.2 1483.8,1441.1 1484.3,1448.4 1484.9,1439.4 1485.4,1441.8 1486.0,1440.7 1486.5,1441.1 1487.1,1444.6 1487.6,1446.3 1488.2,1448.4 1488.7,1445.5 1489.3,1443.6 1489.8,1442.8 1490.4,1445.9 1490.9,1444.1 1491.5,1443.8 1492.0,1446.3 1492.6,1442.9 1493.1,1443.9 1493.7,1449.7 1494.2,1447.2 1494.8,1447.2 1495.3,1450.6 1495.9,1446.1 1496.4,1440.8 1497.0,1443.2 1497.5,1443.9 1498.1,1441.6 1498.6,1447.0 1499.2,1445.5 1499.7,1446.5 1500.3,1448.0 1500.8,1444.0 1501.4,1445.9 1501.9,1445.4 1502.5,1444.1 1503.0,1442.8 1503.6,1447.9 1504.1,1444.4 1504.7,1444.6 1505.2,1443.9 1505.8,1452.4 1506.3,1442.0 1506.9,1446.8 1507.4,1442.3 1508.0,1444.8 1508.5,1442.7 1509.1,1448.7 1509.6,1439.6 1510.2,1444.8 1510.7,1449.0 1511.3,1448.4 1511.8,1442.9 1512.4,1444.6 1512.9,1443.5 1513.5,1439.6 1514.0,1445.2 1514.6,1444.4 1515.1,1438.8 1515.7,1445.1 1516.2,1440.6 1516.8,1440.3 1517.3,1444.4 1517.9,1448.8 1518.4,1445.3 1519.0,1443.4 1519.5,1443.3 1520.1,1448.9 1520.6,1439.6 1521.2,1440.1 1521.7,1438.4 1522.3,1443.5 1522.8,1447.7 1523.4,1437.1 1523.9,1440.0 1524.5,1439.7 1525.0,1441.9 1525.6,1444.1 1526.1,1445.5 1526.7,1444.6 1527.2,1441.1 1527.8,1445.5 1528.3,1448.3 1528.9,1442.5 1529.4,1446.1 1530.0,1446.7 1530.5,1446.1 1531.1,1446.8 1531.6,1445.9 1532.2,1442.1 1532.7,1446.0 1533.3,1444.4 1533.8,1448.3 1534.4,1446.2 1534.9,1451.1 1535.5,1444.9 1536.0,1447.3 1536.6,1443.4 1537.1,1444.8 1537.7,1442.4 1538.2,1447.3 1538.8,1445.7 1539.3,1451.3 1539.9,1444.0 1540.4,1451.4 1541.0,1444.6 1541.5,1443.3 1542.1,1444.2 1542.6,1441.8 1543.2,1445.6 1543.7,1441.1 1544.3,1448.3 1544.8,1447.9 1545.4,1443.4 1545.9,1447.9 1546.5,1444.3 1547.0,1442.7 1547.6,1447.9 1548.1,1449.0 1548.7,1443.7 1549.2,1442.4 1549.8,1444.8 1550.3,1442.7 1550.9,1441.7 1551.4,1437.8 1552.0,1437.0 1552.5,1433.7 1553.1,1430.7 1553.6,1427.0 1554.2,1424.4 1554.7,1422.6 1555.3,1421.1 1555.8,1420.7 1556.4,1421.2 1556.9,1422.3 1557.5,1423.7 1558.0,1425.1 1558.6,1426.2 1559.1,1428.1 1559.7,1429.3 1560.2,1430.5 1560.8,1432.8 1561.3,1434.9 1561.9,1436.2 1562.4,1439.0 1563.0,1442.2 1563.5,1441.2 1564.1,1439.1 1564.6,1440.9 1565.2,1440.4 1565.7,1438.8 1566.3,1446.1 1566.8,1446.7 1567.4,1446.2 1567.9,1446.1 1568.5,1442.9 1569.0,1440.1 1569.6,1442.6 1570.1,1441.6 1570.7,1444.0 1571.2,1443.9 1571.8,1444.3 1572.3,1446.1 1572.9,1442.4 1573.4,1442.9 1574.0,1442.2 1574.5,1441.1 1575.1,1441.7 1575.6,1438.7 1576.2,1436.8 1576.7,1434.4 1577.3,1432.7 1577.8,1430.6 1578.4,1429.2 1578.9,1427.2 1579.5,1426.3 1580.0,1425.8 1580.6,1425.7 1581.1,1426.1 1581.7,1426.8 1582.2,1427.7 1582.8,1428.7 1583.3,1429.9 1583.9,1431.2 1584.4,1432.8 1585.0,1434.7 1585.5,1435.6 1586.1,1436.4 1586.6,1437.4 1587.2,1438.6 1587.7,1438.5 1588.3,1439.1 1588.8,1440.5 1589.4,1439.4 1589.9,1444.1 1590.5,1447.1 1591.0,1448.2 1591.6,1448.0 1592.1,1443.6 1592.7,1446.0 1593.2,1444.2 1593.8,1438.2 1594.3,1442.2 1594.9,1442.4 1595.4,1441.0 1596.0,1442.5 1596.5,1444.8 1597.1,1448.6 1597.6,1446.7 1598.2,1442.6 1598.7,1445.3 1599.3,1444.0 1599.8,1444.4 1600.4,1441.8 1600.9,1445.8 1601.5,1442.4 1602.0,1451.0 1602.6,1440.1 1603.1,1443.8 1603.7,1450.6 1604.2,1443.5 1604.8,1441.7 1605.3,1450.1 1605.9,1441.8 1606.4,1447.2 1607.0,1444.0 1607.5,1443.3 1608.1,1447.6 1608.6,1440.9 1609.2,1444.6 1609.7,1448.3 1610.3,1447.3 1610.8,1442.7 1611.4,1442.4 1611.9,1447.3 1612.5,1443.5 1613.0,1446.4 1613.6,1447.4 1614.1,1439.7 1614.7,1448.1 1615.2,1444.5 1615.8,1446.6 1616.3,1444.5 1616.9,1445.0 1617.4,1449.2 1618.0,1448.5 1618.5,1447.2 1619.1,1442.1 1619.6,1438.4 1620.2,1445.8 1620.7,1447.2 1621.3,1439.8 1621.8,1439.7 1622.4,1440.6 1622.9,1442.5 1623.5,1442.6 1624.0,1444.8 1624.6,1448.2 1625.1,1448.2 1625.7,1444.1 1626.2,1442.2 1626.8,1442.4 1627.3,1443.4 1627.9,1442.0 1628.4,1444.1 1629.0,1446.3 1629.5,1444.5 1630.1,1446.0 1630.6,1443.8 1631.2,1442.3 1631.7,1446.0 1632.3,1437.3 1632.8,1442.3 1633.4,1444.3 1633.9,1451.0 1634.5,1442.4 1635.0,1442.4 1635.6,1441.7 1636.1,1444.1 1636.7,1445.4 1637.2,1446.5 1637.8,1443.7 1638.3,1445.8 1638.9,1448.3 1639.4,1439.5 1640.0,1446.4 1640.5,1444.8 1641.1,1443.1 1641.6,1443.7 1642.2,1450.2 1642.7,1442.0 1643.3,1445.5 1643.8,1445.5 1644.4,1444.2 1644.9,1448.7 1645.5,1449.6 1646.0,1442.4 1646.6,1443.0 1647.1,1440.4 1647.7,1443.1 1648.2,1442.2 1648.8,1441.3 1649.3,1449.0 1649.9,1443.0 1650.4,1444.1 1651.0,1448.4 1651.5,1446.0 1652.1,1441.5 1652.6,1443.9 1653.2,1446.4 1653.7,1443.0 1654.3,1438.5 1654.8,1440.0 1655.4,1445.0 1655.9,1448.1 1656.5,1441.5 1657.0,1452.0 1657.6,1446.3 1658.1,1442.7 1658.7,1450.0 1659.2,1449.1 1659.8,1444.1 1660.3,1450.0 1660.9,1446.7 1661.4,1444.5 1662.0,1442.4 1662.5,1449.6 1663.1,1447.4 1663.6,1447.7 1664.2,1445.7 1664.7,1442.3 1665.3,1447.8 1665.8,1445.1 1666.4,1445.5 1666.9,1443.2 1667.5,1451.3 1668.0,1447.2 1668.6,1445.2 1669.1,1442.7 1669.7,1445.4 1670.2,1445.8 1670.8,1443.0 1671.3,1443.0 1671.9,1444.0 1672.4,1447.4 1673.0,1450.1 1673.5,1451.0 1674.1,1442.3 1674.6,1448.2 1675.2,1446.7 1675.7,1441.3 1676.3,1448.2 1676.8,1451.5 1677.4,1450.0 1677.9,1444.8 1678.5,1442.9 1679.0,1446.9 1679.6,1440.1 1680.1,1447.1 1680.7,1443.2 1681.2,1442.6 1681.8,1443.0 1682.3,1444.2 1682.9,1437.3 1683.4,1448.9 1684.0,1445.2 1684.5,1444.3 1685.1,1447.7 1685.6,1448.3 1686.2,1449.0 1686.7,1448.3 1687.3,1444.0 1687.8,1449.4 1688.4,1442.9 1688.9,1441.6 1689.5,1440.4 1690.0,1439.8 1690.6,1442.9 1691.1,1441.8 1691.7,1444.1 1692.2,1443.3 1692.8,1443.5 1693.3,1447.0 1693.9,1447.3 1694.4,1443.2 1695.0,1444.9 1695.5,1448.3 1696.1,1443.3 1696.6,1446.7 1697.2,1447.9 1697.7,1452.8 1698.3,1448.5 1698.8,1446.7 1699.4,1440.7 1699.9,1445.5 1700.5,1445.4 1701.0,1446.5 1701.6,1444.2 1702.1,1443.3 1702.7,1445.8 1703.2,1444.5 1703.8,1446.8 1704.3,1443.8 1704.9,1443.4 1705.4,1446.8 1706.0,1445.4 1706.5,1447.1 1707.1,1443.1 1707.6,1446.5 1708.2,1445.5 1708.7,1447.9 1709.3,1445.3 1709.8,1444.2 1710.4,1446.6 1710.9,1440.3 1711.5,1447.9 1712.0,1444.5 1712.6,1446.9 1713.1,1452.8 1713.7,1446.4 1714.2,1446.9 1714.8,1443.8 1715.3,1446.6 1715.9,1448.6 1716.4,1448.0 1717.0,1442.8 1717.5,1442.2 1718.1,1440.4 1718.6,1449.3 1719.2,1444.7 1719.7,1444.7 1720.3,1443.0 1720.8,1447.8 1721.4,1449.7 1721.9,1445.3 1722.5,1445.2 1723.0,1440.1 1723.6,1445.9 1724.1,1450.3 1724.7,1443.9 1725.2,1446.5 1725.8,1442.6 1726.3,1440.7 1726.9,1449.4 1727.4,1442.2 1728.0,1440.7 1728.5,1442.7 1729.1,1447.0 1729.6,1440.7 1730.2,1441.3 1730.7,1442.8 1731.3,1442.7 1731.8,1446.4 1732.4,1440.8 1732.9,1441.3 1733.5,1441.6 1734.0,1451.4 1734.6,1444.8 1735.1,1439.0 1735.7,1440.5 1736.2,1440.5 1736.8,1445.3 1737.3,1442.8 1737.9,1448.0 1738.4,1439.3 1739.0,1443.3 1739.5,1447.5 1740.1,1449.0 1740.6,1444.9 1741.2,1451.6 1741.7,1447.2 1742.3,1445.0 1742.8,1437.0 1743.4,1445.9 1743.9,1443.0 1744.5,1442.9 1745.0,1444.8 1745.6,1442.7 1746.1,1441.2 1746.7,1444.1 1747.2,1441.4 1747.8,1442.6 1748.3,1435.6 1748.9,1442.7 1749.4,1438.5 1750.0,1441.6 1750.5,1439.5 1751.1,1437.0 1751.6,1438.2 1752.2,1435.8 1752.7,1433.2 1753.3,1435.1 1753.8,1434.0 1754.4,1435.6 1754.9,1430.8 1755.5,1432.9 1756.0,1435.0 1756.6,1431.0 1757.1,1434.9 1757.7,1436.3 1758.2,1437.6 1758.8,1438.2 1759.3,1440.3 1759.9,1437.5 1760.4,1433.9 1761.0,1431.4 1761.5,1436.7 1762.1,1441.9 1762.6,1438.2 1763.2,1436.7 1763.7,1440.1 1764.3,1440.0 1764.8,1445.8 1765.4,1441.7 1765.9,1448.2 1766.5,1439.8 1767.0,1444.0 1767.6,1443.0 1768.1,1441.2 1768.7,1444.1 1769.2,1443.2 1769.8,1442.4 1770.3,1444.1 1770.9,1447.3 1771.4,1446.3 1772.0,1444.5 1772.5,1442.8 1773.1,1446.2 1773.6,1443.3 1774.2,1447.3 1774.7,1444.6 1775.3,1440.7 1775.8,1446.7 1776.4,1440.7 1776.9,1450.6 1777.5,1448.0 1778.0,1447.1 1778.6,1441.6 1779.1,1449.5 1779.7,1444.3 1780.2,1441.1 1780.8,1439.9 1781.3,1449.9 1781.9,1446.7 1782.4,1442.9 1783.0,1447.3 1783.5,1444.2 1784.1,1440.9 1784.6,1447.9 1785.2,1447.2 1785.7,1438.4 1786.3,1445.6 1786.8,1444.8 1787.4,1445.8 1787.9,1446.2 1788.5,1440.0 1789.0,1444.8 1789.6,1443.1 1790.1,1444.0 1790.7,1447.0 1791.2,1445.2 1791.8,1445.6 1792.3,1441.3 1792.9,1449.6 1793.4,1442.5 1794.0,1446.5 1794.5,1442.6 1795.1,1445.0 1795.6,1443.2 1796.2,1443.6 1796.7,1447.3 1797.3,1447.6 1797.8,1443.6 1798.4,1445.6 1798.9,1444.0 1799.5,1444.3 1800.0,1442.4 1800.6,1443.1 1801.1,1445.9 1801.7,1444.1 1802.2,1442.7 1802.8,1446.9 1803.3,1442.5 1803.9,1448.1 1804.4,1442.5 1805.0,1448.9 1805.5,1448.3 1806.1,1445.2 1806.6,1446.9 1807.2,1441.8 1807.7,1445.8 1808.3,1446.3 1808.8,1444.2 1809.4,1444.5 1809.9,1442.0 1810.5,1441.6 1811.0,1444.8 1811.6,1439.9 1812.1,1440.5 1812.7,1438.8 1813.2,1438.3 1813.8,1434.2 1814.3,1431.5 1814.9,1429.6 1815.4,1426.2 1816.0,1424.7 1816.5,1422.6 1817.1,1422.4 1817.6,1422.8 1818.2,1424.0 1818.7,1425.7 1819.3,1427.3 1819.8,1428.8 1820.4,1429.8 1820.9,1430.3 1821.5,1431.2 1822.0,1431.3 1822.6,1432.9 1823.1,1432.4 1823.7,1435.2 1824.2,1435.8 1824.8,1437.9 1825.3,1439.7 1825.9,1444.5 1826.4,1439.7 1827.0,1443.9 1827.5,1443.9 1828.1,1443.5 1828.6,1446.6 1829.2,1445.3 1829.7,1445.7 1830.3,1443.0 1830.8,1445.5 1831.4,1445.0 1831.9,1438.4 1832.5,1440.7 1833.0,1446.8 1833.6,1448.4 1834.1,1448.5 1834.7,1444.7 1835.2,1447.8 1835.8,1440.6 1836.3,1439.3 1836.9,1447.4 1837.4,1444.5 1838.0,1449.0 1838.5,1446.1 1839.1,1442.2 1839.6,1442.8 1840.2,1447.7 1840.7,1446.8 1841.3,1443.8 1841.8,1447.8 1842.4,1441.1 1842.9,1449.2 1843.5,1446.4 1844.0,1441.2 1844.6,1444.7 1845.1,1438.7 1845.7,1440.5 1846.2,1437.4 1846.8,1446.6 1847.3,1443.9 1847.9,1443.1 1848.4,1450.3 1849.0,1446.7 1849.5,1445.5 1850.1,1443.0 1850.6,1437.9 1851.2,1442.1 1851.7,1436.0 1852.3,1440.0 1852.8,1439.3 1853.4,1435.0 1853.9,1431.1 1854.5,1434.7 1855.0,1430.8 1855.6,1429.0 1856.1,1435.6 1856.7,1434.6 1857.2,1436.1 1857.8,1431.1 1858.3,1436.0 1858.9,1430.2 1859.4,1438.2 1860.0,1435.8 1860.5,1432.5 1861.1,1440.7 1861.6,1439.8 1862.2,1438.5 1862.7,1435.6 1863.3,1437.4 1863.8,1444.6 1864.4,1439.2 1864.9,1440.3 1865.5,1440.1 1866.0,1449.1 1866.6,1446.2 1867.1,1442.8 1867.7,1442.2 1868.2,1443.9 1868.8,1445.0 1869.3,1447.0 1869.9,1441.6 1870.4,1443.4 1871.0,1445.2 1871.5,1445.2 1872.1,1444.0 1872.6,1444.4 1873.2,1446.1 1873.7,1441.7 1874.3,1444.7 1874.8,1443.1 1875.4,1448.9 1875.9,1446.5 1876.5,1445.7 1877.0,1443.6 1877.6,1437.2 1878.1,1447.5 1878.7,1444.4 1879.2,1443.0 1879.8,1444.9 1880.3,1442.9 1880.9,1444.3 1881.4,1449.6 1882.0,1449.8 1882.5,1444.3 1883.1,1445.7 1883.6,1446.4 1884.2,1445.0 1884.7,1446.5 1885.3,1445.5 1885.8,1448.0 1886.4,1438.2 1886.9,1446.4 1887.5,1445.7 1888.0,1441.0 1888.6,1444.7 1889.1,1446.5 1889.7,1443.4 1890.2,1444.4 1890.8,1447.4 1891.3,1441.3 1891.9,1445.0 1892.4,1449.3 1893.0,1442.7 1893.5,1445.3 1894.1,1449.1 1894.6,1444.0 1895.2,1444.7 1895.7,1446.2 1896.3,1447.2 1896.8,1437.1 1897.4,1442.3 1897.9,1443.0 1898.5,1445.3 1899.0,1449.1 1899.6,1439.7 1900.1,1442.3 1900.7,1444.4 1901.2,1448.2 1901.8,1448.8 1902.3,1444.8 1902.9,1445.0 1903.4,1443.3 1904.0,1445.0 1904.5,1448.0 1905.1,1439.1 1905.6,1444.8 1906.2,1449.3 1906.7,1443.1 1907.3,1451.5 1907.8,1444.6 1908.4,1443.9 1908.9,1443.1 1909.5,1444.0 1910.0,1441.0 1910.6,1443.0 1911.1,1441.3 1911.7,1439.8 1912.2,1442.3 1912.8,1442.4 1913.3,1441.1 1913.9,1445.9 1914.4,1439.2 1915.0,1445.2 1915.5,1441.5 1916.1,1443.0 1916.6,1444.4 1917.2,1441.7 1917.7,1442.4 1918.3,1440.8 1918.8,1441.5 1919.4,1443.9 1919.9,1440.3 1920.5,1439.2 1921.0,1443.4 1921.6,1440.0 1922.1,1436.8 1922.7,1440.5 1923.2,1437.9 1923.8,1443.7 1924.3,1439.6 1924.9,1443.3 1925.4,1442.8 1926.0,1439.9 1926.5,1439.3 1927.1,1435.9 1927.6,1443.6 1928.2,1442.3 1928.7,1436.3 1929.3,1433.9 1929.8,1437.1 1930.4,1434.4 1930.9,1442.0 1931.5,1433.7 1932.0,1433.1 1932.6,1437.9 1933.1,1430.4 1933.7,1437.1 1934.2,1436.8 1934.8,1429.7 1935.3,1431.9 1935.9,1427.3 1936.4,1430.6 1937.0,1432.2 1937.5,1429.3 1938.1,1433.8 1938.6,1425.7 1939.2,1427.5 1939.7,1425.6 1940.3,1426.5 1940.8,1433.6 1941.4,1425.0 1941.9,1433.2 1942.5,1428.9 1943.0,1428.3 1943.6,1428.9 1944.1,1428.4 1944.7,1426.2 1945.2,1426.2 1945.8,1424.1 1946.3,1429.1 1946.9,1427.8 1947.4,1428.7 1948.0,1421.7 1948.5,1429.7 1949.1,1432.2 1949.6,1431.4 1950.2,1429.7 1950.7,1429.3 1951.3,1429.2 1951.8,1424.6 1952.4,1433.0 1952.9,1432.0 1953.5,1435.3 1954.0,1430.8 1954.6,1439.8 1955.1,1436.5 1955.7,1440.8 1956.2,1435.7 1956.8,1437.5 1957.3,1436.2 1957.9,1439.3 1958.4,1437.4 1959.0,1438.2 1959.5,1438.7 1960.1,1432.8 1960.6,1443.1 1961.2,1438.2 1961.7,1440.7 1962.3,1435.2 1962.8,1445.0 1963.4,1442.1 1963.9,1441.1 1964.5,1440.7 1965.0,1439.3 1965.6,1446.3 1966.1,1437.4 1966.7,1444.2 1967.2,1448.2 1967.8,1437.2 1968.3,1449.6 1968.9,1441.9 1969.4,1444.5 1970.0,1445.7 1970.5,1446.6 1971.1,1436.5 1971.6,1451.2 1972.2,1449.6 1972.7,1442.3 1973.3,1439.2 1973.8,1441.5 1974.4,1445.7 1974.9,1447.5 1975.5,1444.4 1976.0,1447.7 1976.6,1442.9 1977.1,1437.8 1977.7,1451.8 1978.2,1442.0 1978.8,1449.4 1979.3,1442.7 1979.9,1445.9 1980.4,1442.1 1981.0,1445.2 1981.5,1441.7 1982.1,1446.5 1982.6,1442.0 1983.2,1442.0 1983.7,1446.3 1984.3,1442.7 1984.8,1447.4 1985.4,1444.1 1985.9,1441.6 1986.5,1447.7 1987.0,1447.0 1987.6,1444.8 1988.1,1445.4 1988.7,1444.5 1989.2,1444.7 1989.8,1443.2 1990.3,1445.0 1990.9,1438.7 1991.4,1442.3 1992.0,1439.1 1992.5,1439.6 1993.1,1439.1 1993.6,1438.4 1994.2,1435.2 1994.7,1433.6 1995.3,1430.2 1995.8,1427.8 1996.4,1426.1 1996.9,1423.0 1997.5,1420.8 1998.0,1419.2 1998.6,1418.0 1999.1,1417.3 1999.7,1417.4 2000.2,1417.9 2000.8,1418.9 2001.3,1420.1 2001.9,1421.4 2002.4,1422.5 2003.0,1423.7 2003.5,1425.2 2004.1,1426.1 2004.6,1427.6 2005.2,1427.9 2005.7,1429.0 2006.3,1430.4 2006.8,1431.7 2007.4,1436.1 2007.9,1435.3 2008.5,1438.5 2009.0,1439.1 2009.6,1439.4 2010.1,1437.8 2010.7,1442.1 2011.2,1440.0 2011.8,1442.4 2012.3,1442.8 2012.9,1442.1 2013.4,1443.8 2014.0,1443.8 2014.5,1440.5 2015.1,1443.0 2015.6,1444.1 2016.2,1446.8 2016.7,1443.6 2017.3,1446.5 2017.8,1443.4 2018.4,1444.2 2018.9,1441.0 2019.5,1444.0 2020.0,1444.1 2020.6,1442.6 2021.1,1448.3 2021.7,1442.9 2022.2,1447.2 2022.8,1450.8 2023.3,1445.0 2023.9,1446.7 2024.4,1437.4 2025.0,1445.2 2025.5,1444.3 2026.1,1445.7 2026.6,1445.2 2027.2,1443.7 2027.7,1440.1 2028.3,1446.5 2028.8,1447.5 2029.4,1438.2 2029.9,1443.3 2030.5,1448.2 2031.0,1442.6 2031.6,1448.3 2032.1,1447.4 2032.7,1442.9 2033.2,1442.1 2033.8,1445.2 2034.3,1446.1 2034.9,1447.5 2035.4,1444.9 2036.0,1442.1 2036.5,1451.5 2037.1,1445.8 2037.6,1447.1 2038.2,1441.7 2038.7,1439.9 2039.3,1446.2 2039.8,1448.8 2040.4,1446.8 2040.9,1446.4 2041.5,1445.5 2042.0,1445.1 2042.6,1443.5 2043.1,1445.7 2043.7,1439.9 2044.2,1446.9 2044.8,1446.1 2045.3,1448.2 2045.9,1441.6 2046.4,1441.8 2047.0,1440.2 2047.5,1441.8 2048.1,1448.3 2048.6,1440.6 2049.2,1451.2 2049.7,1443.5 2050.3,1441.2 2050.8,1443.1 2051.4,1442.4 2051.9,1443.5 2052.5,1446.2 2053.0,1443.3 2053.6,1446.0 2054.1,1447.6 2054.7,1447.9 2055.2,1446.0 2055.8,1446.9 2056.3,1450.9 2056.9,1443.7 2057.4,1447.6 2058.0,1447.9 2058.5,1439.9 2059.1,1442.3 2059.6,1447.7 2060.2,1444.6 2060.7,1442.9 2061.3,1447.7 2061.8,1450.9 2062.4,1440.3 2062.9,1446.1 2063.5,1444.4 2064.0,1444.9 2064.6,1449.5 2065.1,1443.8 2065.7,1447.8 2066.2,1445.9 2066.8,1446.6 2067.3,1447.5"/>
</g>
<g id="markers" shape-rendering="crispEdges">
<g fill="#000"><polygon points="363.8,974.2 382.3,997.0 363.8,1019.8 345.3,997.0"/><polygon points="711.5,944.2 730.0,967.0 711.5,989.8 693.0,967.0"/><polygon points="731.8,909.0 750.3,931.8 731.8,954.5 713.3,931.8"/><polygon points="844.6,1084.3 863.1,1107.1 844.6,1129.8 826.1,1107.1"/><polygon points="974.5,1044.2 993.0,1067.0 974.5,1089.8 956.0,1067.0"/><polygon points="1082.8,875.2 1101.3,898.0 1082.8,920.8 1064.3,898.0"/><polygon points="1362.7,934.2 1381.2,957.0 1362.7,979.8 1344.2,957.0"/><polygon points="1337.5,1004.2 1356.0,1027.0 1337.5,1049.8 1319.0,1027.0"/><polygon points="1302.7,1065.2 1321.2,1088.0 1302.7,1110.8 1284.2,1088.0"/><polygon points="1555.3,1049.2 1573.8,1072.0 1555.3,1094.8 1536.8,1072.0"/><polygon points="1580.5,1074.2 1599.0,1097.0 1580.5,1119.8 1562.0,1097.0"/><polygon points="1654.5,1079.5 1673.0,1102.2 1654.5,1125.0 1636.0,1102.2"/><polygon points="1824.3,1069.5 1842.8,1092.3 1824.3,1115.0 1805.8,1092.3"/><polygon points="2007.5,1064.2 2026.0,1087.0 2007.5,1109.8 1989.0,1087.0"/><polygon points="1177.6,47.0 1196.1,69.8 1177.6,92.5 1159.1,69.8"/></g>
<g fill="none" stroke="#000" stroke-width="1"><rect x="639.8" y="1017.8" width="30.4" height="38.4"/><rect x="765.1" y="1072.9" width="30.4" height="38.4"/><rect x="1142.9" y="1017.8" width="30.4" height="38.4"/><rect x="1387.0" y="1042.9" width="30.4" height="38.4"/><rect x="1714.8" y="1082.6" width="30.4" height="38.4"/><rect x="1917.8" y="1092.6" width="30.4" height="38.4"/><rect x="1161.9" y="128.9" width="30.4" height="38.4"/></g>
</g>
<defs><clipPath id="k0"><path clip-rule="evenodd" d="M-40,-102.0 H680.0 V42.5 H-40 Z M4.15,-10.17 H19.88 V2.00 H4.15 Z M31.46,-10.17 H46.07 V2.00 H31.46 Z"/></clipPath><clipPath id="k1"><path clip-rule="evenodd" d="M-40,-102.0 H680.0 V42.5 H-40 Z M4.15,-10.17 H19.88 V2.00 H4.15 Z M31.46,-10.17 H46.07 V2.00 H31.46 Z M51.42,-10.17 H67.15 V2.00 H51.42 Z M78.73,-10.17 H93.34 V2.00 H78.73 Z"/></clipPath><clipPath id="k2"><path clip-rule="evenodd" d="M-40,-102.0 H680.0 V42.5 H-40 Z M4.15,-10.17 H19.88 V2.00 H4.15 Z M31.46,-10.17 H46.07 V2.00 H31.46 Z M98.70,-10.17 H114.43 V2.00 H98.70 Z M126.01,-10.17 H140.62 V2.00 H126.01 Z"/></clipPath><clipPath id="k3"><path clip-rule="evenodd" d="M-40,-102.0 H680.0 V42.5 H-40 Z M4.15,-10.17 H19.88 V2.00 H4.15 Z M31.46,-10.17 H46.07 V2.00 H31.46 Z M51.42,-10.17 H67.15 V2.00 H51.42 Z M78.73,-10.17 H93.34 V2.00 H78.73 Z M98.70,-10.17 H114.43 V2.00 H98.70 Z M126.01,-10.17 H140.62 V2.00 H126.01 Z"/></clipPath><clipPath id="k4"><path clip-rule="evenodd" d="M-40,-102.0 H680.0 V42.5 H-40 Z M98.70,-10.17 H114.43 V2.00 H98.70 Z M126.01,-10.17 H140.62 V2.00 H126.01 Z"/></clipPath><clipPath id="k5"><path clip-rule="evenodd" d="M-40,-102.0 H680.0 V42.5 H-40 Z M51.42,-10.17 H67.15 V2.00 H51.42 Z M78.73,-10.17 H93.34 V2.00 H78.73 Z"/></clipPath><clipPath id="k6"><path clip-rule="evenodd" d="M-40,-102.0 H680.0 V42.5 H-40 Z M51.42,-10.17 H67.15 V2.00 H51.42 Z M78.73,-10.17 H93.34 V2.00 H78.73 Z M98.70,-10.17 H114.43 V2.00 H98.70 Z M126.01,-10.17 H140.62 V2.00 H126.01 Z"/></clipPath></defs>
<g id="labels">
<g transform="translate(116.9 1549.0) scale(0.972 1)" clip-path="url(#k0)"><text class="s" font-size="85">10</text></g>
<text class="s" font-size="85" transform="translate(389.5 1549.0) scale(0.972 1)">20</text>
<text class="s" font-size="85" transform="translate(662.1 1549.0) scale(0.972 1)">30</text>
<text class="s" font-size="85" transform="translate(934.8 1549.0) scale(0.972 1)">40</text>
<text class="s" font-size="85" transform="translate(1207.4 1549.0) scale(0.972 1)">50</text>
<text class="s" font-size="85" transform="translate(1480.1 1549.0) scale(0.972 1)">60</text>
<text class="s" font-size="85" transform="translate(1752.7 1549.0) scale(0.972 1)">70</text>
<text class="s" font-size="85" transform="translate(2025.4 1549.0) scale(0.972 1)">80</text>
<g transform="translate(389.9 403.4) rotate(-90)" clip-path="url(#k0)"><text class="s" font-size="85">100</text></g>
<g transform="translate(678.9 388.3) rotate(-90)" clip-path="url(#k1)"><text class="s" font-size="85">110</text></g>
<g transform="translate(703.1 178.5) rotate(-90)" clip-path="url(#k2)"><text class="s" font-size="85">101</text></g>
<text class="s" font-size="85" transform="translate(862.4 525.7) rotate(-90)">200</text>
<g transform="translate(980.6 444.7) rotate(-90)" clip-path="url(#k3)"><text class="s" font-size="85">111</text></g>
<g transform="translate(1059.5 194.7) rotate(-90)" clip-path="url(#k4)"><text class="s" font-size="85">201</text></g>
<g transform="translate(1160.9 509.6) rotate(-90)" clip-path="url(#k5)"><text class="s" font-size="85">210</text></g>
<text class="s" font-size="85" transform="translate(1285.4 489.3) rotate(-90)">002</text>
<text class="s" font-size="85" transform="translate(1344.8 338.1) rotate(-90)">300</text>
<g transform="translate(1418.7 314.9) rotate(-90)" clip-path="url(#k6)"><text class="s" font-size="85">211</text></g>
<g transform="translate(1437.8 483.9) rotate(-90)" clip-path="url(#k0)"><text class="s" font-size="85">102</text></g>
<g transform="translate(1563.6 507.4) rotate(-90)" clip-path="url(#k1)"><text class="s" font-size="85">112</text></g>
<text class="s" font-size="85" transform="translate(1637.8 497.8) rotate(-90)">220</text>
<text class="s" font-size="85" transform="translate(1707.9 524.7) rotate(-90)">202</text>
<g transform="translate(1832.5 495.2) rotate(-90)" clip-path="url(#k6)"><text class="s" font-size="85">311</text></g>
<g transform="translate(1907.0 512.9) rotate(-90)" clip-path="url(#k5)"><text class="s" font-size="85">212</text></g>
<text class="s" font-size="85" transform="translate(2016.1 491.9) rotate(-90)">302</text>
<g transform="translate(686.2 1326.8) rotate(-90)" clip-path="url(#k3)"><text class="s" font-size="85">111</text></g>
<text class="s" font-size="85" transform="translate(825.9 1411.7) rotate(-90)">200</text>
<text class="s" font-size="85" transform="translate(1199.0 1343.3) rotate(-90)">220</text>
<g transform="translate(1437.9 1372.4) rotate(-90)" clip-path="url(#k6)"><text class="s" font-size="85">311</text></g>
<text class="s" font-size="85" transform="translate(1755.9 1397.8) rotate(-90)">400</text>
<g transform="translate(1939.6 1410.8) rotate(-90)" clip-path="url(#k4)"><text class="s" font-size="85">331</text></g>
<text class="s" font-size="85" transform="translate(2014.1 1411.8) rotate(-90)">420</text>
<text class="s" font-size="85" x="183.1" y="521.0">d</text>
<text class="s" font-size="85" x="176.7" y="814.6">c</text>
<text class="s" font-size="85" x="177.8" y="1095.5">b</text>
<text class="s" font-size="85" x="182.7" y="1378.8">a</text>
<text class="s" font-size="85" transform="translate(1923.7 296.9) scale(0.975 1)">24h</text>
<g transform="translate(1912.1 730.4) scale(0.975 1)" clip-path="url(#k0)"><text class="s" font-size="85">12h</text></g>
<text class="s" font-size="85" transform="translate(1962.6 1034.7) scale(0.975 1)">6h</text>
<text class="s" font-size="85" transform="translate(1962.6 1244.5) scale(0.975 1)">3h</text>
<text class="s" font-size="105" x="880.5" y="1664.6">2<tspan x="936.5" style="font-family:'Liberation Serif', 'Times New Roman', Times, serif;font-weight:normal" font-size="102" textLength="53" lengthAdjust="spacingAndGlyphs">θ</tspan><tspan x="989" textLength="373" lengthAdjust="spacingAndGlyphs">,degree</tspan></text>
<text class="s" font-size="110" transform="translate(96.9 1094) rotate(-90)">Intensity(a.u.)</text>
<text class="r" font-size="61" y="86"><tspan x="1206.5" font-size="56">β</tspan><tspan x="1236.5" textLength="176.5" lengthAdjust="spacingAndGlyphs">-NaYF</tspan><tspan x="1411.5" dy="25.5" font-size="60" textLength="28" lengthAdjust="spacingAndGlyphs">4</tspan><tspan dy="-25.5" x="1443" font-size="59.5" textLength="593.5" lengthAdjust="spacingAndGlyphs">:10%Nd,10%Yb,2%Er</tspan></text>
<text class="r" font-size="61" y="160.8"><tspan x="1200.5">α</tspan><tspan x="1235.5" textLength="174.5" lengthAdjust="spacingAndGlyphs">-NaYF</tspan><tspan x="1409" dy="25.5" font-size="60" textLength="28" lengthAdjust="spacingAndGlyphs">4</tspan><tspan dy="-25.5" x="1440.5" font-size="59.5" textLength="594" lengthAdjust="spacingAndGlyphs">:10%Nd,10%Yb,2%Er</tspan></text>
</g>
</svg></body></html>
